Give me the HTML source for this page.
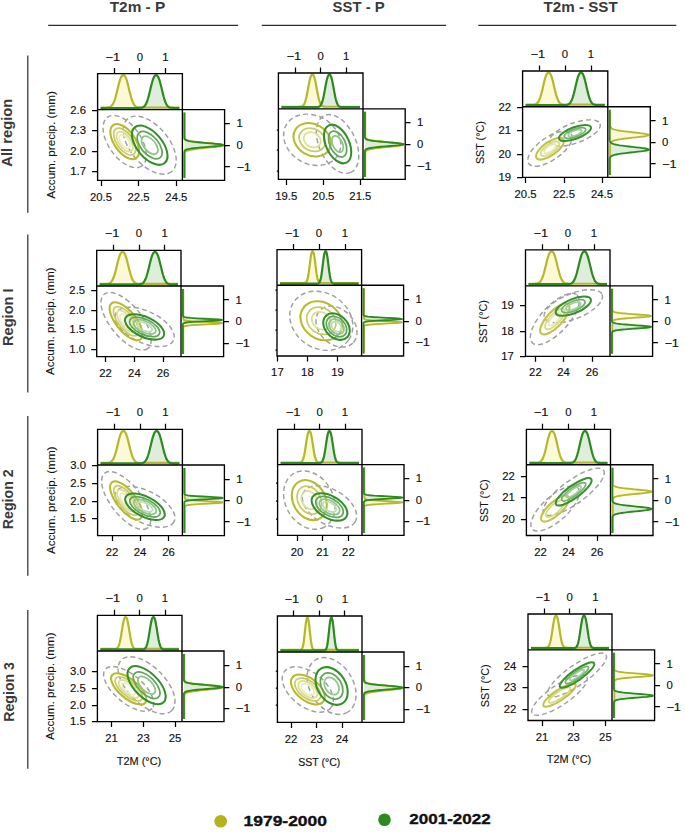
<!DOCTYPE html>
<html lang="en"><head><meta charset="utf-8"><title>Joint distributions</title>
<style>html,body{margin:0;padding:0;background:#fff}body{width:685px;height:836px;overflow:hidden;font-family:"Liberation Sans",sans-serif}svg{display:block}</style></head>
<body>
<svg width="685" height="836" viewBox="0 0 685 836" font-family="'Liberation Sans', sans-serif">
<rect width="685" height="836" fill="#ffffff"/>
<text x="137.5" y="12.3" font-size="14.7" text-anchor="middle" fill="#3a3a3a" font-weight="bold" textLength="55.6" lengthAdjust="spacingAndGlyphs">T2m - P</text>
<path d="M48.2 25.4H238" stroke="#2e2e2e" stroke-width="1.25" fill="none"/>
<text x="358.65" y="12.3" font-size="14.7" text-anchor="middle" fill="#3a3a3a" font-weight="bold" textLength="52.1" lengthAdjust="spacingAndGlyphs">SST - P</text>
<path d="M261.7 25.4H446" stroke="#2e2e2e" stroke-width="1.25" fill="none"/>
<text x="580.6" y="12.3" font-size="14.7" text-anchor="middle" fill="#3a3a3a" font-weight="bold" textLength="74.2" lengthAdjust="spacingAndGlyphs">T2m - SST</text>
<path d="M478.3 25.4H676.3" stroke="#2e2e2e" stroke-width="1.25" fill="none"/>
<text x="12.4" y="132.7" font-size="14.4" text-anchor="middle" fill="#3a3a3a" font-weight="bold" textLength="68.2" lengthAdjust="spacingAndGlyphs" transform="rotate(-90 12.4 132.7)">All region</text>
<path d="M27.8 55.5V212.7" stroke="#3a3a3a" stroke-width="1.3" fill="none"/>
<text x="13.2" y="317.2" font-size="14.4" text-anchor="middle" fill="#3a3a3a" font-weight="bold" textLength="57.6" lengthAdjust="spacingAndGlyphs" transform="rotate(-90 13.2 317.2)">Region I</text>
<path d="M27.8 234.5V392.5" stroke="#3a3a3a" stroke-width="1.3" fill="none"/>
<text x="12.6" y="499.3" font-size="14.4" text-anchor="middle" fill="#3a3a3a" font-weight="bold" textLength="59.8" lengthAdjust="spacingAndGlyphs" transform="rotate(-90 12.6 499.3)">Region 2</text>
<path d="M27.8 416V575.8" stroke="#3a3a3a" stroke-width="1.3" fill="none"/>
<text x="13.6" y="691.9" font-size="14.4" text-anchor="middle" fill="#3a3a3a" font-weight="bold" textLength="59.8" lengthAdjust="spacingAndGlyphs" transform="rotate(-90 13.6 691.9)">Region 3</text>
<path d="M27.8 610.1V768.7" stroke="#3a3a3a" stroke-width="1.3" fill="none"/>
<g>
<path d="M100.6 107.9 L100.6 107.9 L101.2 107.9 L101.8 107.9 L102.4 107.9 L103.01 107.9 L103.61 107.9 L104.21 107.9 L104.81 107.89 L105.41 107.89 L106.01 107.87 L106.62 107.85 L107.22 107.82 L107.82 107.77 L108.42 107.69 L109.02 107.57 L109.62 107.38 L110.22 107.12 L110.83 106.76 L111.43 106.27 L112.03 105.61 L112.63 104.76 L113.23 103.7 L113.83 102.39 L114.44 100.82 L115.04 99.01 L115.64 96.96 L116.24 94.7 L116.84 92.28 L117.44 89.78 L118.04 87.26 L118.65 84.81 L119.25 82.51 L119.85 80.44 L120.45 78.68 L121.05 77.26 L121.65 76.23 L122.25 75.56 L122.86 75.25 L123.46 75.2 L124.06 75.38 L124.66 75.87 L125.26 76.72 L125.86 77.96 L126.47 79.57 L127.07 81.5 L127.67 83.69 L128.27 86.08 L128.87 88.58 L129.47 91.1 L130.07 93.57 L130.68 95.91 L131.28 98.06 L131.88 99.99 L132.48 101.68 L133.08 103.11 L133.68 104.29 L134.29 105.23 L134.89 105.98 L135.49 106.55 L136.09 106.97 L136.69 107.27 L137.29 107.49 L137.89 107.64 L138.5 107.73 L139.1 107.8 L139.7 107.84 L140.3 107.87 L140.9 107.88 L141.5 107.89 L142.11 107.89 L142.71 107.9 L143.31 107.9 L143.91 107.9 L144.51 107.9 L145.11 107.9 L145.71 107.9 L146.32 107.9 L146.92 107.9 L147.52 107.9 L148.12 107.9 L148.72 107.9 L149.32 107.9 L149.93 107.9 L150.53 107.9 L151.13 107.9 L151.73 107.9 L152.33 107.9 L152.93 107.9 L153.53 107.9 L154.14 107.9 L154.74 107.9 L155.34 107.9 L155.94 107.9 L156.54 107.9 L157.14 107.9 L157.75 107.9 L158.35 107.9 L158.95 107.9 L159.55 107.9 L160.15 107.9 L160.75 107.9 L161.35 107.9 L161.96 107.9 L162.56 107.9 L163.16 107.9 L163.76 107.9 L164.36 107.9 L164.96 107.9 L165.56 107.9 L166.17 107.9 L166.77 107.9 L167.37 107.9 L167.97 107.9 L168.57 107.9 L169.17 107.9 L169.78 107.9 L170.38 107.9 L170.98 107.9 L171.58 107.9 L172.18 107.9 L172.78 107.9 L173.38 107.9 L173.99 107.9 L174.59 107.9 L175.19 107.9 L175.79 107.9 L176.39 107.9 L176.99 107.9 L177.6 107.9 L178.2 107.9 L178.8 107.9 L179.4 107.9 L179.4 107.9Z" fill="#fdf7cf" fill-opacity="0.85" stroke="none"/>
<path d="M100.6 107.9 L100.6 107.9 L101.2 107.9 L101.8 107.9 L102.4 107.9 L103.01 107.9 L103.61 107.9 L104.21 107.9 L104.81 107.9 L105.41 107.9 L106.01 107.9 L106.62 107.9 L107.22 107.9 L107.82 107.9 L108.42 107.9 L109.02 107.9 L109.62 107.9 L110.22 107.9 L110.83 107.9 L111.43 107.9 L112.03 107.9 L112.63 107.9 L113.23 107.9 L113.83 107.9 L114.44 107.9 L115.04 107.9 L115.64 107.9 L116.24 107.9 L116.84 107.9 L117.44 107.9 L118.04 107.9 L118.65 107.9 L119.25 107.9 L119.85 107.9 L120.45 107.9 L121.05 107.9 L121.65 107.9 L122.25 107.9 L122.86 107.9 L123.46 107.9 L124.06 107.9 L124.66 107.9 L125.26 107.9 L125.86 107.9 L126.47 107.9 L127.07 107.9 L127.67 107.9 L128.27 107.9 L128.87 107.9 L129.47 107.9 L130.07 107.9 L130.68 107.9 L131.28 107.9 L131.88 107.9 L132.48 107.9 L133.08 107.9 L133.68 107.9 L134.29 107.9 L134.89 107.9 L135.49 107.9 L136.09 107.9 L136.69 107.9 L137.29 107.89 L137.89 107.89 L138.5 107.88 L139.1 107.87 L139.7 107.84 L140.3 107.8 L140.9 107.73 L141.5 107.64 L142.11 107.49 L142.71 107.27 L143.31 106.97 L143.91 106.55 L144.51 105.98 L145.11 105.24 L145.71 104.29 L146.32 103.11 L146.92 101.68 L147.52 100 L148.12 98.07 L148.72 95.91 L149.32 93.57 L149.93 91.11 L150.53 88.58 L151.13 86.09 L151.73 83.7 L152.33 81.5 L152.93 79.57 L153.53 77.97 L154.14 76.73 L154.74 75.87 L155.34 75.38 L155.94 75.2 L156.54 75.25 L157.14 75.56 L157.75 76.22 L158.35 77.26 L158.95 78.68 L159.55 80.44 L160.15 82.5 L160.75 84.8 L161.35 87.25 L161.96 89.77 L162.56 92.28 L163.16 94.69 L163.76 96.95 L164.36 99 L164.96 100.82 L165.56 102.38 L166.17 103.69 L166.77 104.76 L167.37 105.61 L167.97 106.27 L168.57 106.76 L169.17 107.12 L169.78 107.38 L170.38 107.56 L170.98 107.69 L171.58 107.77 L172.18 107.82 L172.78 107.85 L173.38 107.87 L173.99 107.89 L174.59 107.89 L175.19 107.9 L175.79 107.9 L176.39 107.9 L176.99 107.9 L177.6 107.9 L178.2 107.9 L178.8 107.9 L179.4 107.9 L179.4 107.9Z" fill="#d9ead6" fill-opacity="0.85" stroke="none"/>
<path d="M100.6 107.55 L101.2 107.55 L101.8 107.55 L102.4 107.55 L103.01 107.55 L103.61 107.55 L104.21 107.55 L104.81 107.54 L105.41 107.54 L106.01 107.52 L106.62 107.5 L107.22 107.47 L107.82 107.42 L108.42 107.34 L109.02 107.22 L109.62 107.04 L110.22 106.78 L110.83 106.42 L111.43 105.93 L112.03 105.29 L112.63 104.45 L113.23 103.39 L113.83 102.1 L114.44 100.55 L115.04 98.75 L115.64 96.72 L116.24 94.49 L116.84 92.1 L117.44 89.62 L118.04 87.13 L118.65 84.7 L119.25 82.43 L119.85 80.39 L120.45 78.64 L121.05 77.24 L121.65 76.21 L122.25 75.56 L122.86 75.25 L123.46 75.2 L124.06 75.37 L124.66 75.86 L125.26 76.71 L125.86 77.93 L126.47 79.52 L127.07 81.43 L127.67 83.6 L128.27 85.96 L128.87 88.43 L129.47 90.93 L130.07 93.37 L130.68 95.68 L131.28 97.82 L131.88 99.73 L132.48 101.39 L133.08 102.81 L133.68 103.97 L134.29 104.91 L134.89 105.65 L135.49 106.21 L136.09 106.63 L136.69 106.93 L137.29 107.14 L137.89 107.29 L138.5 107.39 L139.1 107.45 L139.7 107.49 L140.3 107.52 L140.9 107.53 L141.5 107.54 L142.11 107.54 L142.71 107.55 L143.31 107.55 L143.91 107.55 L144.51 107.55 L145.11 107.55 L145.71 107.55 L146.32 107.55 L146.92 107.55 L147.52 107.55 L148.12 107.55 L148.72 107.55 L149.32 107.55 L149.93 107.55 L150.53 107.55 L151.13 107.55 L151.73 107.55 L152.33 107.55 L152.93 107.55 L153.53 107.55 L154.14 107.55 L154.74 107.55 L155.34 107.55 L155.94 107.55 L156.54 107.55 L157.14 107.55 L157.75 107.55 L158.35 107.55 L158.95 107.55 L159.55 107.55 L160.15 107.55 L160.75 107.55 L161.35 107.55 L161.96 107.55 L162.56 107.55 L163.16 107.55 L163.76 107.55 L164.36 107.55 L164.96 107.55 L165.56 107.55 L166.17 107.55 L166.77 107.55 L167.37 107.55 L167.97 107.55 L168.57 107.55 L169.17 107.55 L169.78 107.55 L170.38 107.55 L170.98 107.55 L171.58 107.55 L172.18 107.55 L172.78 107.55 L173.38 107.55 L173.99 107.55 L174.59 107.55 L175.19 107.55 L175.79 107.55 L176.39 107.55 L176.99 107.55 L177.6 107.55 L178.2 107.55 L178.8 107.55 L179.4 107.55" fill="none" stroke="#b5b82a" stroke-width="2.2" stroke-linejoin="round"/>
<path d="M100.6 108 L101.2 108 L101.8 108 L102.4 108 L103.01 108 L103.61 108 L104.21 108 L104.81 108 L105.41 108 L106.01 108 L106.62 108 L107.22 108 L107.82 108 L108.42 108 L109.02 108 L109.62 108 L110.22 108 L110.83 108 L111.43 108 L112.03 108 L112.63 108 L113.23 108 L113.83 108 L114.44 108 L115.04 108 L115.64 108 L116.24 108 L116.84 108 L117.44 108 L118.04 108 L118.65 108 L119.25 108 L119.85 108 L120.45 108 L121.05 108 L121.65 108 L122.25 108 L122.86 108 L123.46 108 L124.06 108 L124.66 108 L125.26 108 L125.86 108 L126.47 108 L127.07 108 L127.67 108 L128.27 108 L128.87 108 L129.47 108 L130.07 108 L130.68 108 L131.28 108 L131.88 108 L132.48 108 L133.08 108 L133.68 108 L134.29 108 L134.89 108 L135.49 108 L136.09 108 L136.69 108 L137.29 107.99 L137.89 107.99 L138.5 107.98 L139.1 107.97 L139.7 107.94 L140.3 107.9 L140.9 107.83 L141.5 107.74 L142.11 107.59 L142.71 107.37 L143.31 107.07 L143.91 106.64 L144.51 106.07 L145.11 105.33 L145.71 104.38 L146.32 103.19 L146.92 101.76 L147.52 100.07 L148.12 98.14 L148.72 95.98 L149.32 93.63 L149.93 91.15 L150.53 88.62 L151.13 86.12 L151.73 83.72 L152.33 81.52 L152.93 79.58 L153.53 77.97 L154.14 76.73 L154.74 75.87 L155.34 75.38 L155.94 75.2 L156.54 75.25 L157.14 75.56 L157.75 76.23 L158.35 77.27 L158.95 78.69 L159.55 80.46 L160.15 82.53 L160.75 84.83 L161.35 87.29 L161.96 89.81 L162.56 92.33 L163.16 94.75 L163.76 97.02 L164.36 99.08 L164.96 100.9 L165.56 102.47 L166.17 103.78 L166.77 104.85 L167.37 105.7 L167.97 106.36 L168.57 106.86 L169.17 107.22 L169.78 107.48 L170.38 107.66 L170.98 107.79 L171.58 107.87 L172.18 107.92 L172.78 107.95 L173.38 107.97 L173.99 107.99 L174.59 107.99 L175.19 108 L175.79 108 L176.39 108 L176.99 108 L177.6 108 L178.2 108 L178.8 108 L179.4 108" fill="none" stroke="#2c8a1e" stroke-width="2.2" stroke-linejoin="round"/>
<path d="M184.4 112.6 L184.4 112.6 L184.4 113 L184.4 113.4 L184.4 113.8 L184.4 114.2 L184.4 114.6 L184.4 115 L184.4 115.4 L184.4 115.8 L184.4 116.21 L184.4 116.61 L184.4 117.01 L184.4 117.41 L184.4 117.81 L184.4 118.21 L184.4 118.61 L184.4 119.01 L184.4 119.41 L184.4 119.81 L184.4 120.21 L184.4 120.61 L184.4 121.01 L184.4 121.41 L184.4 121.81 L184.4 122.21 L184.4 122.62 L184.4 123.02 L184.4 123.42 L184.4 123.82 L184.4 124.22 L184.4 124.62 L184.4 125.02 L184.4 125.42 L184.4 125.82 L184.4 126.22 L184.4 126.62 L184.4 127.02 L184.4 127.42 L184.4 127.82 L184.4 128.22 L184.4 128.62 L184.4 129.03 L184.4 129.43 L184.4 129.83 L184.4 130.23 L184.4 130.63 L184.4 131.03 L184.4 131.43 L184.4 131.83 L184.4 132.23 L184.4 132.63 L184.4 133.03 L184.4 133.43 L184.4 133.83 L184.4 134.23 L184.4 134.63 L184.4 135.03 L184.4 135.43 L184.41 135.84 L184.41 136.24 L184.43 136.64 L184.45 137.04 L184.5 137.44 L184.57 137.84 L184.7 138.24 L184.92 138.64 L185.25 139.04 L185.75 139.44 L186.49 139.84 L187.53 140.24 L188.96 140.64 L190.84 141.04 L193.22 141.44 L196.12 141.84 L199.51 142.25 L203.3 142.65 L207.33 143.05 L211.39 143.45 L215.22 143.85 L218.54 144.25 L221.09 144.65 L222.65 145.05 L223.09 145.45 L222.36 145.85 L220.54 146.25 L217.77 146.65 L214.29 147.05 L210.38 147.45 L206.3 147.85 L202.31 148.25 L198.61 148.66 L195.34 149.06 L192.57 149.46 L190.32 149.86 L188.56 150.26 L187.24 150.66 L186.28 151.06 L185.6 151.46 L185.15 151.86 L184.85 152.26 L184.67 152.66 L184.55 153.06 L184.48 153.46 L184.44 153.86 L184.42 154.26 L184.41 154.66 L184.41 155.07 L184.4 155.47 L184.4 155.87 L184.4 156.27 L184.4 156.67 L184.4 157.07 L184.4 157.47 L184.4 157.87 L184.4 158.27 L184.4 158.67 L184.4 159.07 L184.4 159.47 L184.4 159.87 L184.4 160.27 L184.4 160.67 L184.4 161.07 L184.4 161.47 L184.4 161.88 L184.4 162.28 L184.4 162.68 L184.4 163.08 L184.4 163.48 L184.4 163.88 L184.4 164.28 L184.4 164.68 L184.4 165.08 L184.4 165.48 L184.4 165.88 L184.4 166.28 L184.4 166.68 L184.4 167.08 L184.4 167.48 L184.4 167.88 L184.4 168.29 L184.4 168.69 L184.4 169.09 L184.4 169.49 L184.4 169.89 L184.4 170.29 L184.4 170.69 L184.4 171.09 L184.4 171.49 L184.4 171.89 L184.4 172.29 L184.4 172.69 L184.4 173.09 L184.4 173.49 L184.4 173.89 L184.4 174.29 L184.4 174.7 L184.4 175.1 L184.4 175.5 L184.4 175.9 L184.4 176.3 L184.4 176.7 L184.4 177.1 L184.4 177.5 L184.4 177.9 L184.4 177.9Z" fill="#fdf7cf" fill-opacity="0.85" stroke="none"/>
<path d="M184.4 112.6 L184.4 112.6 L184.4 113 L184.4 113.4 L184.4 113.8 L184.4 114.2 L184.4 114.6 L184.4 115 L184.4 115.4 L184.4 115.8 L184.4 116.21 L184.4 116.61 L184.4 117.01 L184.4 117.41 L184.4 117.81 L184.4 118.21 L184.4 118.61 L184.4 119.01 L184.4 119.41 L184.4 119.81 L184.4 120.21 L184.4 120.61 L184.4 121.01 L184.4 121.41 L184.4 121.81 L184.4 122.21 L184.4 122.62 L184.4 123.02 L184.4 123.42 L184.4 123.82 L184.4 124.22 L184.4 124.62 L184.4 125.02 L184.4 125.42 L184.4 125.82 L184.4 126.22 L184.4 126.62 L184.4 127.02 L184.4 127.42 L184.4 127.82 L184.4 128.22 L184.4 128.62 L184.4 129.03 L184.4 129.43 L184.4 129.83 L184.4 130.23 L184.4 130.63 L184.4 131.03 L184.4 131.43 L184.4 131.83 L184.4 132.23 L184.4 132.63 L184.4 133.03 L184.4 133.43 L184.4 133.83 L184.4 134.23 L184.4 134.63 L184.4 135.03 L184.4 135.43 L184.4 135.84 L184.4 136.24 L184.4 136.64 L184.41 137.04 L184.41 137.44 L184.43 137.84 L184.47 138.24 L184.54 138.64 L184.68 139.04 L184.94 139.44 L185.37 139.84 L186.08 140.24 L187.19 140.64 L188.83 141.04 L191.12 141.44 L194.15 141.84 L197.93 142.25 L202.36 142.65 L207.21 143.05 L212.11 143.45 L216.6 143.85 L220.19 144.25 L222.45 144.65 L223.09 145.05 L222.03 145.45 L219.41 145.85 L215.55 146.25 L210.92 146.65 L205.99 147.05 L201.21 147.45 L196.92 147.85 L193.32 148.25 L190.48 148.66 L188.36 149.06 L186.87 149.46 L185.87 149.86 L185.24 150.26 L184.86 150.66 L184.64 151.06 L184.52 151.46 L184.46 151.86 L184.43 152.26 L184.41 152.66 L184.4 153.06 L184.4 153.46 L184.4 153.86 L184.4 154.26 L184.4 154.66 L184.4 155.07 L184.4 155.47 L184.4 155.87 L184.4 156.27 L184.4 156.67 L184.4 157.07 L184.4 157.47 L184.4 157.87 L184.4 158.27 L184.4 158.67 L184.4 159.07 L184.4 159.47 L184.4 159.87 L184.4 160.27 L184.4 160.67 L184.4 161.07 L184.4 161.47 L184.4 161.88 L184.4 162.28 L184.4 162.68 L184.4 163.08 L184.4 163.48 L184.4 163.88 L184.4 164.28 L184.4 164.68 L184.4 165.08 L184.4 165.48 L184.4 165.88 L184.4 166.28 L184.4 166.68 L184.4 167.08 L184.4 167.48 L184.4 167.88 L184.4 168.29 L184.4 168.69 L184.4 169.09 L184.4 169.49 L184.4 169.89 L184.4 170.29 L184.4 170.69 L184.4 171.09 L184.4 171.49 L184.4 171.89 L184.4 172.29 L184.4 172.69 L184.4 173.09 L184.4 173.49 L184.4 173.89 L184.4 174.29 L184.4 174.7 L184.4 175.1 L184.4 175.5 L184.4 175.9 L184.4 176.3 L184.4 176.7 L184.4 177.1 L184.4 177.5 L184.4 177.9 L184.4 177.9Z" fill="#d9ead6" fill-opacity="0.85" stroke="none"/>
<path d="M184.7 112.6 L184.7 113 L184.7 113.4 L184.7 113.8 L184.7 114.2 L184.7 114.6 L184.7 115 L184.7 115.4 L184.7 115.8 L184.7 116.21 L184.7 116.61 L184.7 117.01 L184.7 117.41 L184.7 117.81 L184.7 118.21 L184.7 118.61 L184.7 119.01 L184.7 119.41 L184.7 119.81 L184.7 120.21 L184.7 120.61 L184.7 121.01 L184.7 121.41 L184.7 121.81 L184.7 122.21 L184.7 122.62 L184.7 123.02 L184.7 123.42 L184.7 123.82 L184.7 124.22 L184.7 124.62 L184.7 125.02 L184.7 125.42 L184.7 125.82 L184.7 126.22 L184.7 126.62 L184.7 127.02 L184.7 127.42 L184.7 127.82 L184.7 128.22 L184.7 128.62 L184.7 129.03 L184.7 129.43 L184.7 129.83 L184.7 130.23 L184.7 130.63 L184.7 131.03 L184.7 131.43 L184.7 131.83 L184.7 132.23 L184.7 132.63 L184.7 133.03 L184.7 133.43 L184.7 133.83 L184.7 134.23 L184.7 134.63 L184.7 135.03 L184.7 135.43 L184.71 135.84 L184.71 136.24 L184.73 136.64 L184.75 137.04 L184.8 137.44 L184.87 137.84 L185 138.24 L185.21 138.64 L185.54 139.04 L186.04 139.44 L186.77 139.84 L187.81 140.24 L189.22 140.64 L191.09 141.04 L193.45 141.44 L196.33 141.84 L199.69 142.25 L203.45 142.65 L207.45 143.05 L211.48 143.45 L215.28 143.85 L218.58 144.25 L221.11 144.65 L222.66 145.05 L223.09 145.45 L222.37 145.85 L220.56 146.25 L217.81 146.65 L214.36 147.05 L210.48 147.45 L206.43 147.85 L202.48 148.25 L198.8 148.66 L195.56 149.06 L192.81 149.46 L190.57 149.86 L188.83 150.26 L187.51 150.66 L186.56 151.06 L185.89 151.46 L185.44 151.86 L185.15 152.26 L184.96 152.66 L184.85 153.06 L184.78 153.46 L184.74 153.86 L184.72 154.26 L184.71 154.66 L184.71 155.07 L184.7 155.47 L184.7 155.87 L184.7 156.27 L184.7 156.67 L184.7 157.07 L184.7 157.47 L184.7 157.87 L184.7 158.27 L184.7 158.67 L184.7 159.07 L184.7 159.47 L184.7 159.87 L184.7 160.27 L184.7 160.67 L184.7 161.07 L184.7 161.47 L184.7 161.88 L184.7 162.28 L184.7 162.68 L184.7 163.08 L184.7 163.48 L184.7 163.88 L184.7 164.28 L184.7 164.68 L184.7 165.08 L184.7 165.48 L184.7 165.88 L184.7 166.28 L184.7 166.68 L184.7 167.08 L184.7 167.48 L184.7 167.88 L184.7 168.29 L184.7 168.69 L184.7 169.09 L184.7 169.49 L184.7 169.89 L184.7 170.29 L184.7 170.69 L184.7 171.09 L184.7 171.49 L184.7 171.89 L184.7 172.29 L184.7 172.69 L184.7 173.09 L184.7 173.49 L184.7 173.89 L184.7 174.29 L184.7 174.7 L184.7 175.1 L184.7 175.5 L184.7 175.9 L184.7 176.3 L184.7 176.7 L184.7 177.1 L184.7 177.5 L184.7 177.9" fill="none" stroke="#b5b82a" stroke-width="1.85" stroke-linejoin="round"/>
<path d="M184.3 112.6 L184.3 113 L184.3 113.4 L184.3 113.8 L184.3 114.2 L184.3 114.6 L184.3 115 L184.3 115.4 L184.3 115.8 L184.3 116.21 L184.3 116.61 L184.3 117.01 L184.3 117.41 L184.3 117.81 L184.3 118.21 L184.3 118.61 L184.3 119.01 L184.3 119.41 L184.3 119.81 L184.3 120.21 L184.3 120.61 L184.3 121.01 L184.3 121.41 L184.3 121.81 L184.3 122.21 L184.3 122.62 L184.3 123.02 L184.3 123.42 L184.3 123.82 L184.3 124.22 L184.3 124.62 L184.3 125.02 L184.3 125.42 L184.3 125.82 L184.3 126.22 L184.3 126.62 L184.3 127.02 L184.3 127.42 L184.3 127.82 L184.3 128.22 L184.3 128.62 L184.3 129.03 L184.3 129.43 L184.3 129.83 L184.3 130.23 L184.3 130.63 L184.3 131.03 L184.3 131.43 L184.3 131.83 L184.3 132.23 L184.3 132.63 L184.3 133.03 L184.3 133.43 L184.3 133.83 L184.3 134.23 L184.3 134.63 L184.3 135.03 L184.3 135.43 L184.3 135.84 L184.3 136.24 L184.3 136.64 L184.31 137.04 L184.31 137.44 L184.33 137.84 L184.37 138.24 L184.44 138.64 L184.58 139.04 L184.84 139.44 L185.27 139.84 L185.99 140.24 L187.1 140.64 L188.74 141.04 L191.03 141.44 L194.07 141.84 L197.86 142.25 L202.31 142.65 L207.17 143.05 L212.08 143.45 L216.58 143.85 L220.18 144.25 L222.44 144.65 L223.09 145.05 L222.03 145.45 L219.4 145.85 L215.53 146.25 L210.89 146.65 L205.95 147.05 L201.16 147.45 L196.86 147.85 L193.25 148.25 L190.4 148.66 L188.28 149.06 L186.78 149.46 L185.78 149.86 L185.14 150.26 L184.76 150.66 L184.54 151.06 L184.42 151.46 L184.36 151.86 L184.33 152.26 L184.31 152.66 L184.3 153.06 L184.3 153.46 L184.3 153.86 L184.3 154.26 L184.3 154.66 L184.3 155.07 L184.3 155.47 L184.3 155.87 L184.3 156.27 L184.3 156.67 L184.3 157.07 L184.3 157.47 L184.3 157.87 L184.3 158.27 L184.3 158.67 L184.3 159.07 L184.3 159.47 L184.3 159.87 L184.3 160.27 L184.3 160.67 L184.3 161.07 L184.3 161.47 L184.3 161.88 L184.3 162.28 L184.3 162.68 L184.3 163.08 L184.3 163.48 L184.3 163.88 L184.3 164.28 L184.3 164.68 L184.3 165.08 L184.3 165.48 L184.3 165.88 L184.3 166.28 L184.3 166.68 L184.3 167.08 L184.3 167.48 L184.3 167.88 L184.3 168.29 L184.3 168.69 L184.3 169.09 L184.3 169.49 L184.3 169.89 L184.3 170.29 L184.3 170.69 L184.3 171.09 L184.3 171.49 L184.3 171.89 L184.3 172.29 L184.3 172.69 L184.3 173.09 L184.3 173.49 L184.3 173.89 L184.3 174.29 L184.3 174.7 L184.3 175.1 L184.3 175.5 L184.3 175.9 L184.3 176.3 L184.3 176.7 L184.3 177.1 L184.3 177.5 L184.3 177.9" fill="none" stroke="#2c8a1e" stroke-width="1.85" stroke-linejoin="round"/>
<ellipse cx="124.7" cy="141.6" rx="29.82" ry="16.19" transform="rotate(55 124.7 141.6)" fill="none" stroke="#9e9ea5" stroke-width="1.45" stroke-dasharray="5 3.1"/>
<ellipse cx="149.7" cy="145.2" rx="34.36" ry="19.17" transform="rotate(50 149.7 145.2)" fill="none" stroke="#9e9ea5" stroke-width="1.45" stroke-dasharray="5 3.1"/>
<ellipse cx="124.7" cy="141.6" rx="7.64" ry="3.99" transform="rotate(55 124.7 141.6)" fill="none" stroke="#ecedbd" stroke-width="1.75"/>
<ellipse cx="124.7" cy="141.6" rx="11.46" ry="5.98" transform="rotate(55 124.7 141.6)" fill="none" stroke="#dcde92" stroke-width="1.75"/>
<ellipse cx="124.7" cy="141.6" rx="15.48" ry="8.09" transform="rotate(55 124.7 141.6)" fill="none" stroke="#c9cc62" stroke-width="1.75"/>
<ellipse cx="124.7" cy="141.6" rx="20.1" ry="10.5" transform="rotate(55 124.7 141.6)" fill="none" stroke="#b7ba2e" stroke-width="2.05"/>
<ellipse cx="149.7" cy="145.2" rx="10.72" ry="5.8" transform="rotate(50 149.7 145.2)" fill="none" stroke="#8fc489" stroke-width="1.75"/>
<ellipse cx="149.7" cy="145.2" rx="16.31" ry="8.82" transform="rotate(50 149.7 145.2)" fill="none" stroke="#5fa757" stroke-width="1.75"/>
<ellipse cx="149.7" cy="145.2" rx="23.3" ry="12.6" transform="rotate(50 149.7 145.2)" fill="none" stroke="#338f29" stroke-width="2.05"/>
<path d="M97.6 73.6H182.4V109.6H224.6V180.4H97.6V73.6H97.6Z" fill="none" stroke="#000" stroke-width="1.35"/>
<path d="M97.6 109.6H182.4M182.4 109.6V180.4" fill="none" stroke="#000" stroke-width="1.35"/>
<text x="101" y="200.5" font-size="10.4" text-anchor="middle" fill="#111111" stroke="#111111" stroke-width="0.14" textLength="22.04" lengthAdjust="spacingAndGlyphs">20.5</text>
<text x="138.6" y="200.5" font-size="10.4" text-anchor="middle" fill="#111111" stroke="#111111" stroke-width="0.14" textLength="22.04" lengthAdjust="spacingAndGlyphs">22.5</text>
<text x="176.4" y="200.5" font-size="10.4" text-anchor="middle" fill="#111111" stroke="#111111" stroke-width="0.14" textLength="22.04" lengthAdjust="spacingAndGlyphs">24.5</text>
<text x="86" y="113.8" font-size="10.4" text-anchor="end" fill="#111111" stroke="#111111" stroke-width="0.14" textLength="15.74" lengthAdjust="spacingAndGlyphs">2.6</text>
<text x="86" y="134.2" font-size="10.4" text-anchor="end" fill="#111111" stroke="#111111" stroke-width="0.14" textLength="15.74" lengthAdjust="spacingAndGlyphs">2.3</text>
<text x="86" y="155" font-size="10.4" text-anchor="end" fill="#111111" stroke="#111111" stroke-width="0.14" textLength="15.74" lengthAdjust="spacingAndGlyphs">2.0</text>
<text x="86" y="175.4" font-size="10.4" text-anchor="end" fill="#111111" stroke="#111111" stroke-width="0.14" textLength="15.74" lengthAdjust="spacingAndGlyphs">1.7</text>
<text x="112.8" y="60.6" font-size="10.4" text-anchor="middle" fill="#111111" stroke="#111111" stroke-width="0.14" textLength="14.59" lengthAdjust="spacingAndGlyphs">−1</text>
<text x="139.9" y="60.6" font-size="10.4" text-anchor="middle" fill="#111111" stroke="#111111" stroke-width="0.14" textLength="6.3" lengthAdjust="spacingAndGlyphs">0</text>
<text x="165.5" y="60.6" font-size="10.4" text-anchor="middle" fill="#111111" stroke="#111111" stroke-width="0.14" textLength="6.3" lengthAdjust="spacingAndGlyphs">1</text>
<text x="236.4" y="127.1" font-size="10.4" text-anchor="start" fill="#111111" stroke="#111111" stroke-width="0.14" textLength="6.3" lengthAdjust="spacingAndGlyphs">1</text>
<text x="236.4" y="148.8" font-size="10.4" text-anchor="start" fill="#111111" stroke="#111111" stroke-width="0.14" textLength="6.3" lengthAdjust="spacingAndGlyphs">0</text>
<text x="236.4" y="170.5" font-size="10.4" text-anchor="start" fill="#111111" stroke="#111111" stroke-width="0.14" textLength="14.59" lengthAdjust="spacingAndGlyphs">−1</text>
<path d="M101.5 180.4v5.5M138.5 180.4v5.5M176.5 180.4v5.5M97.6 110.5h-5.5M97.6 130.5h-5.5M97.6 151.5h-5.5M97.6 171.5h-5.5M114.5 73.6v-5.6M139.5 73.6v-5.6M165.5 73.6v-5.6M224.6 123.5h5.3M224.6 145.5h5.3M224.6 166.5h5.3" fill="none" stroke="#000" stroke-width="1.25"/>
<text x="54.7" y="145" font-size="10.6" text-anchor="middle" fill="#111111" stroke="#111111" stroke-width="0.1" textLength="107.6" lengthAdjust="spacingAndGlyphs" transform="rotate(-90 54.7 145)">Accum. precip. (mm)</text>
</g>
<g>
<path d="M281.4 107.1 L281.4 107.1 L282 107.1 L282.6 107.1 L283.2 107.1 L283.8 107.1 L284.4 107.1 L285 107.1 L285.6 107.1 L286.2 107.1 L286.8 107.1 L287.4 107.1 L288 107.1 L288.6 107.1 L289.2 107.1 L289.8 107.1 L290.4 107.1 L291 107.1 L291.6 107.1 L292.2 107.1 L292.8 107.1 L293.4 107.1 L294 107.1 L294.6 107.1 L295.2 107.1 L295.8 107.1 L296.4 107.1 L297 107.1 L297.6 107.1 L298.2 107.09 L298.8 107.09 L299.4 107.07 L300 107.05 L300.6 106.99 L301.2 106.9 L301.8 106.73 L302.4 106.45 L303 106 L303.6 105.33 L304.2 104.37 L304.8 103.04 L305.4 101.29 L306 99.09 L306.6 96.46 L307.2 93.46 L307.8 90.22 L308.4 86.89 L309 83.66 L309.6 80.73 L310.2 78.28 L310.8 76.42 L311.4 75.23 L312 74.68 L312.6 74.62 L313.2 74.98 L313.8 75.95 L314.4 77.59 L315 79.86 L315.6 82.64 L316.2 85.79 L316.8 89.11 L317.4 92.4 L318 95.5 L318.6 98.26 L319.2 100.6 L319.8 102.5 L320.4 103.97 L321 105.05 L321.6 105.81 L322.2 106.32 L322.8 106.65 L323.4 106.85 L324 106.97 L324.6 107.03 L325.2 107.07 L325.8 107.08 L326.4 107.09 L327 107.1 L327.6 107.1 L328.2 107.1 L328.8 107.1 L329.4 107.1 L330 107.1 L330.6 107.1 L331.2 107.1 L331.8 107.1 L332.4 107.1 L333 107.1 L333.6 107.1 L334.2 107.1 L334.8 107.1 L335.4 107.1 L336 107.1 L336.6 107.1 L337.2 107.1 L337.8 107.1 L338.4 107.1 L339 107.1 L339.6 107.1 L340.2 107.1 L340.8 107.1 L341.4 107.1 L342 107.1 L342.6 107.1 L343.2 107.1 L343.8 107.1 L344.4 107.1 L345 107.1 L345.6 107.1 L346.2 107.1 L346.8 107.1 L347.4 107.1 L348 107.1 L348.6 107.1 L349.2 107.1 L349.8 107.1 L350.4 107.1 L351 107.1 L351.6 107.1 L352.2 107.1 L352.8 107.1 L353.4 107.1 L354 107.1 L354.6 107.1 L355.2 107.1 L355.8 107.1 L356.4 107.1 L357 107.1 L357.6 107.1 L358.2 107.1 L358.8 107.1 L359.4 107.1 L360 107.1 L360 107.1Z" fill="#fdf7cf" fill-opacity="0.85" stroke="none"/>
<path d="M281.4 107.1 L281.4 107.1 L282 107.1 L282.6 107.1 L283.2 107.1 L283.8 107.1 L284.4 107.1 L285 107.1 L285.6 107.1 L286.2 107.1 L286.8 107.1 L287.4 107.1 L288 107.1 L288.6 107.1 L289.2 107.1 L289.8 107.1 L290.4 107.1 L291 107.1 L291.6 107.1 L292.2 107.1 L292.8 107.1 L293.4 107.1 L294 107.1 L294.6 107.1 L295.2 107.1 L295.8 107.1 L296.4 107.1 L297 107.1 L297.6 107.1 L298.2 107.1 L298.8 107.1 L299.4 107.1 L300 107.1 L300.6 107.1 L301.2 107.1 L301.8 107.1 L302.4 107.1 L303 107.1 L303.6 107.1 L304.2 107.1 L304.8 107.1 L305.4 107.1 L306 107.1 L306.6 107.1 L307.2 107.1 L307.8 107.1 L308.4 107.1 L309 107.1 L309.6 107.1 L310.2 107.1 L310.8 107.1 L311.4 107.1 L312 107.1 L312.6 107.1 L313.2 107.1 L313.8 107.1 L314.4 107.1 L315 107.1 L315.6 107.09 L316.2 107.08 L316.8 107.06 L317.4 107.01 L318 106.94 L318.6 106.79 L319.2 106.56 L319.8 106.17 L320.4 105.59 L321 104.73 L321.6 103.52 L322.2 101.92 L322.8 99.87 L323.4 97.38 L324 94.5 L324.6 91.32 L325.2 88 L325.8 84.71 L326.4 81.67 L327 79.04 L327.6 76.97 L328.2 75.55 L328.8 74.8 L329.4 74.6 L330 74.8 L330.6 75.55 L331.2 76.97 L331.8 79.04 L332.4 81.67 L333 84.71 L333.6 88 L334.2 91.32 L334.8 94.5 L335.4 97.38 L336 99.87 L336.6 101.92 L337.2 103.52 L337.8 104.73 L338.4 105.59 L339 106.17 L339.6 106.56 L340.2 106.79 L340.8 106.94 L341.4 107.01 L342 107.06 L342.6 107.08 L343.2 107.09 L343.8 107.1 L344.4 107.1 L345 107.1 L345.6 107.1 L346.2 107.1 L346.8 107.1 L347.4 107.1 L348 107.1 L348.6 107.1 L349.2 107.1 L349.8 107.1 L350.4 107.1 L351 107.1 L351.6 107.1 L352.2 107.1 L352.8 107.1 L353.4 107.1 L354 107.1 L354.6 107.1 L355.2 107.1 L355.8 107.1 L356.4 107.1 L357 107.1 L357.6 107.1 L358.2 107.1 L358.8 107.1 L359.4 107.1 L360 107.1 L360 107.1Z" fill="#d9ead6" fill-opacity="0.85" stroke="none"/>
<path d="M281.4 106.75 L282 106.75 L282.6 106.75 L283.2 106.75 L283.8 106.75 L284.4 106.75 L285 106.75 L285.6 106.75 L286.2 106.75 L286.8 106.75 L287.4 106.75 L288 106.75 L288.6 106.75 L289.2 106.75 L289.8 106.75 L290.4 106.75 L291 106.75 L291.6 106.75 L292.2 106.75 L292.8 106.75 L293.4 106.75 L294 106.75 L294.6 106.75 L295.2 106.75 L295.8 106.75 L296.4 106.75 L297 106.75 L297.6 106.75 L298.2 106.74 L298.8 106.74 L299.4 106.72 L300 106.7 L300.6 106.64 L301.2 106.55 L301.8 106.38 L302.4 106.1 L303 105.67 L303.6 105 L304.2 104.05 L304.8 102.73 L305.4 101 L306 98.82 L306.6 96.22 L307.2 93.26 L307.8 90.05 L308.4 86.76 L309 83.56 L309.6 80.67 L310.2 78.24 L310.8 76.4 L311.4 75.22 L312 74.68 L312.6 74.62 L313.2 74.97 L313.8 75.94 L314.4 77.56 L315 79.8 L315.6 82.56 L316.2 85.67 L316.8 88.95 L317.4 92.21 L318 95.27 L318.6 98 L319.2 100.32 L319.8 102.2 L320.4 103.65 L321 104.72 L321.6 105.47 L322.2 105.98 L322.8 106.3 L323.4 106.5 L324 106.62 L324.6 106.68 L325.2 106.72 L325.8 106.73 L326.4 106.74 L327 106.75 L327.6 106.75 L328.2 106.75 L328.8 106.75 L329.4 106.75 L330 106.75 L330.6 106.75 L331.2 106.75 L331.8 106.75 L332.4 106.75 L333 106.75 L333.6 106.75 L334.2 106.75 L334.8 106.75 L335.4 106.75 L336 106.75 L336.6 106.75 L337.2 106.75 L337.8 106.75 L338.4 106.75 L339 106.75 L339.6 106.75 L340.2 106.75 L340.8 106.75 L341.4 106.75 L342 106.75 L342.6 106.75 L343.2 106.75 L343.8 106.75 L344.4 106.75 L345 106.75 L345.6 106.75 L346.2 106.75 L346.8 106.75 L347.4 106.75 L348 106.75 L348.6 106.75 L349.2 106.75 L349.8 106.75 L350.4 106.75 L351 106.75 L351.6 106.75 L352.2 106.75 L352.8 106.75 L353.4 106.75 L354 106.75 L354.6 106.75 L355.2 106.75 L355.8 106.75 L356.4 106.75 L357 106.75 L357.6 106.75 L358.2 106.75 L358.8 106.75 L359.4 106.75 L360 106.75" fill="none" stroke="#b5b82a" stroke-width="2.2" stroke-linejoin="round"/>
<path d="M281.4 107.2 L282 107.2 L282.6 107.2 L283.2 107.2 L283.8 107.2 L284.4 107.2 L285 107.2 L285.6 107.2 L286.2 107.2 L286.8 107.2 L287.4 107.2 L288 107.2 L288.6 107.2 L289.2 107.2 L289.8 107.2 L290.4 107.2 L291 107.2 L291.6 107.2 L292.2 107.2 L292.8 107.2 L293.4 107.2 L294 107.2 L294.6 107.2 L295.2 107.2 L295.8 107.2 L296.4 107.2 L297 107.2 L297.6 107.2 L298.2 107.2 L298.8 107.2 L299.4 107.2 L300 107.2 L300.6 107.2 L301.2 107.2 L301.8 107.2 L302.4 107.2 L303 107.2 L303.6 107.2 L304.2 107.2 L304.8 107.2 L305.4 107.2 L306 107.2 L306.6 107.2 L307.2 107.2 L307.8 107.2 L308.4 107.2 L309 107.2 L309.6 107.2 L310.2 107.2 L310.8 107.2 L311.4 107.2 L312 107.2 L312.6 107.2 L313.2 107.2 L313.8 107.2 L314.4 107.2 L315 107.2 L315.6 107.19 L316.2 107.18 L316.8 107.16 L317.4 107.11 L318 107.03 L318.6 106.89 L319.2 106.65 L319.8 106.27 L320.4 105.68 L321 104.82 L321.6 103.61 L322.2 102 L322.8 99.95 L323.4 97.45 L324 94.56 L324.6 91.37 L325.2 88.04 L325.8 84.75 L326.4 81.69 L327 79.05 L327.6 76.98 L328.2 75.56 L328.8 74.8 L329.4 74.6 L330 74.8 L330.6 75.56 L331.2 76.98 L331.8 79.05 L332.4 81.69 L333 84.75 L333.6 88.04 L334.2 91.37 L334.8 94.56 L335.4 97.45 L336 99.95 L336.6 102 L337.2 103.61 L337.8 104.82 L338.4 105.68 L339 106.27 L339.6 106.65 L340.2 106.89 L340.8 107.03 L341.4 107.11 L342 107.16 L342.6 107.18 L343.2 107.19 L343.8 107.2 L344.4 107.2 L345 107.2 L345.6 107.2 L346.2 107.2 L346.8 107.2 L347.4 107.2 L348 107.2 L348.6 107.2 L349.2 107.2 L349.8 107.2 L350.4 107.2 L351 107.2 L351.6 107.2 L352.2 107.2 L352.8 107.2 L353.4 107.2 L354 107.2 L354.6 107.2 L355.2 107.2 L355.8 107.2 L356.4 107.2 L357 107.2 L357.6 107.2 L358.2 107.2 L358.8 107.2 L359.4 107.2 L360 107.2" fill="none" stroke="#2c8a1e" stroke-width="2.2" stroke-linejoin="round"/>
<path d="M365 111.8 L365 111.8 L365 112.2 L365 112.6 L365 113.01 L365 113.41 L365 113.81 L365 114.21 L365 114.61 L365 115.01 L365 115.42 L365 115.82 L365 116.22 L365 116.62 L365 117.02 L365 117.43 L365 117.83 L365 118.23 L365 118.63 L365 119.03 L365 119.44 L365 119.84 L365 120.24 L365 120.64 L365 121.04 L365 121.44 L365 121.85 L365 122.25 L365 122.65 L365 123.05 L365 123.45 L365 123.86 L365 124.26 L365 124.66 L365 125.06 L365 125.46 L365 125.86 L365 126.27 L365 126.67 L365 127.07 L365 127.47 L365 127.87 L365 128.28 L365 128.68 L365 129.08 L365 129.48 L365 129.88 L365 130.29 L365 130.69 L365 131.09 L365 131.49 L365 131.89 L365 132.29 L365 132.7 L365 133.1 L365 133.5 L365 133.9 L365 134.3 L365 134.71 L365.01 135.11 L365.02 135.51 L365.03 135.91 L365.06 136.31 L365.11 136.71 L365.19 137.12 L365.34 137.52 L365.57 137.92 L365.93 138.32 L366.48 138.72 L367.28 139.13 L368.4 139.53 L369.92 139.93 L371.92 140.33 L374.42 140.73 L377.44 141.14 L380.94 141.54 L384.82 141.94 L388.89 142.34 L392.93 142.74 L396.68 143.14 L399.84 143.55 L402.18 143.95 L403.47 144.35 L403.62 144.75 L402.59 145.15 L400.5 145.56 L397.51 145.96 L393.88 146.36 L389.89 146.76 L385.8 147.16 L381.86 147.56 L378.26 147.97 L375.11 148.37 L372.48 148.77 L370.37 149.17 L368.73 149.57 L367.52 149.98 L366.65 150.38 L366.05 150.78 L365.65 151.18 L365.39 151.58 L365.22 151.99 L365.13 152.39 L365.07 152.79 L365.04 153.19 L365.02 153.59 L365.01 153.99 L365 154.4 L365 154.8 L365 155.2 L365 155.6 L365 156 L365 156.41 L365 156.81 L365 157.21 L365 157.61 L365 158.01 L365 158.41 L365 158.82 L365 159.22 L365 159.62 L365 160.02 L365 160.42 L365 160.83 L365 161.23 L365 161.63 L365 162.03 L365 162.43 L365 162.84 L365 163.24 L365 163.64 L365 164.04 L365 164.44 L365 164.84 L365 165.25 L365 165.65 L365 166.05 L365 166.45 L365 166.85 L365 167.26 L365 167.66 L365 168.06 L365 168.46 L365 168.86 L365 169.26 L365 169.67 L365 170.07 L365 170.47 L365 170.87 L365 171.27 L365 171.68 L365 172.08 L365 172.48 L365 172.88 L365 173.28 L365 173.69 L365 174.09 L365 174.49 L365 174.89 L365 175.29 L365 175.69 L365 176.1 L365 176.5 L365 176.9 L365 176.9Z" fill="#fdf7cf" fill-opacity="0.85" stroke="none"/>
<path d="M365 111.8 L365 111.8 L365 112.2 L365 112.6 L365 113.01 L365 113.41 L365 113.81 L365 114.21 L365 114.61 L365 115.01 L365 115.42 L365 115.82 L365 116.22 L365 116.62 L365 117.02 L365 117.43 L365 117.83 L365 118.23 L365 118.63 L365 119.03 L365 119.44 L365 119.84 L365 120.24 L365 120.64 L365 121.04 L365 121.44 L365 121.85 L365 122.25 L365 122.65 L365 123.05 L365 123.45 L365 123.86 L365 124.26 L365 124.66 L365 125.06 L365 125.46 L365 125.86 L365 126.27 L365 126.67 L365 127.07 L365 127.47 L365 127.87 L365 128.28 L365 128.68 L365 129.08 L365 129.48 L365 129.88 L365 130.29 L365 130.69 L365 131.09 L365 131.49 L365 131.89 L365 132.29 L365 132.7 L365 133.1 L365 133.5 L365 133.9 L365 134.3 L365 134.71 L365 135.11 L365 135.51 L365 135.91 L365.01 136.31 L365.02 136.71 L365.04 137.12 L365.08 137.52 L365.16 137.92 L365.32 138.32 L365.61 138.72 L366.09 139.13 L366.88 139.53 L368.1 139.93 L369.87 140.33 L372.33 140.73 L375.54 141.14 L379.49 141.54 L384.06 141.94 L388.98 142.34 L393.84 142.74 L398.17 143.14 L401.48 143.55 L403.36 143.95 L403.58 144.35 L402.1 144.75 L399.12 145.15 L395 145.56 L390.23 145.96 L385.29 146.36 L380.6 146.76 L376.47 147.16 L373.07 147.56 L370.42 147.97 L368.49 148.37 L367.14 148.77 L366.26 149.17 L365.71 149.57 L365.38 149.98 L365.2 150.38 L365.1 150.78 L365.05 151.18 L365.02 151.58 L365.01 151.99 L365 152.39 L365 152.79 L365 153.19 L365 153.59 L365 153.99 L365 154.4 L365 154.8 L365 155.2 L365 155.6 L365 156 L365 156.41 L365 156.81 L365 157.21 L365 157.61 L365 158.01 L365 158.41 L365 158.82 L365 159.22 L365 159.62 L365 160.02 L365 160.42 L365 160.83 L365 161.23 L365 161.63 L365 162.03 L365 162.43 L365 162.84 L365 163.24 L365 163.64 L365 164.04 L365 164.44 L365 164.84 L365 165.25 L365 165.65 L365 166.05 L365 166.45 L365 166.85 L365 167.26 L365 167.66 L365 168.06 L365 168.46 L365 168.86 L365 169.26 L365 169.67 L365 170.07 L365 170.47 L365 170.87 L365 171.27 L365 171.68 L365 172.08 L365 172.48 L365 172.88 L365 173.28 L365 173.69 L365 174.09 L365 174.49 L365 174.89 L365 175.29 L365 175.69 L365 176.1 L365 176.5 L365 176.9 L365 176.9Z" fill="#d9ead6" fill-opacity="0.85" stroke="none"/>
<path d="M365.3 111.8 L365.3 112.2 L365.3 112.6 L365.3 113.01 L365.3 113.41 L365.3 113.81 L365.3 114.21 L365.3 114.61 L365.3 115.01 L365.3 115.42 L365.3 115.82 L365.3 116.22 L365.3 116.62 L365.3 117.02 L365.3 117.43 L365.3 117.83 L365.3 118.23 L365.3 118.63 L365.3 119.03 L365.3 119.44 L365.3 119.84 L365.3 120.24 L365.3 120.64 L365.3 121.04 L365.3 121.44 L365.3 121.85 L365.3 122.25 L365.3 122.65 L365.3 123.05 L365.3 123.45 L365.3 123.86 L365.3 124.26 L365.3 124.66 L365.3 125.06 L365.3 125.46 L365.3 125.86 L365.3 126.27 L365.3 126.67 L365.3 127.07 L365.3 127.47 L365.3 127.87 L365.3 128.28 L365.3 128.68 L365.3 129.08 L365.3 129.48 L365.3 129.88 L365.3 130.29 L365.3 130.69 L365.3 131.09 L365.3 131.49 L365.3 131.89 L365.3 132.29 L365.3 132.7 L365.3 133.1 L365.3 133.5 L365.3 133.9 L365.3 134.3 L365.3 134.71 L365.31 135.11 L365.32 135.51 L365.33 135.91 L365.36 136.31 L365.41 136.71 L365.49 137.12 L365.64 137.52 L365.87 137.92 L366.23 138.32 L366.77 138.72 L367.56 139.13 L368.67 139.53 L370.19 139.93 L372.16 140.33 L374.65 140.73 L377.65 141.14 L381.12 141.54 L384.96 141.94 L389 142.34 L393.02 142.74 L396.73 143.14 L399.87 143.55 L402.19 143.95 L403.47 144.35 L403.62 144.75 L402.6 145.15 L400.52 145.56 L397.56 145.96 L393.96 146.36 L390 146.76 L385.94 147.16 L382.03 147.56 L378.45 147.97 L375.33 148.37 L372.72 148.77 L370.62 149.17 L369 149.57 L367.8 149.98 L366.94 150.38 L366.34 150.78 L365.94 151.18 L365.68 151.58 L365.52 151.99 L365.42 152.39 L365.37 152.79 L365.34 153.19 L365.32 153.59 L365.31 153.99 L365.3 154.4 L365.3 154.8 L365.3 155.2 L365.3 155.6 L365.3 156 L365.3 156.41 L365.3 156.81 L365.3 157.21 L365.3 157.61 L365.3 158.01 L365.3 158.41 L365.3 158.82 L365.3 159.22 L365.3 159.62 L365.3 160.02 L365.3 160.42 L365.3 160.83 L365.3 161.23 L365.3 161.63 L365.3 162.03 L365.3 162.43 L365.3 162.84 L365.3 163.24 L365.3 163.64 L365.3 164.04 L365.3 164.44 L365.3 164.84 L365.3 165.25 L365.3 165.65 L365.3 166.05 L365.3 166.45 L365.3 166.85 L365.3 167.26 L365.3 167.66 L365.3 168.06 L365.3 168.46 L365.3 168.86 L365.3 169.26 L365.3 169.67 L365.3 170.07 L365.3 170.47 L365.3 170.87 L365.3 171.27 L365.3 171.68 L365.3 172.08 L365.3 172.48 L365.3 172.88 L365.3 173.28 L365.3 173.69 L365.3 174.09 L365.3 174.49 L365.3 174.89 L365.3 175.29 L365.3 175.69 L365.3 176.1 L365.3 176.5 L365.3 176.9" fill="none" stroke="#b5b82a" stroke-width="1.85" stroke-linejoin="round"/>
<path d="M364.9 111.8 L364.9 112.2 L364.9 112.6 L364.9 113.01 L364.9 113.41 L364.9 113.81 L364.9 114.21 L364.9 114.61 L364.9 115.01 L364.9 115.42 L364.9 115.82 L364.9 116.22 L364.9 116.62 L364.9 117.02 L364.9 117.43 L364.9 117.83 L364.9 118.23 L364.9 118.63 L364.9 119.03 L364.9 119.44 L364.9 119.84 L364.9 120.24 L364.9 120.64 L364.9 121.04 L364.9 121.44 L364.9 121.85 L364.9 122.25 L364.9 122.65 L364.9 123.05 L364.9 123.45 L364.9 123.86 L364.9 124.26 L364.9 124.66 L364.9 125.06 L364.9 125.46 L364.9 125.86 L364.9 126.27 L364.9 126.67 L364.9 127.07 L364.9 127.47 L364.9 127.87 L364.9 128.28 L364.9 128.68 L364.9 129.08 L364.9 129.48 L364.9 129.88 L364.9 130.29 L364.9 130.69 L364.9 131.09 L364.9 131.49 L364.9 131.89 L364.9 132.29 L364.9 132.7 L364.9 133.1 L364.9 133.5 L364.9 133.9 L364.9 134.3 L364.9 134.71 L364.9 135.11 L364.9 135.51 L364.9 135.91 L364.91 136.31 L364.92 136.71 L364.94 137.12 L364.98 137.52 L365.06 137.92 L365.22 138.32 L365.51 138.72 L366 139.13 L366.79 139.53 L368 139.93 L369.78 140.33 L372.24 140.73 L375.46 141.14 L379.43 141.54 L384.01 141.94 L388.94 142.34 L393.81 142.74 L398.15 143.14 L401.47 143.55 L403.36 143.95 L403.58 144.35 L402.1 144.75 L399.11 145.15 L394.98 145.56 L390.2 145.96 L385.24 146.36 L380.54 146.76 L376.4 147.16 L372.99 147.56 L370.34 147.97 L368.4 148.37 L367.05 148.77 L366.16 149.17 L365.61 149.57 L365.28 149.98 L365.1 150.38 L365 150.78 L364.95 151.18 L364.92 151.58 L364.91 151.99 L364.9 152.39 L364.9 152.79 L364.9 153.19 L364.9 153.59 L364.9 153.99 L364.9 154.4 L364.9 154.8 L364.9 155.2 L364.9 155.6 L364.9 156 L364.9 156.41 L364.9 156.81 L364.9 157.21 L364.9 157.61 L364.9 158.01 L364.9 158.41 L364.9 158.82 L364.9 159.22 L364.9 159.62 L364.9 160.02 L364.9 160.42 L364.9 160.83 L364.9 161.23 L364.9 161.63 L364.9 162.03 L364.9 162.43 L364.9 162.84 L364.9 163.24 L364.9 163.64 L364.9 164.04 L364.9 164.44 L364.9 164.84 L364.9 165.25 L364.9 165.65 L364.9 166.05 L364.9 166.45 L364.9 166.85 L364.9 167.26 L364.9 167.66 L364.9 168.06 L364.9 168.46 L364.9 168.86 L364.9 169.26 L364.9 169.67 L364.9 170.07 L364.9 170.47 L364.9 170.87 L364.9 171.27 L364.9 171.68 L364.9 172.08 L364.9 172.48 L364.9 172.88 L364.9 173.28 L364.9 173.69 L364.9 174.09 L364.9 174.49 L364.9 174.89 L364.9 175.29 L364.9 175.69 L364.9 176.1 L364.9 176.5 L364.9 176.9" fill="none" stroke="#2c8a1e" stroke-width="1.85" stroke-linejoin="round"/>
<ellipse cx="312.2" cy="139.8" rx="29.93" ry="24.09" transform="rotate(30 312.2 139.8)" fill="none" stroke="#9e9ea5" stroke-width="1.45" stroke-dasharray="5 3.1"/>
<ellipse cx="337.6" cy="144" rx="31.39" ry="18.25" transform="rotate(65 337.6 144)" fill="none" stroke="#9e9ea5" stroke-width="1.45" stroke-dasharray="5 3.1"/>
<ellipse cx="312.2" cy="139.8" rx="9.02" ry="7.18" transform="rotate(30 312.2 139.8)" fill="none" stroke="#dcde92" stroke-width="1.75"/>
<ellipse cx="312.2" cy="139.8" rx="13.72" ry="10.92" transform="rotate(30 312.2 139.8)" fill="none" stroke="#c9cc62" stroke-width="1.75"/>
<ellipse cx="312.2" cy="139.8" rx="19.6" ry="15.6" transform="rotate(30 312.2 139.8)" fill="none" stroke="#b7ba2e" stroke-width="2.05"/>
<ellipse cx="337.6" cy="144" rx="8.65" ry="4.87" transform="rotate(65 337.6 144)" fill="none" stroke="#8fc489" stroke-width="1.75"/>
<ellipse cx="337.6" cy="144" rx="13.8" ry="7.77" transform="rotate(65 337.6 144)" fill="none" stroke="#5fa757" stroke-width="1.75"/>
<ellipse cx="337.6" cy="144" rx="20.6" ry="11.6" transform="rotate(65 337.6 144)" fill="none" stroke="#338f29" stroke-width="2.05"/>
<path d="M278.4 73H363V108.8H405.2V179.4H278.4V73H278.4Z" fill="none" stroke="#000" stroke-width="1.35"/>
<path d="M278.4 108.8H363M363 108.8V179.4" fill="none" stroke="#000" stroke-width="1.35"/>
<text x="286.3" y="199.5" font-size="10.4" text-anchor="middle" fill="#111111" stroke="#111111" stroke-width="0.14" textLength="22.04" lengthAdjust="spacingAndGlyphs">19.5</text>
<text x="323.4" y="199.5" font-size="10.4" text-anchor="middle" fill="#111111" stroke="#111111" stroke-width="0.14" textLength="22.04" lengthAdjust="spacingAndGlyphs">20.5</text>
<text x="360.4" y="199.5" font-size="10.4" text-anchor="middle" fill="#111111" stroke="#111111" stroke-width="0.14" textLength="22.04" lengthAdjust="spacingAndGlyphs">21.5</text>
<text x="293.8" y="60" font-size="10.4" text-anchor="middle" fill="#111111" stroke="#111111" stroke-width="0.14" textLength="14.59" lengthAdjust="spacingAndGlyphs">−1</text>
<text x="320.7" y="60" font-size="10.4" text-anchor="middle" fill="#111111" stroke="#111111" stroke-width="0.14" textLength="6.3" lengthAdjust="spacingAndGlyphs">0</text>
<text x="346.2" y="60" font-size="10.4" text-anchor="middle" fill="#111111" stroke="#111111" stroke-width="0.14" textLength="6.3" lengthAdjust="spacingAndGlyphs">1</text>
<text x="417" y="126.4" font-size="10.4" text-anchor="start" fill="#111111" stroke="#111111" stroke-width="0.14" textLength="6.3" lengthAdjust="spacingAndGlyphs">1</text>
<text x="417" y="148" font-size="10.4" text-anchor="start" fill="#111111" stroke="#111111" stroke-width="0.14" textLength="6.3" lengthAdjust="spacingAndGlyphs">0</text>
<text x="417" y="169.5" font-size="10.4" text-anchor="start" fill="#111111" stroke="#111111" stroke-width="0.14" textLength="14.59" lengthAdjust="spacingAndGlyphs">−1</text>
<path d="M286.5 179.4v5.5M323.5 179.4v5.5M360.5 179.4v5.5M295.5 73v-5.6M320.5 73v-5.6M346.5 73v-5.6M405.2 122.5h5.3M405.2 144.5h5.3M405.2 165.5h5.3M278.4 130h-1.6M278.4 150h-1.6M278.4 171h-1.6" fill="none" stroke="#000" stroke-width="1.25"/>
</g>
<g>
<path d="M525.6 105 L525.6 105 L526.2 105 L526.81 105 L527.41 105 L528.02 105 L528.62 105 L529.23 105 L529.83 105 L530.44 105 L531.04 104.99 L531.65 104.98 L532.25 104.97 L532.85 104.95 L533.46 104.91 L534.06 104.84 L534.67 104.74 L535.27 104.58 L535.88 104.35 L536.48 104.02 L537.09 103.56 L537.69 102.92 L538.3 102.09 L538.9 101.02 L539.51 99.69 L540.11 98.08 L540.71 96.19 L541.32 94.05 L541.92 91.67 L542.53 89.14 L543.13 86.51 L543.74 83.89 L544.34 81.37 L544.95 79.05 L545.55 77.01 L546.16 75.33 L546.76 74.05 L547.36 73.19 L547.97 72.73 L548.57 72.6 L549.18 72.7 L549.78 73.13 L550.39 73.96 L550.99 75.21 L551.6 76.85 L552.2 78.86 L552.81 81.16 L553.41 83.67 L554.02 86.29 L554.62 88.91 L555.22 91.46 L555.83 93.85 L556.43 96.02 L557.04 97.93 L557.64 99.56 L558.25 100.92 L558.85 102.01 L559.46 102.86 L560.06 103.51 L560.67 103.99 L561.27 104.33 L561.87 104.57 L562.48 104.73 L563.08 104.83 L563.69 104.9 L564.29 104.94 L564.9 104.97 L565.5 104.98 L566.11 104.99 L566.71 105 L567.32 105 L567.92 105 L568.53 105 L569.13 105 L569.73 105 L570.34 105 L570.94 105 L571.55 105 L572.15 105 L572.76 105 L573.36 105 L573.97 105 L574.57 105 L575.18 105 L575.78 105 L576.38 105 L576.99 105 L577.59 105 L578.2 105 L578.8 105 L579.41 105 L580.01 105 L580.62 105 L581.22 105 L581.83 105 L582.43 105 L583.04 105 L583.64 105 L584.24 105 L584.85 105 L585.45 105 L586.06 105 L586.66 105 L587.27 105 L587.87 105 L588.48 105 L589.08 105 L589.69 105 L590.29 105 L590.89 105 L591.5 105 L592.1 105 L592.71 105 L593.31 105 L593.92 105 L594.52 105 L595.13 105 L595.73 105 L596.34 105 L596.94 105 L597.55 105 L598.15 105 L598.75 105 L599.36 105 L599.96 105 L600.57 105 L601.17 105 L601.78 105 L602.38 105 L602.99 105 L603.59 105 L604.2 105 L604.8 105 L604.8 105Z" fill="#fdf7cf" fill-opacity="0.85" stroke="none"/>
<path d="M525.6 105 L525.6 105 L526.2 105 L526.81 105 L527.41 105 L528.02 105 L528.62 105 L529.23 105 L529.83 105 L530.44 105 L531.04 105 L531.65 105 L532.25 105 L532.85 105 L533.46 105 L534.06 105 L534.67 105 L535.27 105 L535.88 105 L536.48 105 L537.09 105 L537.69 105 L538.3 105 L538.9 105 L539.51 105 L540.11 105 L540.71 105 L541.32 105 L541.92 105 L542.53 105 L543.13 105 L543.74 105 L544.34 105 L544.95 105 L545.55 105 L546.16 105 L546.76 105 L547.36 105 L547.97 105 L548.57 105 L549.18 105 L549.78 105 L550.39 105 L550.99 105 L551.6 105 L552.2 105 L552.81 105 L553.41 105 L554.02 105 L554.62 105 L555.22 105 L555.83 105 L556.43 105 L557.04 105 L557.64 105 L558.25 105 L558.85 105 L559.46 105 L560.06 105 L560.67 105 L561.27 105 L561.87 105 L562.48 105 L563.08 104.99 L563.69 104.99 L564.29 104.98 L564.9 104.96 L565.5 104.93 L566.11 104.88 L566.71 104.8 L567.32 104.68 L567.92 104.5 L568.53 104.23 L569.13 103.85 L569.73 103.32 L570.34 102.61 L570.94 101.68 L571.55 100.51 L572.15 99.07 L572.76 97.34 L573.36 95.35 L573.97 93.1 L574.57 90.65 L575.18 88.07 L575.78 85.43 L576.38 82.84 L576.99 80.39 L577.59 78.18 L578.2 76.28 L578.8 74.76 L579.41 73.65 L580.01 72.95 L580.62 72.64 L581.22 72.61 L581.83 72.83 L582.43 73.42 L583.04 74.42 L583.64 75.83 L584.24 77.64 L584.85 79.77 L585.45 82.17 L586.06 84.73 L586.66 87.36 L587.27 89.97 L587.87 92.46 L588.48 94.77 L589.08 96.83 L589.69 98.63 L590.29 100.15 L590.89 101.39 L591.5 102.38 L592.1 103.15 L592.71 103.72 L593.31 104.14 L593.92 104.44 L594.52 104.64 L595.13 104.78 L595.73 104.87 L596.34 104.92 L596.94 104.95 L597.55 104.97 L598.15 104.99 L598.75 104.99 L599.36 105 L599.96 105 L600.57 105 L601.17 105 L601.78 105 L602.38 105 L602.99 105 L603.59 105 L604.2 105 L604.8 105 L604.8 105Z" fill="#d9ead6" fill-opacity="0.85" stroke="none"/>
<path d="M525.6 104.65 L526.2 104.65 L526.81 104.65 L527.41 104.65 L528.02 104.65 L528.62 104.65 L529.23 104.65 L529.83 104.65 L530.44 104.65 L531.04 104.64 L531.65 104.63 L532.25 104.62 L532.85 104.6 L533.46 104.56 L534.06 104.49 L534.67 104.39 L535.27 104.24 L535.88 104.01 L536.48 103.68 L537.09 103.22 L537.69 102.6 L538.3 101.77 L538.9 100.71 L539.51 99.4 L540.11 97.81 L540.71 95.94 L541.32 93.81 L541.92 91.47 L542.53 88.96 L543.13 86.36 L543.74 83.77 L544.34 81.28 L544.95 78.98 L545.55 76.97 L546.16 75.3 L546.76 74.04 L547.36 73.18 L547.97 72.72 L548.57 72.6 L549.18 72.7 L549.78 73.13 L550.39 73.95 L550.99 75.18 L551.6 76.81 L552.2 78.8 L552.81 81.07 L553.41 83.55 L554.02 86.14 L554.62 88.74 L555.22 91.26 L555.83 93.62 L556.43 95.77 L557.04 97.66 L557.64 99.27 L558.25 100.61 L558.85 101.69 L559.46 102.53 L560.06 103.18 L560.67 103.65 L561.27 103.99 L561.87 104.22 L562.48 104.38 L563.08 104.49 L563.69 104.55 L564.29 104.59 L564.9 104.62 L565.5 104.63 L566.11 104.64 L566.71 104.65 L567.32 104.65 L567.92 104.65 L568.53 104.65 L569.13 104.65 L569.73 104.65 L570.34 104.65 L570.94 104.65 L571.55 104.65 L572.15 104.65 L572.76 104.65 L573.36 104.65 L573.97 104.65 L574.57 104.65 L575.18 104.65 L575.78 104.65 L576.38 104.65 L576.99 104.65 L577.59 104.65 L578.2 104.65 L578.8 104.65 L579.41 104.65 L580.01 104.65 L580.62 104.65 L581.22 104.65 L581.83 104.65 L582.43 104.65 L583.04 104.65 L583.64 104.65 L584.24 104.65 L584.85 104.65 L585.45 104.65 L586.06 104.65 L586.66 104.65 L587.27 104.65 L587.87 104.65 L588.48 104.65 L589.08 104.65 L589.69 104.65 L590.29 104.65 L590.89 104.65 L591.5 104.65 L592.1 104.65 L592.71 104.65 L593.31 104.65 L593.92 104.65 L594.52 104.65 L595.13 104.65 L595.73 104.65 L596.34 104.65 L596.94 104.65 L597.55 104.65 L598.15 104.65 L598.75 104.65 L599.36 104.65 L599.96 104.65 L600.57 104.65 L601.17 104.65 L601.78 104.65 L602.38 104.65 L602.99 104.65 L603.59 104.65 L604.2 104.65 L604.8 104.65" fill="none" stroke="#b5b82a" stroke-width="2.2" stroke-linejoin="round"/>
<path d="M525.6 105.1 L526.2 105.1 L526.81 105.1 L527.41 105.1 L528.02 105.1 L528.62 105.1 L529.23 105.1 L529.83 105.1 L530.44 105.1 L531.04 105.1 L531.65 105.1 L532.25 105.1 L532.85 105.1 L533.46 105.1 L534.06 105.1 L534.67 105.1 L535.27 105.1 L535.88 105.1 L536.48 105.1 L537.09 105.1 L537.69 105.1 L538.3 105.1 L538.9 105.1 L539.51 105.1 L540.11 105.1 L540.71 105.1 L541.32 105.1 L541.92 105.1 L542.53 105.1 L543.13 105.1 L543.74 105.1 L544.34 105.1 L544.95 105.1 L545.55 105.1 L546.16 105.1 L546.76 105.1 L547.36 105.1 L547.97 105.1 L548.57 105.1 L549.18 105.1 L549.78 105.1 L550.39 105.1 L550.99 105.1 L551.6 105.1 L552.2 105.1 L552.81 105.1 L553.41 105.1 L554.02 105.1 L554.62 105.1 L555.22 105.1 L555.83 105.1 L556.43 105.1 L557.04 105.1 L557.64 105.1 L558.25 105.1 L558.85 105.1 L559.46 105.1 L560.06 105.1 L560.67 105.1 L561.27 105.1 L561.87 105.1 L562.48 105.1 L563.08 105.09 L563.69 105.09 L564.29 105.08 L564.9 105.06 L565.5 105.03 L566.11 104.98 L566.71 104.9 L567.32 104.78 L567.92 104.6 L568.53 104.33 L569.13 103.95 L569.73 103.41 L570.34 102.7 L570.94 101.77 L571.55 100.6 L572.15 99.15 L572.76 97.42 L573.36 95.42 L573.97 93.16 L574.57 90.71 L575.18 88.12 L575.78 85.47 L576.38 82.88 L576.99 80.42 L577.59 78.2 L578.2 76.29 L578.8 74.76 L579.41 73.65 L580.01 72.95 L580.62 72.64 L581.22 72.61 L581.83 72.84 L582.43 73.42 L583.04 74.43 L583.64 75.84 L584.24 77.65 L584.85 79.8 L585.45 82.2 L586.06 84.77 L586.66 87.41 L587.27 90.02 L587.87 92.52 L588.48 94.84 L589.08 96.91 L589.69 98.71 L590.29 100.24 L590.89 101.48 L591.5 102.48 L592.1 103.24 L592.71 103.82 L593.31 104.24 L593.92 104.54 L594.52 104.74 L595.13 104.88 L595.73 104.97 L596.34 105.02 L596.94 105.05 L597.55 105.07 L598.15 105.09 L598.75 105.09 L599.36 105.1 L599.96 105.1 L600.57 105.1 L601.17 105.1 L601.78 105.1 L602.38 105.1 L602.99 105.1 L603.59 105.1 L604.2 105.1 L604.8 105.1" fill="none" stroke="#2c8a1e" stroke-width="2.2" stroke-linejoin="round"/>
<path d="M609.8 109.7 L609.8 109.7 L609.8 110.1 L609.8 110.5 L609.8 110.9 L609.8 111.3 L609.8 111.7 L609.8 112.1 L609.8 112.5 L609.8 112.9 L609.8 113.3 L609.8 113.7 L609.8 114.1 L609.8 114.5 L609.8 114.9 L609.8 115.3 L609.8 115.7 L609.8 116.1 L609.8 116.5 L609.8 116.9 L609.8 117.3 L609.8 117.7 L609.8 118.1 L609.8 118.5 L609.8 118.9 L609.8 119.3 L609.8 119.7 L609.8 120.1 L609.8 120.5 L609.8 120.9 L609.8 121.3 L609.8 121.7 L609.8 122.1 L609.8 122.5 L609.8 122.9 L609.8 123.3 L609.8 123.7 L609.81 124.1 L609.81 124.5 L609.82 124.9 L609.84 125.3 L609.86 125.7 L609.91 126.1 L609.99 126.5 L610.1 126.9 L610.29 127.3 L610.56 127.7 L610.95 128.1 L611.51 128.5 L612.29 128.9 L613.33 129.3 L614.68 129.7 L616.4 130.1 L618.52 130.5 L621.05 130.9 L623.97 131.3 L627.23 131.7 L630.74 132.1 L634.36 132.5 L637.95 132.9 L641.29 133.3 L644.22 133.7 L646.53 134.1 L648.09 134.5 L648.77 134.9 L648.54 135.3 L647.41 135.7 L645.46 136.1 L642.82 136.5 L639.66 136.9 L636.17 137.3 L632.55 137.7 L628.96 138.1 L625.56 138.5 L622.46 138.9 L619.73 139.3 L617.41 139.7 L615.5 140.1 L613.96 140.5 L612.77 140.9 L611.87 141.3 L611.21 141.7 L610.74 142.1 L610.41 142.5 L610.19 142.9 L610.04 143.3 L609.94 143.7 L609.89 144.1 L609.85 144.5 L609.83 144.9 L609.82 145.3 L609.81 145.7 L609.8 146.1 L609.8 146.5 L609.8 146.9 L609.8 147.3 L609.8 147.7 L609.8 148.1 L609.8 148.5 L609.8 148.9 L609.8 149.3 L609.8 149.7 L609.8 150.1 L609.8 150.5 L609.8 150.9 L609.8 151.3 L609.8 151.7 L609.8 152.1 L609.8 152.5 L609.8 152.9 L609.8 153.3 L609.8 153.7 L609.8 154.1 L609.8 154.5 L609.8 154.9 L609.8 155.3 L609.8 155.7 L609.8 156.1 L609.8 156.5 L609.8 156.9 L609.8 157.3 L609.8 157.7 L609.8 158.1 L609.8 158.5 L609.8 158.9 L609.8 159.3 L609.8 159.7 L609.8 160.1 L609.8 160.5 L609.8 160.9 L609.8 161.3 L609.8 161.7 L609.8 162.1 L609.8 162.5 L609.8 162.9 L609.8 163.3 L609.8 163.7 L609.8 164.1 L609.8 164.5 L609.8 164.9 L609.8 165.3 L609.8 165.7 L609.8 166.1 L609.8 166.5 L609.8 166.9 L609.8 167.3 L609.8 167.7 L609.8 168.1 L609.8 168.5 L609.8 168.9 L609.8 169.3 L609.8 169.7 L609.8 170.1 L609.8 170.5 L609.8 170.9 L609.8 171.3 L609.8 171.7 L609.8 172.1 L609.8 172.5 L609.8 172.9 L609.8 173.3 L609.8 173.7 L609.8 174.1 L609.8 174.5 L609.8 174.9 L609.8 174.9Z" fill="#fdf7cf" fill-opacity="0.85" stroke="none"/>
<path d="M609.8 109.7 L609.8 109.7 L609.8 110.1 L609.8 110.5 L609.8 110.9 L609.8 111.3 L609.8 111.7 L609.8 112.1 L609.8 112.5 L609.8 112.9 L609.8 113.3 L609.8 113.7 L609.8 114.1 L609.8 114.5 L609.8 114.9 L609.8 115.3 L609.8 115.7 L609.8 116.1 L609.8 116.5 L609.8 116.9 L609.8 117.3 L609.8 117.7 L609.8 118.1 L609.8 118.5 L609.8 118.9 L609.8 119.3 L609.8 119.7 L609.8 120.1 L609.8 120.5 L609.8 120.9 L609.8 121.3 L609.8 121.7 L609.8 122.1 L609.8 122.5 L609.8 122.9 L609.8 123.3 L609.8 123.7 L609.8 124.1 L609.8 124.5 L609.8 124.9 L609.8 125.3 L609.8 125.7 L609.8 126.1 L609.8 126.5 L609.8 126.9 L609.8 127.3 L609.8 127.7 L609.8 128.1 L609.8 128.5 L609.8 128.9 L609.8 129.3 L609.8 129.7 L609.8 130.1 L609.8 130.5 L609.8 130.9 L609.8 131.3 L609.8 131.7 L609.8 132.1 L609.8 132.5 L609.8 132.9 L609.8 133.3 L609.8 133.7 L609.8 134.1 L609.8 134.5 L609.8 134.9 L609.8 135.3 L609.8 135.7 L609.8 136.1 L609.8 136.5 L609.8 136.9 L609.8 137.3 L609.8 137.7 L609.8 138.1 L609.8 138.5 L609.81 138.9 L609.82 139.3 L609.83 139.7 L609.85 140.1 L609.89 140.5 L609.94 140.9 L610.04 141.3 L610.19 141.7 L610.41 142.1 L610.74 142.5 L611.21 142.9 L611.87 143.3 L612.77 143.7 L613.96 144.1 L615.5 144.5 L617.41 144.9 L619.73 145.3 L622.46 145.7 L625.56 146.1 L628.96 146.5 L632.55 146.9 L636.17 147.3 L639.66 147.7 L642.82 148.1 L645.46 148.5 L647.41 148.9 L648.54 149.3 L648.77 149.7 L648.09 150.1 L646.53 150.5 L644.22 150.9 L641.29 151.3 L637.95 151.7 L634.36 152.1 L630.74 152.5 L627.23 152.9 L623.97 153.3 L621.05 153.7 L618.52 154.1 L616.4 154.5 L614.68 154.9 L613.33 155.3 L612.29 155.7 L611.51 156.1 L610.95 156.5 L610.56 156.9 L610.29 157.3 L610.1 157.7 L609.99 158.1 L609.91 158.5 L609.86 158.9 L609.84 159.3 L609.82 159.7 L609.81 160.1 L609.81 160.5 L609.8 160.9 L609.8 161.3 L609.8 161.7 L609.8 162.1 L609.8 162.5 L609.8 162.9 L609.8 163.3 L609.8 163.7 L609.8 164.1 L609.8 164.5 L609.8 164.9 L609.8 165.3 L609.8 165.7 L609.8 166.1 L609.8 166.5 L609.8 166.9 L609.8 167.3 L609.8 167.7 L609.8 168.1 L609.8 168.5 L609.8 168.9 L609.8 169.3 L609.8 169.7 L609.8 170.1 L609.8 170.5 L609.8 170.9 L609.8 171.3 L609.8 171.7 L609.8 172.1 L609.8 172.5 L609.8 172.9 L609.8 173.3 L609.8 173.7 L609.8 174.1 L609.8 174.5 L609.8 174.9 L609.8 174.9Z" fill="#d9ead6" fill-opacity="0.85" stroke="none"/>
<path d="M610.1 109.7 L610.1 110.1 L610.1 110.5 L610.1 110.9 L610.1 111.3 L610.1 111.7 L610.1 112.1 L610.1 112.5 L610.1 112.9 L610.1 113.3 L610.1 113.7 L610.1 114.1 L610.1 114.5 L610.1 114.9 L610.1 115.3 L610.1 115.7 L610.1 116.1 L610.1 116.5 L610.1 116.9 L610.1 117.3 L610.1 117.7 L610.1 118.1 L610.1 118.5 L610.1 118.9 L610.1 119.3 L610.1 119.7 L610.1 120.1 L610.1 120.5 L610.1 120.9 L610.1 121.3 L610.1 121.7 L610.1 122.1 L610.1 122.5 L610.1 122.9 L610.1 123.3 L610.1 123.7 L610.11 124.1 L610.11 124.5 L610.12 124.9 L610.14 125.3 L610.16 125.7 L610.21 126.1 L610.28 126.5 L610.4 126.9 L610.58 127.3 L610.85 127.7 L611.24 128.1 L611.8 128.5 L612.57 128.9 L613.6 129.3 L614.95 129.7 L616.65 130.1 L618.75 130.5 L621.26 130.9 L624.16 131.3 L627.39 131.7 L630.88 132.1 L634.48 132.5 L638.03 132.9 L641.35 133.3 L644.25 133.7 L646.55 134.1 L648.09 134.5 L648.77 134.9 L648.54 135.3 L647.42 135.7 L645.49 136.1 L642.87 136.5 L639.73 136.9 L636.27 137.3 L632.67 137.7 L629.11 138.1 L625.74 138.5 L622.66 138.9 L619.96 139.3 L617.65 139.7 L615.75 140.1 L614.23 140.5 L613.05 140.9 L612.15 141.3 L611.5 141.7 L611.03 142.1 L610.7 142.5 L610.48 142.9 L610.34 143.3 L610.24 143.7 L610.18 144.1 L610.15 144.5 L610.13 144.9 L610.12 145.3 L610.11 145.7 L610.1 146.1 L610.1 146.5 L610.1 146.9 L610.1 147.3 L610.1 147.7 L610.1 148.1 L610.1 148.5 L610.1 148.9 L610.1 149.3 L610.1 149.7 L610.1 150.1 L610.1 150.5 L610.1 150.9 L610.1 151.3 L610.1 151.7 L610.1 152.1 L610.1 152.5 L610.1 152.9 L610.1 153.3 L610.1 153.7 L610.1 154.1 L610.1 154.5 L610.1 154.9 L610.1 155.3 L610.1 155.7 L610.1 156.1 L610.1 156.5 L610.1 156.9 L610.1 157.3 L610.1 157.7 L610.1 158.1 L610.1 158.5 L610.1 158.9 L610.1 159.3 L610.1 159.7 L610.1 160.1 L610.1 160.5 L610.1 160.9 L610.1 161.3 L610.1 161.7 L610.1 162.1 L610.1 162.5 L610.1 162.9 L610.1 163.3 L610.1 163.7 L610.1 164.1 L610.1 164.5 L610.1 164.9 L610.1 165.3 L610.1 165.7 L610.1 166.1 L610.1 166.5 L610.1 166.9 L610.1 167.3 L610.1 167.7 L610.1 168.1 L610.1 168.5 L610.1 168.9 L610.1 169.3 L610.1 169.7 L610.1 170.1 L610.1 170.5 L610.1 170.9 L610.1 171.3 L610.1 171.7 L610.1 172.1 L610.1 172.5 L610.1 172.9 L610.1 173.3 L610.1 173.7 L610.1 174.1 L610.1 174.5 L610.1 174.9" fill="none" stroke="#b5b82a" stroke-width="1.85" stroke-linejoin="round"/>
<path d="M609.7 109.7 L609.7 110.1 L609.7 110.5 L609.7 110.9 L609.7 111.3 L609.7 111.7 L609.7 112.1 L609.7 112.5 L609.7 112.9 L609.7 113.3 L609.7 113.7 L609.7 114.1 L609.7 114.5 L609.7 114.9 L609.7 115.3 L609.7 115.7 L609.7 116.1 L609.7 116.5 L609.7 116.9 L609.7 117.3 L609.7 117.7 L609.7 118.1 L609.7 118.5 L609.7 118.9 L609.7 119.3 L609.7 119.7 L609.7 120.1 L609.7 120.5 L609.7 120.9 L609.7 121.3 L609.7 121.7 L609.7 122.1 L609.7 122.5 L609.7 122.9 L609.7 123.3 L609.7 123.7 L609.7 124.1 L609.7 124.5 L609.7 124.9 L609.7 125.3 L609.7 125.7 L609.7 126.1 L609.7 126.5 L609.7 126.9 L609.7 127.3 L609.7 127.7 L609.7 128.1 L609.7 128.5 L609.7 128.9 L609.7 129.3 L609.7 129.7 L609.7 130.1 L609.7 130.5 L609.7 130.9 L609.7 131.3 L609.7 131.7 L609.7 132.1 L609.7 132.5 L609.7 132.9 L609.7 133.3 L609.7 133.7 L609.7 134.1 L609.7 134.5 L609.7 134.9 L609.7 135.3 L609.7 135.7 L609.7 136.1 L609.7 136.5 L609.7 136.9 L609.7 137.3 L609.7 137.7 L609.7 138.1 L609.7 138.5 L609.71 138.9 L609.72 139.3 L609.73 139.7 L609.75 140.1 L609.79 140.5 L609.84 140.9 L609.94 141.3 L610.09 141.7 L610.31 142.1 L610.64 142.5 L611.11 142.9 L611.78 143.3 L612.68 143.7 L613.87 144.1 L615.41 144.5 L617.33 144.9 L619.66 145.3 L622.39 145.7 L625.5 146.1 L628.91 146.5 L632.5 146.9 L636.14 147.3 L639.64 147.7 L642.81 148.1 L645.45 148.5 L647.41 148.9 L648.54 149.3 L648.77 149.7 L648.08 150.1 L646.53 150.5 L644.21 150.9 L641.27 151.3 L637.92 151.7 L634.33 152.1 L630.69 152.5 L627.17 152.9 L623.9 153.3 L620.98 153.7 L618.44 154.1 L616.32 154.5 L614.6 154.9 L613.24 155.3 L612.19 155.7 L611.42 156.1 L610.86 156.5 L610.46 156.9 L610.19 157.3 L610.01 157.7 L609.89 158.1 L609.81 158.5 L609.77 158.9 L609.74 159.3 L609.72 159.7 L609.71 160.1 L609.71 160.5 L609.7 160.9 L609.7 161.3 L609.7 161.7 L609.7 162.1 L609.7 162.5 L609.7 162.9 L609.7 163.3 L609.7 163.7 L609.7 164.1 L609.7 164.5 L609.7 164.9 L609.7 165.3 L609.7 165.7 L609.7 166.1 L609.7 166.5 L609.7 166.9 L609.7 167.3 L609.7 167.7 L609.7 168.1 L609.7 168.5 L609.7 168.9 L609.7 169.3 L609.7 169.7 L609.7 170.1 L609.7 170.5 L609.7 170.9 L609.7 171.3 L609.7 171.7 L609.7 172.1 L609.7 172.5 L609.7 172.9 L609.7 173.3 L609.7 173.7 L609.7 174.1 L609.7 174.5 L609.7 174.9" fill="none" stroke="#2c8a1e" stroke-width="1.85" stroke-linejoin="round"/>
<ellipse cx="550" cy="148.7" rx="25.95" ry="11.4" transform="rotate(-35 550 148.7)" fill="none" stroke="#9e9ea5" stroke-width="1.45" stroke-dasharray="5 3.1"/>
<ellipse cx="575" cy="133" rx="26.7" ry="10.05" transform="rotate(-20 575 133)" fill="none" stroke="#9e9ea5" stroke-width="1.45" stroke-dasharray="5 3.1"/>
<ellipse cx="550" cy="148.7" rx="6.89" ry="2.81" transform="rotate(-35 550 148.7)" fill="none" stroke="#e8e9b2" stroke-width="1.75"/>
<ellipse cx="550" cy="148.7" rx="10.99" ry="4.49" transform="rotate(-35 550 148.7)" fill="none" stroke="#d8da80" stroke-width="1.75"/>
<ellipse cx="550" cy="148.7" rx="16.4" ry="6.7" transform="rotate(-35 550 148.7)" fill="none" stroke="#c0c343" stroke-width="2.05"/>
<ellipse cx="575" cy="133" rx="7.1" ry="2.44" transform="rotate(-20 575 133)" fill="none" stroke="#a3cf9d" stroke-width="1.75"/>
<ellipse cx="575" cy="133" rx="11.32" ry="3.89" transform="rotate(-20 575 133)" fill="none" stroke="#72b46a" stroke-width="1.75"/>
<ellipse cx="575" cy="133" rx="16.9" ry="5.8" transform="rotate(-20 575 133)" fill="none" stroke="#38912e" stroke-width="2.05"/>
<path d="M522.6 71H607.8V106.7H650.3V177.4H522.6V71H522.6Z" fill="none" stroke="#000" stroke-width="1.35"/>
<path d="M522.6 106.7H607.8M607.8 106.7V177.4" fill="none" stroke="#000" stroke-width="1.35"/>
<text x="525.6" y="197.5" font-size="10.4" text-anchor="middle" fill="#111111" stroke="#111111" stroke-width="0.14" textLength="22.04" lengthAdjust="spacingAndGlyphs">20.5</text>
<text x="564" y="197.5" font-size="10.4" text-anchor="middle" fill="#111111" stroke="#111111" stroke-width="0.14" textLength="22.04" lengthAdjust="spacingAndGlyphs">22.5</text>
<text x="602" y="197.5" font-size="10.4" text-anchor="middle" fill="#111111" stroke="#111111" stroke-width="0.14" textLength="22.04" lengthAdjust="spacingAndGlyphs">24.5</text>
<text x="511" y="110.8" font-size="10.4" text-anchor="end" fill="#111111" stroke="#111111" stroke-width="0.14" textLength="12.59" lengthAdjust="spacingAndGlyphs">22</text>
<text x="511" y="134.2" font-size="10.4" text-anchor="end" fill="#111111" stroke="#111111" stroke-width="0.14" textLength="12.59" lengthAdjust="spacingAndGlyphs">21</text>
<text x="511" y="157.8" font-size="10.4" text-anchor="end" fill="#111111" stroke="#111111" stroke-width="0.14" textLength="12.59" lengthAdjust="spacingAndGlyphs">20</text>
<text x="511" y="181.2" font-size="10.4" text-anchor="end" fill="#111111" stroke="#111111" stroke-width="0.14" textLength="12.59" lengthAdjust="spacingAndGlyphs">19</text>
<text x="537.8" y="58" font-size="10.4" text-anchor="middle" fill="#111111" stroke="#111111" stroke-width="0.14" textLength="14.59" lengthAdjust="spacingAndGlyphs">−1</text>
<text x="565" y="58" font-size="10.4" text-anchor="middle" fill="#111111" stroke="#111111" stroke-width="0.14" textLength="6.3" lengthAdjust="spacingAndGlyphs">0</text>
<text x="591" y="58" font-size="10.4" text-anchor="middle" fill="#111111" stroke="#111111" stroke-width="0.14" textLength="6.3" lengthAdjust="spacingAndGlyphs">1</text>
<text x="662.1" y="124.5" font-size="10.4" text-anchor="start" fill="#111111" stroke="#111111" stroke-width="0.14" textLength="6.3" lengthAdjust="spacingAndGlyphs">1</text>
<text x="662.1" y="146.1" font-size="10.4" text-anchor="start" fill="#111111" stroke="#111111" stroke-width="0.14" textLength="6.3" lengthAdjust="spacingAndGlyphs">0</text>
<text x="662.1" y="167.7" font-size="10.4" text-anchor="start" fill="#111111" stroke="#111111" stroke-width="0.14" textLength="14.59" lengthAdjust="spacingAndGlyphs">−1</text>
<path d="M525.5 177.4v5.5M564.5 177.4v5.5M602.5 177.4v5.5M522.6 107.5h-5.5M522.6 130.5h-5.5M522.6 154.5h-5.5M522.6 177.5h-5.5M539.5 71v-5.6M565.5 71v-5.6M591.5 71v-5.6M650.3 120.5h5.3M650.3 142.5h5.3M650.3 163.5h5.3" fill="none" stroke="#000" stroke-width="1.25"/>
<text x="484" y="142.65" font-size="11.2" text-anchor="middle" fill="#111111" stroke="#111111" stroke-width="0.1" textLength="42.8" lengthAdjust="spacingAndGlyphs" transform="rotate(-90 484 142.65)">SST (°C)</text>
</g>
<g>
<path d="M99.7 284.3 L99.7 284.3 L100.3 284.3 L100.9 284.3 L101.51 284.3 L102.11 284.3 L102.71 284.3 L103.31 284.3 L103.92 284.29 L104.52 284.29 L105.12 284.28 L105.72 284.26 L106.33 284.23 L106.93 284.19 L107.53 284.12 L108.13 284.01 L108.73 283.85 L109.34 283.62 L109.94 283.3 L110.54 282.85 L111.14 282.26 L111.75 281.48 L112.35 280.49 L112.95 279.27 L113.55 277.8 L114.16 276.08 L114.76 274.12 L115.36 271.94 L115.96 269.59 L116.56 267.14 L117.17 264.64 L117.77 262.19 L118.37 259.86 L118.97 257.75 L119.58 255.91 L120.18 254.41 L120.78 253.27 L121.38 252.51 L121.99 252.11 L122.59 252 L123.19 252.1 L123.79 252.49 L124.39 253.23 L125 254.35 L125.6 255.84 L126.2 257.66 L126.8 259.77 L127.41 262.09 L128.01 264.54 L128.61 267.03 L129.21 269.5 L129.82 271.85 L130.42 274.04 L131.02 276.01 L131.62 277.74 L132.22 279.22 L132.83 280.45 L133.43 281.44 L134.03 282.23 L134.63 282.83 L135.24 283.28 L135.84 283.61 L136.44 283.85 L137.04 284.01 L137.65 284.12 L138.25 284.19 L138.85 284.23 L139.45 284.26 L140.05 284.28 L140.66 284.29 L141.26 284.29 L141.86 284.3 L142.46 284.3 L143.07 284.3 L143.67 284.3 L144.27 284.3 L144.87 284.3 L145.48 284.3 L146.08 284.3 L146.68 284.3 L147.28 284.3 L147.88 284.3 L148.49 284.3 L149.09 284.3 L149.69 284.3 L150.29 284.3 L150.9 284.3 L151.5 284.3 L152.1 284.3 L152.7 284.3 L153.31 284.3 L153.91 284.3 L154.51 284.3 L155.11 284.3 L155.71 284.3 L156.32 284.3 L156.92 284.3 L157.52 284.3 L158.12 284.3 L158.73 284.3 L159.33 284.3 L159.93 284.3 L160.53 284.3 L161.14 284.3 L161.74 284.3 L162.34 284.3 L162.94 284.3 L163.54 284.3 L164.15 284.3 L164.75 284.3 L165.35 284.3 L165.95 284.3 L166.56 284.3 L167.16 284.3 L167.76 284.3 L168.36 284.3 L168.97 284.3 L169.57 284.3 L170.17 284.3 L170.77 284.3 L171.37 284.3 L171.98 284.3 L172.58 284.3 L173.18 284.3 L173.78 284.3 L174.39 284.3 L174.99 284.3 L175.59 284.3 L176.19 284.3 L176.8 284.3 L177.4 284.3 L178 284.3 L178 284.3Z" fill="#fdf7cf" fill-opacity="0.85" stroke="none"/>
<path d="M99.7 284.3 L99.7 284.3 L100.3 284.3 L100.9 284.3 L101.51 284.3 L102.11 284.3 L102.71 284.3 L103.31 284.3 L103.92 284.3 L104.52 284.3 L105.12 284.3 L105.72 284.3 L106.33 284.3 L106.93 284.3 L107.53 284.3 L108.13 284.3 L108.73 284.3 L109.34 284.3 L109.94 284.3 L110.54 284.3 L111.14 284.3 L111.75 284.3 L112.35 284.3 L112.95 284.3 L113.55 284.3 L114.16 284.3 L114.76 284.3 L115.36 284.3 L115.96 284.3 L116.56 284.3 L117.17 284.3 L117.77 284.3 L118.37 284.3 L118.97 284.3 L119.58 284.3 L120.18 284.3 L120.78 284.3 L121.38 284.3 L121.99 284.3 L122.59 284.3 L123.19 284.3 L123.79 284.3 L124.39 284.3 L125 284.3 L125.6 284.3 L126.2 284.3 L126.8 284.3 L127.41 284.3 L128.01 284.3 L128.61 284.3 L129.21 284.3 L129.82 284.3 L130.42 284.3 L131.02 284.3 L131.62 284.3 L132.22 284.3 L132.83 284.3 L133.43 284.3 L134.03 284.3 L134.63 284.3 L135.24 284.3 L135.84 284.3 L136.44 284.29 L137.04 284.29 L137.65 284.28 L138.25 284.26 L138.85 284.23 L139.45 284.18 L140.05 284.1 L140.66 283.98 L141.26 283.81 L141.86 283.57 L142.46 283.22 L143.07 282.74 L143.67 282.11 L144.27 281.29 L144.87 280.26 L145.48 278.99 L146.08 277.47 L146.68 275.7 L147.28 273.69 L147.88 271.47 L148.49 269.09 L149.09 266.62 L149.69 264.13 L150.29 261.69 L150.9 259.4 L151.5 257.34 L152.1 255.57 L152.7 254.14 L153.31 253.08 L153.91 252.4 L154.51 252.06 L155.11 252 L155.71 252.15 L156.32 252.61 L156.92 253.43 L157.52 254.63 L158.12 256.19 L158.73 258.08 L159.33 260.24 L159.93 262.59 L160.53 265.05 L161.14 267.55 L161.74 269.99 L162.34 272.32 L162.94 274.46 L163.54 276.39 L164.15 278.07 L164.75 279.49 L165.35 280.67 L165.95 281.62 L166.56 282.37 L167.16 282.94 L167.76 283.36 L168.36 283.67 L168.97 283.88 L169.57 284.03 L170.17 284.13 L170.77 284.2 L171.37 284.24 L171.98 284.26 L172.58 284.28 L173.18 284.29 L173.78 284.29 L174.39 284.3 L174.99 284.3 L175.59 284.3 L176.19 284.3 L176.8 284.3 L177.4 284.3 L178 284.3 L178 284.3Z" fill="#d9ead6" fill-opacity="0.85" stroke="none"/>
<path d="M99.7 283.95 L100.3 283.95 L100.9 283.95 L101.51 283.95 L102.11 283.95 L102.71 283.95 L103.31 283.95 L103.92 283.94 L104.52 283.94 L105.12 283.93 L105.72 283.91 L106.33 283.88 L106.93 283.84 L107.53 283.77 L108.13 283.67 L108.73 283.51 L109.34 283.28 L109.94 282.96 L110.54 282.52 L111.14 281.93 L111.75 281.16 L112.35 280.18 L112.95 278.98 L113.55 277.53 L114.16 275.82 L114.76 273.88 L115.36 271.73 L115.96 269.4 L116.56 266.97 L117.17 264.5 L117.77 262.08 L118.37 259.78 L118.97 257.68 L119.58 255.87 L120.18 254.38 L120.78 253.26 L121.38 252.5 L121.99 252.11 L122.59 252 L123.19 252.1 L123.79 252.48 L124.39 253.22 L125 254.33 L125.6 255.8 L126.2 257.6 L126.8 259.69 L127.41 261.98 L128.01 264.4 L128.61 266.87 L129.21 269.31 L129.82 271.64 L130.42 273.8 L131.02 275.75 L131.62 277.46 L132.22 278.92 L132.83 280.14 L133.43 281.13 L134.03 281.9 L134.63 282.5 L135.24 282.94 L135.84 283.27 L136.44 283.5 L137.04 283.66 L137.65 283.77 L138.25 283.84 L138.85 283.88 L139.45 283.91 L140.05 283.93 L140.66 283.94 L141.26 283.94 L141.86 283.95 L142.46 283.95 L143.07 283.95 L143.67 283.95 L144.27 283.95 L144.87 283.95 L145.48 283.95 L146.08 283.95 L146.68 283.95 L147.28 283.95 L147.88 283.95 L148.49 283.95 L149.09 283.95 L149.69 283.95 L150.29 283.95 L150.9 283.95 L151.5 283.95 L152.1 283.95 L152.7 283.95 L153.31 283.95 L153.91 283.95 L154.51 283.95 L155.11 283.95 L155.71 283.95 L156.32 283.95 L156.92 283.95 L157.52 283.95 L158.12 283.95 L158.73 283.95 L159.33 283.95 L159.93 283.95 L160.53 283.95 L161.14 283.95 L161.74 283.95 L162.34 283.95 L162.94 283.95 L163.54 283.95 L164.15 283.95 L164.75 283.95 L165.35 283.95 L165.95 283.95 L166.56 283.95 L167.16 283.95 L167.76 283.95 L168.36 283.95 L168.97 283.95 L169.57 283.95 L170.17 283.95 L170.77 283.95 L171.37 283.95 L171.98 283.95 L172.58 283.95 L173.18 283.95 L173.78 283.95 L174.39 283.95 L174.99 283.95 L175.59 283.95 L176.19 283.95 L176.8 283.95 L177.4 283.95 L178 283.95" fill="none" stroke="#b5b82a" stroke-width="2.2" stroke-linejoin="round"/>
<path d="M99.7 284.4 L100.3 284.4 L100.9 284.4 L101.51 284.4 L102.11 284.4 L102.71 284.4 L103.31 284.4 L103.92 284.4 L104.52 284.4 L105.12 284.4 L105.72 284.4 L106.33 284.4 L106.93 284.4 L107.53 284.4 L108.13 284.4 L108.73 284.4 L109.34 284.4 L109.94 284.4 L110.54 284.4 L111.14 284.4 L111.75 284.4 L112.35 284.4 L112.95 284.4 L113.55 284.4 L114.16 284.4 L114.76 284.4 L115.36 284.4 L115.96 284.4 L116.56 284.4 L117.17 284.4 L117.77 284.4 L118.37 284.4 L118.97 284.4 L119.58 284.4 L120.18 284.4 L120.78 284.4 L121.38 284.4 L121.99 284.4 L122.59 284.4 L123.19 284.4 L123.79 284.4 L124.39 284.4 L125 284.4 L125.6 284.4 L126.2 284.4 L126.8 284.4 L127.41 284.4 L128.01 284.4 L128.61 284.4 L129.21 284.4 L129.82 284.4 L130.42 284.4 L131.02 284.4 L131.62 284.4 L132.22 284.4 L132.83 284.4 L133.43 284.4 L134.03 284.4 L134.63 284.4 L135.24 284.4 L135.84 284.4 L136.44 284.39 L137.04 284.39 L137.65 284.38 L138.25 284.36 L138.85 284.33 L139.45 284.28 L140.05 284.2 L140.66 284.08 L141.26 283.91 L141.86 283.66 L142.46 283.31 L143.07 282.84 L143.67 282.21 L144.27 281.38 L144.87 280.35 L145.48 279.07 L146.08 277.55 L146.68 275.77 L147.28 273.75 L147.88 271.53 L148.49 269.15 L149.09 266.66 L149.69 264.16 L150.29 261.72 L150.9 259.43 L151.5 257.36 L152.1 255.58 L152.7 254.15 L153.31 253.08 L153.91 252.4 L154.51 252.06 L155.11 252 L155.71 252.15 L156.32 252.61 L156.92 253.44 L157.52 254.64 L158.12 256.2 L158.73 258.1 L159.33 260.26 L159.93 262.62 L160.53 265.09 L161.14 267.6 L161.74 270.05 L162.34 272.38 L162.94 274.53 L163.54 276.46 L164.15 278.15 L164.75 279.58 L165.35 280.76 L165.95 281.71 L166.56 282.46 L167.16 283.03 L167.76 283.46 L168.36 283.77 L168.97 283.98 L169.57 284.13 L170.17 284.23 L170.77 284.3 L171.37 284.34 L171.98 284.36 L172.58 284.38 L173.18 284.39 L173.78 284.39 L174.39 284.4 L174.99 284.4 L175.59 284.4 L176.19 284.4 L176.8 284.4 L177.4 284.4 L178 284.4" fill="none" stroke="#2c8a1e" stroke-width="2.2" stroke-linejoin="round"/>
<path d="M183 289 L183 289 L183 289.4 L183 289.8 L183 290.21 L183 290.61 L183 291.01 L183 291.41 L183 291.81 L183 292.21 L183 292.62 L183 293.02 L183 293.42 L183 293.82 L183 294.22 L183 294.63 L183 295.03 L183 295.43 L183 295.83 L183 296.23 L183 296.64 L183 297.04 L183 297.44 L183 297.84 L183 298.24 L183 298.64 L183 299.05 L183 299.45 L183 299.85 L183 300.25 L183 300.65 L183 301.06 L183 301.46 L183 301.86 L183 302.26 L183 302.66 L183 303.06 L183 303.47 L183 303.87 L183 304.27 L183 304.67 L183 305.07 L183 305.48 L183 305.88 L183 306.28 L183 306.68 L183 307.08 L183 307.49 L183 307.89 L183 308.29 L183 308.69 L183 309.09 L183 309.49 L183 309.9 L183 310.3 L183 310.7 L183 311.1 L183 311.5 L183 311.91 L183 312.31 L183 312.71 L183 313.11 L183 313.51 L183 313.91 L183 314.32 L183 314.72 L183 315.12 L183 315.52 L183 315.92 L183 316.33 L183 316.73 L183 317.13 L183 317.53 L183 317.93 L183.01 318.34 L183.02 318.74 L183.08 319.14 L183.25 319.54 L183.71 319.94 L184.79 320.34 L187.01 320.75 L190.96 321.15 L196.97 321.55 L204.7 321.95 L212.82 322.35 L219.29 322.76 L222.07 323.16 L220.24 323.56 L214.41 323.96 L206.45 324.36 L198.49 324.76 L192.06 325.17 L187.69 325.57 L185.15 325.97 L183.87 326.37 L183.31 326.77 L183.1 327.18 L183.03 327.58 L183.01 327.98 L183 328.38 L183 328.78 L183 329.19 L183 329.59 L183 329.99 L183 330.39 L183 330.79 L183 331.19 L183 331.6 L183 332 L183 332.4 L183 332.8 L183 333.2 L183 333.61 L183 334.01 L183 334.41 L183 334.81 L183 335.21 L183 335.61 L183 336.02 L183 336.42 L183 336.82 L183 337.22 L183 337.62 L183 338.03 L183 338.43 L183 338.83 L183 339.23 L183 339.63 L183 340.04 L183 340.44 L183 340.84 L183 341.24 L183 341.64 L183 342.04 L183 342.45 L183 342.85 L183 343.25 L183 343.65 L183 344.05 L183 344.46 L183 344.86 L183 345.26 L183 345.66 L183 346.06 L183 346.46 L183 346.87 L183 347.27 L183 347.67 L183 348.07 L183 348.47 L183 348.88 L183 349.28 L183 349.68 L183 350.08 L183 350.48 L183 350.89 L183 351.29 L183 351.69 L183 352.09 L183 352.49 L183 352.89 L183 353.3 L183 353.7 L183 354.1 L183 354.1Z" fill="#fdf7cf" fill-opacity="0.85" stroke="none"/>
<path d="M183 289 L183 289 L183 289.4 L183 289.8 L183 290.21 L183 290.61 L183 291.01 L183 291.41 L183 291.81 L183 292.21 L183 292.62 L183 293.02 L183 293.42 L183 293.82 L183 294.22 L183 294.63 L183 295.03 L183 295.43 L183 295.83 L183 296.23 L183 296.64 L183 297.04 L183 297.44 L183 297.84 L183 298.24 L183 298.64 L183 299.05 L183 299.45 L183 299.85 L183 300.25 L183 300.65 L183 301.06 L183 301.46 L183 301.86 L183 302.26 L183 302.66 L183 303.06 L183 303.47 L183 303.87 L183 304.27 L183 304.67 L183 305.07 L183 305.48 L183 305.88 L183 306.28 L183 306.68 L183 307.08 L183 307.49 L183 307.89 L183 308.29 L183 308.69 L183 309.09 L183 309.49 L183 309.9 L183 310.3 L183 310.7 L183 311.1 L183 311.5 L183 311.91 L183 312.31 L183 312.71 L183 313.11 L183 313.51 L183 313.91 L183 314.32 L183 314.72 L183 315.12 L183.02 315.52 L183.07 315.92 L183.24 316.33 L183.68 316.73 L184.74 317.13 L186.91 317.53 L190.78 317.93 L196.71 318.34 L204.39 318.74 L212.54 319.14 L219.1 319.54 L222.05 319.94 L220.38 320.34 L214.68 320.75 L206.75 321.15 L198.77 321.55 L192.26 321.95 L187.81 322.35 L185.22 322.76 L183.9 323.16 L183.33 323.56 L183.1 323.96 L183.03 324.36 L183.01 324.76 L183 325.17 L183 325.57 L183 325.97 L183 326.37 L183 326.77 L183 327.18 L183 327.58 L183 327.98 L183 328.38 L183 328.78 L183 329.19 L183 329.59 L183 329.99 L183 330.39 L183 330.79 L183 331.19 L183 331.6 L183 332 L183 332.4 L183 332.8 L183 333.2 L183 333.61 L183 334.01 L183 334.41 L183 334.81 L183 335.21 L183 335.61 L183 336.02 L183 336.42 L183 336.82 L183 337.22 L183 337.62 L183 338.03 L183 338.43 L183 338.83 L183 339.23 L183 339.63 L183 340.04 L183 340.44 L183 340.84 L183 341.24 L183 341.64 L183 342.04 L183 342.45 L183 342.85 L183 343.25 L183 343.65 L183 344.05 L183 344.46 L183 344.86 L183 345.26 L183 345.66 L183 346.06 L183 346.46 L183 346.87 L183 347.27 L183 347.67 L183 348.07 L183 348.47 L183 348.88 L183 349.28 L183 349.68 L183 350.08 L183 350.48 L183 350.89 L183 351.29 L183 351.69 L183 352.09 L183 352.49 L183 352.89 L183 353.3 L183 353.7 L183 354.1 L183 354.1Z" fill="#d9ead6" fill-opacity="0.85" stroke="none"/>
<path d="M183.3 289 L183.3 289.4 L183.3 289.8 L183.3 290.21 L183.3 290.61 L183.3 291.01 L183.3 291.41 L183.3 291.81 L183.3 292.21 L183.3 292.62 L183.3 293.02 L183.3 293.42 L183.3 293.82 L183.3 294.22 L183.3 294.63 L183.3 295.03 L183.3 295.43 L183.3 295.83 L183.3 296.23 L183.3 296.64 L183.3 297.04 L183.3 297.44 L183.3 297.84 L183.3 298.24 L183.3 298.64 L183.3 299.05 L183.3 299.45 L183.3 299.85 L183.3 300.25 L183.3 300.65 L183.3 301.06 L183.3 301.46 L183.3 301.86 L183.3 302.26 L183.3 302.66 L183.3 303.06 L183.3 303.47 L183.3 303.87 L183.3 304.27 L183.3 304.67 L183.3 305.07 L183.3 305.48 L183.3 305.88 L183.3 306.28 L183.3 306.68 L183.3 307.08 L183.3 307.49 L183.3 307.89 L183.3 308.29 L183.3 308.69 L183.3 309.09 L183.3 309.49 L183.3 309.9 L183.3 310.3 L183.3 310.7 L183.3 311.1 L183.3 311.5 L183.3 311.91 L183.3 312.31 L183.3 312.71 L183.3 313.11 L183.3 313.51 L183.3 313.91 L183.3 314.32 L183.3 314.72 L183.3 315.12 L183.3 315.52 L183.3 315.92 L183.3 316.33 L183.3 316.73 L183.3 317.13 L183.3 317.53 L183.3 317.93 L183.31 318.34 L183.32 318.74 L183.38 319.14 L183.55 319.54 L184 319.94 L185.08 320.34 L187.28 320.75 L191.2 321.15 L197.16 321.55 L204.83 321.95 L212.9 322.35 L219.31 322.76 L222.07 323.16 L220.25 323.56 L214.47 323.96 L206.57 324.36 L198.67 324.76 L192.29 325.17 L187.95 325.57 L185.43 325.97 L184.16 326.37 L183.61 326.77 L183.4 327.18 L183.33 327.58 L183.31 327.98 L183.3 328.38 L183.3 328.78 L183.3 329.19 L183.3 329.59 L183.3 329.99 L183.3 330.39 L183.3 330.79 L183.3 331.19 L183.3 331.6 L183.3 332 L183.3 332.4 L183.3 332.8 L183.3 333.2 L183.3 333.61 L183.3 334.01 L183.3 334.41 L183.3 334.81 L183.3 335.21 L183.3 335.61 L183.3 336.02 L183.3 336.42 L183.3 336.82 L183.3 337.22 L183.3 337.62 L183.3 338.03 L183.3 338.43 L183.3 338.83 L183.3 339.23 L183.3 339.63 L183.3 340.04 L183.3 340.44 L183.3 340.84 L183.3 341.24 L183.3 341.64 L183.3 342.04 L183.3 342.45 L183.3 342.85 L183.3 343.25 L183.3 343.65 L183.3 344.05 L183.3 344.46 L183.3 344.86 L183.3 345.26 L183.3 345.66 L183.3 346.06 L183.3 346.46 L183.3 346.87 L183.3 347.27 L183.3 347.67 L183.3 348.07 L183.3 348.47 L183.3 348.88 L183.3 349.28 L183.3 349.68 L183.3 350.08 L183.3 350.48 L183.3 350.89 L183.3 351.29 L183.3 351.69 L183.3 352.09 L183.3 352.49 L183.3 352.89 L183.3 353.3 L183.3 353.7 L183.3 354.1" fill="none" stroke="#b5b82a" stroke-width="1.85" stroke-linejoin="round"/>
<path d="M182.9 289 L182.9 289.4 L182.9 289.8 L182.9 290.21 L182.9 290.61 L182.9 291.01 L182.9 291.41 L182.9 291.81 L182.9 292.21 L182.9 292.62 L182.9 293.02 L182.9 293.42 L182.9 293.82 L182.9 294.22 L182.9 294.63 L182.9 295.03 L182.9 295.43 L182.9 295.83 L182.9 296.23 L182.9 296.64 L182.9 297.04 L182.9 297.44 L182.9 297.84 L182.9 298.24 L182.9 298.64 L182.9 299.05 L182.9 299.45 L182.9 299.85 L182.9 300.25 L182.9 300.65 L182.9 301.06 L182.9 301.46 L182.9 301.86 L182.9 302.26 L182.9 302.66 L182.9 303.06 L182.9 303.47 L182.9 303.87 L182.9 304.27 L182.9 304.67 L182.9 305.07 L182.9 305.48 L182.9 305.88 L182.9 306.28 L182.9 306.68 L182.9 307.08 L182.9 307.49 L182.9 307.89 L182.9 308.29 L182.9 308.69 L182.9 309.09 L182.9 309.49 L182.9 309.9 L182.9 310.3 L182.9 310.7 L182.9 311.1 L182.9 311.5 L182.9 311.91 L182.9 312.31 L182.9 312.71 L182.9 313.11 L182.9 313.51 L182.9 313.91 L182.9 314.32 L182.9 314.72 L182.9 315.12 L182.92 315.52 L182.97 315.92 L183.14 316.33 L183.58 316.73 L184.64 317.13 L186.82 317.53 L190.7 317.93 L196.65 318.34 L204.35 318.74 L212.52 319.14 L219.1 319.54 L222.05 319.94 L220.38 320.34 L214.66 320.75 L206.71 321.15 L198.71 321.55 L192.18 321.95 L187.73 322.35 L185.12 322.76 L183.8 323.16 L183.23 323.56 L183 323.96 L182.93 324.36 L182.91 324.76 L182.9 325.17 L182.9 325.57 L182.9 325.97 L182.9 326.37 L182.9 326.77 L182.9 327.18 L182.9 327.58 L182.9 327.98 L182.9 328.38 L182.9 328.78 L182.9 329.19 L182.9 329.59 L182.9 329.99 L182.9 330.39 L182.9 330.79 L182.9 331.19 L182.9 331.6 L182.9 332 L182.9 332.4 L182.9 332.8 L182.9 333.2 L182.9 333.61 L182.9 334.01 L182.9 334.41 L182.9 334.81 L182.9 335.21 L182.9 335.61 L182.9 336.02 L182.9 336.42 L182.9 336.82 L182.9 337.22 L182.9 337.62 L182.9 338.03 L182.9 338.43 L182.9 338.83 L182.9 339.23 L182.9 339.63 L182.9 340.04 L182.9 340.44 L182.9 340.84 L182.9 341.24 L182.9 341.64 L182.9 342.04 L182.9 342.45 L182.9 342.85 L182.9 343.25 L182.9 343.65 L182.9 344.05 L182.9 344.46 L182.9 344.86 L182.9 345.26 L182.9 345.66 L182.9 346.06 L182.9 346.46 L182.9 346.87 L182.9 347.27 L182.9 347.67 L182.9 348.07 L182.9 348.47 L182.9 348.88 L182.9 349.28 L182.9 349.68 L182.9 350.08 L182.9 350.48 L182.9 350.89 L182.9 351.29 L182.9 351.69 L182.9 352.09 L182.9 352.49 L182.9 352.89 L182.9 353.3 L182.9 353.7 L182.9 354.1" fill="none" stroke="#2c8a1e" stroke-width="1.85" stroke-linejoin="round"/>
<ellipse cx="126.1" cy="321.3" rx="34.8" ry="15.8" transform="rotate(51 126.1 321.3)" fill="none" stroke="#9e9ea5" stroke-width="1.45" stroke-dasharray="5 3.1"/>
<ellipse cx="144.6" cy="326.9" rx="31.9" ry="15.8" transform="rotate(25 144.6 326.9)" fill="none" stroke="#9e9ea5" stroke-width="1.45" stroke-dasharray="5 3.1"/>
<ellipse cx="126.1" cy="321.3" rx="8.78" ry="3.8" transform="rotate(51 126.1 321.3)" fill="none" stroke="#ecedbd" stroke-width="1.75"/>
<ellipse cx="126.1" cy="321.3" rx="13.17" ry="5.7" transform="rotate(51 126.1 321.3)" fill="none" stroke="#dcde92" stroke-width="1.75"/>
<ellipse cx="126.1" cy="321.3" rx="17.79" ry="7.7" transform="rotate(51 126.1 321.3)" fill="none" stroke="#c9cc62" stroke-width="1.75"/>
<ellipse cx="126.1" cy="321.3" rx="23.1" ry="10" transform="rotate(51 126.1 321.3)" fill="none" stroke="#b7ba2e" stroke-width="2.05"/>
<ellipse cx="144.6" cy="326.9" rx="8.02" ry="3.8" transform="rotate(25 144.6 326.9)" fill="none" stroke="#bcdcb8" stroke-width="1.75"/>
<ellipse cx="144.6" cy="326.9" rx="12.03" ry="5.7" transform="rotate(25 144.6 326.9)" fill="none" stroke="#8fc489" stroke-width="1.75"/>
<ellipse cx="144.6" cy="326.9" rx="16.25" ry="7.7" transform="rotate(25 144.6 326.9)" fill="none" stroke="#5fa757" stroke-width="1.75"/>
<ellipse cx="144.6" cy="326.9" rx="21.1" ry="10" transform="rotate(25 144.6 326.9)" fill="none" stroke="#338f29" stroke-width="2.05"/>
<path d="M96.7 250.4H181V286H223.6V356.6H96.7V250.4H96.7Z" fill="none" stroke="#000" stroke-width="1.35"/>
<path d="M96.7 286H181M181 286V356.6" fill="none" stroke="#000" stroke-width="1.35"/>
<text x="105.6" y="376.7" font-size="10.4" text-anchor="middle" fill="#111111" stroke="#111111" stroke-width="0.14" textLength="12.59" lengthAdjust="spacingAndGlyphs">22</text>
<text x="134.4" y="376.7" font-size="10.4" text-anchor="middle" fill="#111111" stroke="#111111" stroke-width="0.14" textLength="12.59" lengthAdjust="spacingAndGlyphs">24</text>
<text x="163" y="376.7" font-size="10.4" text-anchor="middle" fill="#111111" stroke="#111111" stroke-width="0.14" textLength="12.59" lengthAdjust="spacingAndGlyphs">26</text>
<text x="85.1" y="293.8" font-size="10.4" text-anchor="end" fill="#111111" stroke="#111111" stroke-width="0.14" textLength="15.74" lengthAdjust="spacingAndGlyphs">2.5</text>
<text x="85.1" y="313.8" font-size="10.4" text-anchor="end" fill="#111111" stroke="#111111" stroke-width="0.14" textLength="15.74" lengthAdjust="spacingAndGlyphs">2.0</text>
<text x="85.1" y="333.4" font-size="10.4" text-anchor="end" fill="#111111" stroke="#111111" stroke-width="0.14" textLength="15.74" lengthAdjust="spacingAndGlyphs">1.5</text>
<text x="85.1" y="353.4" font-size="10.4" text-anchor="end" fill="#111111" stroke="#111111" stroke-width="0.14" textLength="15.74" lengthAdjust="spacingAndGlyphs">1.0</text>
<text x="112" y="237.4" font-size="10.4" text-anchor="middle" fill="#111111" stroke="#111111" stroke-width="0.14" textLength="14.59" lengthAdjust="spacingAndGlyphs">−1</text>
<text x="139" y="237.4" font-size="10.4" text-anchor="middle" fill="#111111" stroke="#111111" stroke-width="0.14" textLength="6.3" lengthAdjust="spacingAndGlyphs">0</text>
<text x="164.6" y="237.4" font-size="10.4" text-anchor="middle" fill="#111111" stroke="#111111" stroke-width="0.14" textLength="6.3" lengthAdjust="spacingAndGlyphs">1</text>
<text x="235.4" y="303.7" font-size="10.4" text-anchor="start" fill="#111111" stroke="#111111" stroke-width="0.14" textLength="6.3" lengthAdjust="spacingAndGlyphs">1</text>
<text x="235.4" y="325.4" font-size="10.4" text-anchor="start" fill="#111111" stroke="#111111" stroke-width="0.14" textLength="6.3" lengthAdjust="spacingAndGlyphs">0</text>
<text x="235.4" y="346.8" font-size="10.4" text-anchor="start" fill="#111111" stroke="#111111" stroke-width="0.14" textLength="14.59" lengthAdjust="spacingAndGlyphs">−1</text>
<path d="M105.5 356.6v5.5M134.5 356.6v5.5M163.5 356.6v5.5M96.7 290.5h-5.5M96.7 310.5h-5.5M96.7 329.5h-5.5M96.7 349.5h-5.5M113.5 250.4v-5.6M139.5 250.4v-5.6M164.5 250.4v-5.6M223.6 299.5h5.3M223.6 321.5h5.3M223.6 343.5h5.3" fill="none" stroke="#000" stroke-width="1.25"/>
<text x="53.8" y="321.3" font-size="10.6" text-anchor="middle" fill="#111111" stroke="#111111" stroke-width="0.1" textLength="107.6" lengthAdjust="spacingAndGlyphs" transform="rotate(-90 53.8 321.3)">Accum. precip. (mm)</text>
</g>
<g>
<path d="M280 283.5 L280 283.5 L280.6 283.5 L281.2 283.5 L281.8 283.5 L282.4 283.5 L283 283.5 L283.6 283.5 L284.2 283.5 L284.8 283.5 L285.4 283.5 L286 283.5 L286.6 283.5 L287.2 283.5 L287.8 283.5 L288.4 283.5 L289 283.5 L289.6 283.5 L290.2 283.5 L290.8 283.5 L291.4 283.5 L292 283.5 L292.6 283.5 L293.2 283.5 L293.8 283.5 L294.4 283.5 L295 283.5 L295.6 283.5 L296.2 283.5 L296.8 283.5 L297.4 283.5 L298 283.5 L298.6 283.5 L299.2 283.5 L299.8 283.5 L300.4 283.5 L301 283.5 L301.6 283.5 L302.2 283.5 L302.8 283.5 L303.4 283.49 L304 283.47 L304.6 283.42 L305.2 283.28 L305.8 282.97 L306.4 282.34 L307 281.18 L307.6 279.25 L308.2 276.38 L308.8 272.52 L309.4 267.88 L310 262.92 L310.6 258.26 L311.2 254.52 L311.8 252.15 L312.4 251.24 L313 251.4 L313.6 252.78 L314.2 255.63 L314.8 259.74 L315.4 264.57 L316 269.49 L316.6 273.91 L317.2 277.45 L317.8 279.99 L318.4 281.64 L319 282.6 L319.6 283.1 L320.2 283.34 L320.8 283.44 L321.4 283.48 L322 283.49 L322.6 283.5 L323.2 283.5 L323.8 283.5 L324.4 283.5 L325 283.5 L325.6 283.5 L326.2 283.5 L326.8 283.5 L327.4 283.5 L328 283.5 L328.6 283.5 L329.2 283.5 L329.8 283.5 L330.4 283.5 L331 283.5 L331.6 283.5 L332.2 283.5 L332.8 283.5 L333.4 283.5 L334 283.5 L334.6 283.5 L335.2 283.5 L335.8 283.5 L336.4 283.5 L337 283.5 L337.6 283.5 L338.2 283.5 L338.8 283.5 L339.4 283.5 L340 283.5 L340.6 283.5 L341.2 283.5 L341.8 283.5 L342.4 283.5 L343 283.5 L343.6 283.5 L344.2 283.5 L344.8 283.5 L345.4 283.5 L346 283.5 L346.6 283.5 L347.2 283.5 L347.8 283.5 L348.4 283.5 L349 283.5 L349.6 283.5 L350.2 283.5 L350.8 283.5 L351.4 283.5 L352 283.5 L352.6 283.5 L353.2 283.5 L353.8 283.5 L354.4 283.5 L355 283.5 L355.6 283.5 L356.2 283.5 L356.8 283.5 L357.4 283.5 L358 283.5 L358.6 283.5 L358.6 283.5Z" fill="#fdf7cf" fill-opacity="0.85" stroke="none"/>
<path d="M280 283.5 L280 283.5 L280.6 283.5 L281.2 283.5 L281.8 283.5 L282.4 283.5 L283 283.5 L283.6 283.5 L284.2 283.5 L284.8 283.5 L285.4 283.5 L286 283.5 L286.6 283.5 L287.2 283.5 L287.8 283.5 L288.4 283.5 L289 283.5 L289.6 283.5 L290.2 283.5 L290.8 283.5 L291.4 283.5 L292 283.5 L292.6 283.5 L293.2 283.5 L293.8 283.5 L294.4 283.5 L295 283.5 L295.6 283.5 L296.2 283.5 L296.8 283.5 L297.4 283.5 L298 283.5 L298.6 283.5 L299.2 283.5 L299.8 283.5 L300.4 283.5 L301 283.5 L301.6 283.5 L302.2 283.5 L302.8 283.5 L303.4 283.5 L304 283.5 L304.6 283.5 L305.2 283.5 L305.8 283.5 L306.4 283.5 L307 283.5 L307.6 283.5 L308.2 283.5 L308.8 283.5 L309.4 283.5 L310 283.5 L310.6 283.5 L311.2 283.5 L311.8 283.5 L312.4 283.5 L313 283.5 L313.6 283.5 L314.2 283.5 L314.8 283.5 L315.4 283.5 L316 283.5 L316.6 283.49 L317.2 283.46 L317.8 283.39 L318.4 283.2 L319 282.81 L319.6 282.02 L320.2 280.63 L320.8 278.4 L321.4 275.19 L322 271.04 L322.6 266.23 L323.2 261.3 L323.8 256.88 L324.4 253.57 L325 251.7 L325.6 251.2 L326.2 251.7 L326.8 253.57 L327.4 256.88 L328 261.3 L328.6 266.23 L329.2 271.04 L329.8 275.19 L330.4 278.4 L331 280.63 L331.6 282.02 L332.2 282.81 L332.8 283.2 L333.4 283.39 L334 283.46 L334.6 283.49 L335.2 283.5 L335.8 283.5 L336.4 283.5 L337 283.5 L337.6 283.5 L338.2 283.5 L338.8 283.5 L339.4 283.5 L340 283.5 L340.6 283.5 L341.2 283.5 L341.8 283.5 L342.4 283.5 L343 283.5 L343.6 283.5 L344.2 283.5 L344.8 283.5 L345.4 283.5 L346 283.5 L346.6 283.5 L347.2 283.5 L347.8 283.5 L348.4 283.5 L349 283.5 L349.6 283.5 L350.2 283.5 L350.8 283.5 L351.4 283.5 L352 283.5 L352.6 283.5 L353.2 283.5 L353.8 283.5 L354.4 283.5 L355 283.5 L355.6 283.5 L356.2 283.5 L356.8 283.5 L357.4 283.5 L358 283.5 L358.6 283.5 L358.6 283.5Z" fill="#d9ead6" fill-opacity="0.85" stroke="none"/>
<path d="M280 283.15 L280.6 283.15 L281.2 283.15 L281.8 283.15 L282.4 283.15 L283 283.15 L283.6 283.15 L284.2 283.15 L284.8 283.15 L285.4 283.15 L286 283.15 L286.6 283.15 L287.2 283.15 L287.8 283.15 L288.4 283.15 L289 283.15 L289.6 283.15 L290.2 283.15 L290.8 283.15 L291.4 283.15 L292 283.15 L292.6 283.15 L293.2 283.15 L293.8 283.15 L294.4 283.15 L295 283.15 L295.6 283.15 L296.2 283.15 L296.8 283.15 L297.4 283.15 L298 283.15 L298.6 283.15 L299.2 283.15 L299.8 283.15 L300.4 283.15 L301 283.15 L301.6 283.15 L302.2 283.15 L302.8 283.15 L303.4 283.14 L304 283.12 L304.6 283.07 L305.2 282.93 L305.8 282.63 L306.4 282 L307 280.85 L307.6 278.95 L308.2 276.1 L308.8 272.29 L309.4 267.7 L310 262.79 L310.6 258.18 L311.2 254.49 L311.8 252.14 L312.4 251.24 L313 251.39 L313.6 252.76 L314.2 255.58 L314.8 259.64 L315.4 264.43 L316 269.29 L316.6 273.66 L317.2 277.16 L317.8 279.68 L318.4 281.31 L319 282.26 L319.6 282.76 L320.2 282.99 L320.8 283.09 L321.4 283.13 L322 283.14 L322.6 283.15 L323.2 283.15 L323.8 283.15 L324.4 283.15 L325 283.15 L325.6 283.15 L326.2 283.15 L326.8 283.15 L327.4 283.15 L328 283.15 L328.6 283.15 L329.2 283.15 L329.8 283.15 L330.4 283.15 L331 283.15 L331.6 283.15 L332.2 283.15 L332.8 283.15 L333.4 283.15 L334 283.15 L334.6 283.15 L335.2 283.15 L335.8 283.15 L336.4 283.15 L337 283.15 L337.6 283.15 L338.2 283.15 L338.8 283.15 L339.4 283.15 L340 283.15 L340.6 283.15 L341.2 283.15 L341.8 283.15 L342.4 283.15 L343 283.15 L343.6 283.15 L344.2 283.15 L344.8 283.15 L345.4 283.15 L346 283.15 L346.6 283.15 L347.2 283.15 L347.8 283.15 L348.4 283.15 L349 283.15 L349.6 283.15 L350.2 283.15 L350.8 283.15 L351.4 283.15 L352 283.15 L352.6 283.15 L353.2 283.15 L353.8 283.15 L354.4 283.15 L355 283.15 L355.6 283.15 L356.2 283.15 L356.8 283.15 L357.4 283.15 L358 283.15 L358.6 283.15" fill="none" stroke="#b5b82a" stroke-width="2.2" stroke-linejoin="round"/>
<path d="M280 283.6 L280.6 283.6 L281.2 283.6 L281.8 283.6 L282.4 283.6 L283 283.6 L283.6 283.6 L284.2 283.6 L284.8 283.6 L285.4 283.6 L286 283.6 L286.6 283.6 L287.2 283.6 L287.8 283.6 L288.4 283.6 L289 283.6 L289.6 283.6 L290.2 283.6 L290.8 283.6 L291.4 283.6 L292 283.6 L292.6 283.6 L293.2 283.6 L293.8 283.6 L294.4 283.6 L295 283.6 L295.6 283.6 L296.2 283.6 L296.8 283.6 L297.4 283.6 L298 283.6 L298.6 283.6 L299.2 283.6 L299.8 283.6 L300.4 283.6 L301 283.6 L301.6 283.6 L302.2 283.6 L302.8 283.6 L303.4 283.6 L304 283.6 L304.6 283.6 L305.2 283.6 L305.8 283.6 L306.4 283.6 L307 283.6 L307.6 283.6 L308.2 283.6 L308.8 283.6 L309.4 283.6 L310 283.6 L310.6 283.6 L311.2 283.6 L311.8 283.6 L312.4 283.6 L313 283.6 L313.6 283.6 L314.2 283.6 L314.8 283.6 L315.4 283.6 L316 283.6 L316.6 283.59 L317.2 283.56 L317.8 283.48 L318.4 283.3 L319 282.9 L319.6 282.12 L320.2 280.72 L320.8 278.49 L321.4 275.27 L322 271.1 L322.6 266.28 L323.2 261.33 L323.8 256.9 L324.4 253.58 L325 251.7 L325.6 251.2 L326.2 251.7 L326.8 253.58 L327.4 256.9 L328 261.33 L328.6 266.28 L329.2 271.1 L329.8 275.27 L330.4 278.49 L331 280.72 L331.6 282.12 L332.2 282.9 L332.8 283.3 L333.4 283.48 L334 283.56 L334.6 283.59 L335.2 283.6 L335.8 283.6 L336.4 283.6 L337 283.6 L337.6 283.6 L338.2 283.6 L338.8 283.6 L339.4 283.6 L340 283.6 L340.6 283.6 L341.2 283.6 L341.8 283.6 L342.4 283.6 L343 283.6 L343.6 283.6 L344.2 283.6 L344.8 283.6 L345.4 283.6 L346 283.6 L346.6 283.6 L347.2 283.6 L347.8 283.6 L348.4 283.6 L349 283.6 L349.6 283.6 L350.2 283.6 L350.8 283.6 L351.4 283.6 L352 283.6 L352.6 283.6 L353.2 283.6 L353.8 283.6 L354.4 283.6 L355 283.6 L355.6 283.6 L356.2 283.6 L356.8 283.6 L357.4 283.6 L358 283.6 L358.6 283.6" fill="none" stroke="#2c8a1e" stroke-width="2.2" stroke-linejoin="round"/>
<path d="M363.6 288.2 L363.6 288.2 L363.6 288.6 L363.6 289 L363.6 289.4 L363.6 289.8 L363.6 290.2 L363.6 290.6 L363.6 291 L363.6 291.4 L363.6 291.81 L363.6 292.21 L363.6 292.61 L363.6 293.01 L363.6 293.41 L363.6 293.81 L363.6 294.21 L363.6 294.61 L363.6 295.01 L363.6 295.41 L363.6 295.81 L363.6 296.21 L363.6 296.61 L363.6 297.01 L363.6 297.41 L363.6 297.81 L363.6 298.22 L363.6 298.62 L363.6 299.02 L363.6 299.42 L363.6 299.82 L363.6 300.22 L363.6 300.62 L363.6 301.02 L363.6 301.42 L363.6 301.82 L363.6 302.22 L363.6 302.62 L363.6 303.02 L363.6 303.42 L363.6 303.82 L363.6 304.22 L363.6 304.63 L363.6 305.03 L363.6 305.43 L363.6 305.83 L363.6 306.23 L363.6 306.63 L363.6 307.03 L363.6 307.43 L363.6 307.83 L363.6 308.23 L363.6 308.63 L363.6 309.03 L363.6 309.43 L363.6 309.83 L363.6 310.23 L363.6 310.63 L363.6 311.03 L363.6 311.44 L363.6 311.84 L363.6 312.24 L363.6 312.64 L363.6 313.04 L363.6 313.44 L363.6 313.84 L363.6 314.24 L363.6 314.64 L363.6 315.04 L363.6 315.44 L363.6 315.84 L363.6 316.24 L363.6 316.64 L363.6 317.04 L363.6 317.44 L363.62 317.85 L363.66 318.25 L363.79 318.65 L364.15 319.05 L365.03 319.45 L366.88 319.85 L370.3 320.25 L375.69 320.65 L382.94 321.05 L390.99 321.45 L397.96 321.85 L401.78 322.25 L401.18 322.65 L396.36 323.05 L388.9 323.45 L380.9 323.85 L374.08 324.26 L369.22 324.66 L366.27 325.06 L364.72 325.46 L364.02 325.86 L363.74 326.26 L363.64 326.66 L363.61 327.06 L363.6 327.46 L363.6 327.86 L363.6 328.26 L363.6 328.66 L363.6 329.06 L363.6 329.46 L363.6 329.86 L363.6 330.26 L363.6 330.67 L363.6 331.07 L363.6 331.47 L363.6 331.87 L363.6 332.27 L363.6 332.67 L363.6 333.07 L363.6 333.47 L363.6 333.87 L363.6 334.27 L363.6 334.67 L363.6 335.07 L363.6 335.47 L363.6 335.87 L363.6 336.27 L363.6 336.67 L363.6 337.07 L363.6 337.48 L363.6 337.88 L363.6 338.28 L363.6 338.68 L363.6 339.08 L363.6 339.48 L363.6 339.88 L363.6 340.28 L363.6 340.68 L363.6 341.08 L363.6 341.48 L363.6 341.88 L363.6 342.28 L363.6 342.68 L363.6 343.08 L363.6 343.48 L363.6 343.89 L363.6 344.29 L363.6 344.69 L363.6 345.09 L363.6 345.49 L363.6 345.89 L363.6 346.29 L363.6 346.69 L363.6 347.09 L363.6 347.49 L363.6 347.89 L363.6 348.29 L363.6 348.69 L363.6 349.09 L363.6 349.49 L363.6 349.89 L363.6 350.3 L363.6 350.7 L363.6 351.1 L363.6 351.5 L363.6 351.9 L363.6 352.3 L363.6 352.7 L363.6 353.1 L363.6 353.5 L363.6 353.5Z" fill="#fdf7cf" fill-opacity="0.85" stroke="none"/>
<path d="M363.6 288.2 L363.6 288.2 L363.6 288.6 L363.6 289 L363.6 289.4 L363.6 289.8 L363.6 290.2 L363.6 290.6 L363.6 291 L363.6 291.4 L363.6 291.81 L363.6 292.21 L363.6 292.61 L363.6 293.01 L363.6 293.41 L363.6 293.81 L363.6 294.21 L363.6 294.61 L363.6 295.01 L363.6 295.41 L363.6 295.81 L363.6 296.21 L363.6 296.61 L363.6 297.01 L363.6 297.41 L363.6 297.81 L363.6 298.22 L363.6 298.62 L363.6 299.02 L363.6 299.42 L363.6 299.82 L363.6 300.22 L363.6 300.62 L363.6 301.02 L363.6 301.42 L363.6 301.82 L363.6 302.22 L363.6 302.62 L363.6 303.02 L363.6 303.42 L363.6 303.82 L363.6 304.22 L363.6 304.63 L363.6 305.03 L363.6 305.43 L363.6 305.83 L363.6 306.23 L363.6 306.63 L363.6 307.03 L363.6 307.43 L363.6 307.83 L363.6 308.23 L363.6 308.63 L363.6 309.03 L363.6 309.43 L363.6 309.83 L363.6 310.23 L363.6 310.63 L363.6 311.03 L363.6 311.44 L363.6 311.84 L363.6 312.24 L363.6 312.64 L363.6 313.04 L363.6 313.44 L363.6 313.84 L363.61 314.24 L363.63 314.64 L363.7 315.04 L363.92 315.44 L364.49 315.84 L365.77 316.24 L368.32 316.64 L372.67 317.04 L379.03 317.44 L386.86 317.85 L394.65 318.25 L400.32 318.65 L402.07 319.05 L399.29 319.45 L392.93 319.85 L384.94 320.25 L377.36 320.65 L371.46 321.05 L367.57 321.45 L365.38 321.85 L364.31 322.25 L363.85 322.65 L363.68 323.05 L363.62 323.45 L363.61 323.85 L363.6 324.26 L363.6 324.66 L363.6 325.06 L363.6 325.46 L363.6 325.86 L363.6 326.26 L363.6 326.66 L363.6 327.06 L363.6 327.46 L363.6 327.86 L363.6 328.26 L363.6 328.66 L363.6 329.06 L363.6 329.46 L363.6 329.86 L363.6 330.26 L363.6 330.67 L363.6 331.07 L363.6 331.47 L363.6 331.87 L363.6 332.27 L363.6 332.67 L363.6 333.07 L363.6 333.47 L363.6 333.87 L363.6 334.27 L363.6 334.67 L363.6 335.07 L363.6 335.47 L363.6 335.87 L363.6 336.27 L363.6 336.67 L363.6 337.07 L363.6 337.48 L363.6 337.88 L363.6 338.28 L363.6 338.68 L363.6 339.08 L363.6 339.48 L363.6 339.88 L363.6 340.28 L363.6 340.68 L363.6 341.08 L363.6 341.48 L363.6 341.88 L363.6 342.28 L363.6 342.68 L363.6 343.08 L363.6 343.48 L363.6 343.89 L363.6 344.29 L363.6 344.69 L363.6 345.09 L363.6 345.49 L363.6 345.89 L363.6 346.29 L363.6 346.69 L363.6 347.09 L363.6 347.49 L363.6 347.89 L363.6 348.29 L363.6 348.69 L363.6 349.09 L363.6 349.49 L363.6 349.89 L363.6 350.3 L363.6 350.7 L363.6 351.1 L363.6 351.5 L363.6 351.9 L363.6 352.3 L363.6 352.7 L363.6 353.1 L363.6 353.5 L363.6 353.5Z" fill="#d9ead6" fill-opacity="0.85" stroke="none"/>
<path d="M363.9 288.2 L363.9 288.6 L363.9 289 L363.9 289.4 L363.9 289.8 L363.9 290.2 L363.9 290.6 L363.9 291 L363.9 291.4 L363.9 291.81 L363.9 292.21 L363.9 292.61 L363.9 293.01 L363.9 293.41 L363.9 293.81 L363.9 294.21 L363.9 294.61 L363.9 295.01 L363.9 295.41 L363.9 295.81 L363.9 296.21 L363.9 296.61 L363.9 297.01 L363.9 297.41 L363.9 297.81 L363.9 298.22 L363.9 298.62 L363.9 299.02 L363.9 299.42 L363.9 299.82 L363.9 300.22 L363.9 300.62 L363.9 301.02 L363.9 301.42 L363.9 301.82 L363.9 302.22 L363.9 302.62 L363.9 303.02 L363.9 303.42 L363.9 303.82 L363.9 304.22 L363.9 304.63 L363.9 305.03 L363.9 305.43 L363.9 305.83 L363.9 306.23 L363.9 306.63 L363.9 307.03 L363.9 307.43 L363.9 307.83 L363.9 308.23 L363.9 308.63 L363.9 309.03 L363.9 309.43 L363.9 309.83 L363.9 310.23 L363.9 310.63 L363.9 311.03 L363.9 311.44 L363.9 311.84 L363.9 312.24 L363.9 312.64 L363.9 313.04 L363.9 313.44 L363.9 313.84 L363.9 314.24 L363.9 314.64 L363.9 315.04 L363.9 315.44 L363.9 315.84 L363.9 316.24 L363.9 316.64 L363.9 317.04 L363.9 317.44 L363.91 317.85 L363.96 318.25 L364.09 318.65 L364.44 319.05 L365.32 319.45 L367.16 319.85 L370.54 320.25 L375.9 320.65 L383.08 321.05 L391.07 321.45 L397.99 321.85 L401.79 322.25 L401.19 322.65 L396.41 323.05 L389 323.45 L381.07 323.85 L374.3 324.26 L369.48 324.66 L366.55 325.06 L365.02 325.46 L364.32 325.86 L364.04 326.26 L363.94 326.66 L363.91 327.06 L363.9 327.46 L363.9 327.86 L363.9 328.26 L363.9 328.66 L363.9 329.06 L363.9 329.46 L363.9 329.86 L363.9 330.26 L363.9 330.67 L363.9 331.07 L363.9 331.47 L363.9 331.87 L363.9 332.27 L363.9 332.67 L363.9 333.07 L363.9 333.47 L363.9 333.87 L363.9 334.27 L363.9 334.67 L363.9 335.07 L363.9 335.47 L363.9 335.87 L363.9 336.27 L363.9 336.67 L363.9 337.07 L363.9 337.48 L363.9 337.88 L363.9 338.28 L363.9 338.68 L363.9 339.08 L363.9 339.48 L363.9 339.88 L363.9 340.28 L363.9 340.68 L363.9 341.08 L363.9 341.48 L363.9 341.88 L363.9 342.28 L363.9 342.68 L363.9 343.08 L363.9 343.48 L363.9 343.89 L363.9 344.29 L363.9 344.69 L363.9 345.09 L363.9 345.49 L363.9 345.89 L363.9 346.29 L363.9 346.69 L363.9 347.09 L363.9 347.49 L363.9 347.89 L363.9 348.29 L363.9 348.69 L363.9 349.09 L363.9 349.49 L363.9 349.89 L363.9 350.3 L363.9 350.7 L363.9 351.1 L363.9 351.5 L363.9 351.9 L363.9 352.3 L363.9 352.7 L363.9 353.1 L363.9 353.5" fill="none" stroke="#b5b82a" stroke-width="1.85" stroke-linejoin="round"/>
<path d="M363.5 288.2 L363.5 288.6 L363.5 289 L363.5 289.4 L363.5 289.8 L363.5 290.2 L363.5 290.6 L363.5 291 L363.5 291.4 L363.5 291.81 L363.5 292.21 L363.5 292.61 L363.5 293.01 L363.5 293.41 L363.5 293.81 L363.5 294.21 L363.5 294.61 L363.5 295.01 L363.5 295.41 L363.5 295.81 L363.5 296.21 L363.5 296.61 L363.5 297.01 L363.5 297.41 L363.5 297.81 L363.5 298.22 L363.5 298.62 L363.5 299.02 L363.5 299.42 L363.5 299.82 L363.5 300.22 L363.5 300.62 L363.5 301.02 L363.5 301.42 L363.5 301.82 L363.5 302.22 L363.5 302.62 L363.5 303.02 L363.5 303.42 L363.5 303.82 L363.5 304.22 L363.5 304.63 L363.5 305.03 L363.5 305.43 L363.5 305.83 L363.5 306.23 L363.5 306.63 L363.5 307.03 L363.5 307.43 L363.5 307.83 L363.5 308.23 L363.5 308.63 L363.5 309.03 L363.5 309.43 L363.5 309.83 L363.5 310.23 L363.5 310.63 L363.5 311.03 L363.5 311.44 L363.5 311.84 L363.5 312.24 L363.5 312.64 L363.5 313.04 L363.5 313.44 L363.5 313.84 L363.51 314.24 L363.53 314.64 L363.6 315.04 L363.82 315.44 L364.39 315.84 L365.68 316.24 L368.23 316.64 L372.59 317.04 L378.97 317.44 L386.82 317.85 L394.63 318.25 L400.32 318.65 L402.07 319.05 L399.28 319.45 L392.9 319.85 L384.9 320.25 L377.3 320.65 L371.38 321.05 L367.48 321.45 L365.28 321.85 L364.21 322.25 L363.75 322.65 L363.58 323.05 L363.52 323.45 L363.51 323.85 L363.5 324.26 L363.5 324.66 L363.5 325.06 L363.5 325.46 L363.5 325.86 L363.5 326.26 L363.5 326.66 L363.5 327.06 L363.5 327.46 L363.5 327.86 L363.5 328.26 L363.5 328.66 L363.5 329.06 L363.5 329.46 L363.5 329.86 L363.5 330.26 L363.5 330.67 L363.5 331.07 L363.5 331.47 L363.5 331.87 L363.5 332.27 L363.5 332.67 L363.5 333.07 L363.5 333.47 L363.5 333.87 L363.5 334.27 L363.5 334.67 L363.5 335.07 L363.5 335.47 L363.5 335.87 L363.5 336.27 L363.5 336.67 L363.5 337.07 L363.5 337.48 L363.5 337.88 L363.5 338.28 L363.5 338.68 L363.5 339.08 L363.5 339.48 L363.5 339.88 L363.5 340.28 L363.5 340.68 L363.5 341.08 L363.5 341.48 L363.5 341.88 L363.5 342.28 L363.5 342.68 L363.5 343.08 L363.5 343.48 L363.5 343.89 L363.5 344.29 L363.5 344.69 L363.5 345.09 L363.5 345.49 L363.5 345.89 L363.5 346.29 L363.5 346.69 L363.5 347.09 L363.5 347.49 L363.5 347.89 L363.5 348.29 L363.5 348.69 L363.5 349.09 L363.5 349.49 L363.5 349.89 L363.5 350.3 L363.5 350.7 L363.5 351.1 L363.5 351.5 L363.5 351.9 L363.5 352.3 L363.5 352.7 L363.5 353.1 L363.5 353.5" fill="none" stroke="#2c8a1e" stroke-width="1.85" stroke-linejoin="round"/>
<ellipse cx="321.3" cy="320.8" rx="33.35" ry="27.55" transform="rotate(35 321.3 320.8)" fill="none" stroke="#9e9ea5" stroke-width="1.45" stroke-dasharray="5 3.1"/>
<ellipse cx="336.5" cy="326.6" rx="23.2" ry="17.4" transform="rotate(45 336.5 326.6)" fill="none" stroke="#9e9ea5" stroke-width="1.45" stroke-dasharray="5 3.1"/>
<ellipse cx="321.3" cy="320.8" rx="10.17" ry="8.33" transform="rotate(35 321.3 320.8)" fill="none" stroke="#dcde92" stroke-width="1.75"/>
<ellipse cx="321.3" cy="320.8" rx="15.47" ry="12.67" transform="rotate(35 321.3 320.8)" fill="none" stroke="#c9cc62" stroke-width="1.75"/>
<ellipse cx="321.3" cy="320.8" rx="22.1" ry="18.1" transform="rotate(35 321.3 320.8)" fill="none" stroke="#b7ba2e" stroke-width="2.05"/>
<ellipse cx="336.5" cy="326.6" rx="5.74" ry="4.22" transform="rotate(45 336.5 326.6)" fill="none" stroke="#bcdcb8" stroke-width="1.75"/>
<ellipse cx="336.5" cy="326.6" rx="8.61" ry="6.33" transform="rotate(45 336.5 326.6)" fill="none" stroke="#8fc489" stroke-width="1.75"/>
<ellipse cx="336.5" cy="326.6" rx="11.63" ry="8.55" transform="rotate(45 336.5 326.6)" fill="none" stroke="#5fa757" stroke-width="1.75"/>
<ellipse cx="336.5" cy="326.6" rx="15.1" ry="11.1" transform="rotate(45 336.5 326.6)" fill="none" stroke="#338f29" stroke-width="2.05"/>
<path d="M277 249.6H361.6V285.2H403.6V356H277V249.6H277Z" fill="none" stroke="#000" stroke-width="1.35"/>
<path d="M277 285.2H361.6M361.6 285.2V356" fill="none" stroke="#000" stroke-width="1.35"/>
<text x="277.4" y="376.1" font-size="10.4" text-anchor="middle" fill="#111111" stroke="#111111" stroke-width="0.14" textLength="12.59" lengthAdjust="spacingAndGlyphs">17</text>
<text x="307.4" y="376.1" font-size="10.4" text-anchor="middle" fill="#111111" stroke="#111111" stroke-width="0.14" textLength="12.59" lengthAdjust="spacingAndGlyphs">18</text>
<text x="337.6" y="376.1" font-size="10.4" text-anchor="middle" fill="#111111" stroke="#111111" stroke-width="0.14" textLength="12.59" lengthAdjust="spacingAndGlyphs">19</text>
<text x="292" y="236.6" font-size="10.4" text-anchor="middle" fill="#111111" stroke="#111111" stroke-width="0.14" textLength="14.59" lengthAdjust="spacingAndGlyphs">−1</text>
<text x="319" y="236.6" font-size="10.4" text-anchor="middle" fill="#111111" stroke="#111111" stroke-width="0.14" textLength="6.3" lengthAdjust="spacingAndGlyphs">0</text>
<text x="345" y="236.6" font-size="10.4" text-anchor="middle" fill="#111111" stroke="#111111" stroke-width="0.14" textLength="6.3" lengthAdjust="spacingAndGlyphs">1</text>
<text x="415.4" y="303.2" font-size="10.4" text-anchor="start" fill="#111111" stroke="#111111" stroke-width="0.14" textLength="6.3" lengthAdjust="spacingAndGlyphs">1</text>
<text x="415.4" y="324.8" font-size="10.4" text-anchor="start" fill="#111111" stroke="#111111" stroke-width="0.14" textLength="6.3" lengthAdjust="spacingAndGlyphs">0</text>
<text x="415.4" y="346.2" font-size="10.4" text-anchor="start" fill="#111111" stroke="#111111" stroke-width="0.14" textLength="14.59" lengthAdjust="spacingAndGlyphs">−1</text>
<path d="M277.5 356v5.5M307.5 356v5.5M337.5 356v5.5M293.5 249.6v-5.6M319.5 249.6v-5.6M345.5 249.6v-5.6M403.6 299.5h5.3M403.6 321.5h5.3M403.6 342.5h5.3M277 290h-1.6M277 310h-1.6M277 330h-1.6M277 350h-1.6" fill="none" stroke="#000" stroke-width="1.25"/>
</g>
<g>
<path d="M528.5 284.1 L528.5 284.1 L529.1 284.1 L529.71 284.1 L530.31 284.1 L530.92 284.1 L531.52 284.1 L532.12 284.1 L532.73 284.09 L533.33 284.09 L533.93 284.08 L534.54 284.07 L535.14 284.04 L535.75 284 L536.35 283.94 L536.95 283.85 L537.56 283.7 L538.16 283.49 L538.77 283.19 L539.37 282.78 L539.97 282.22 L540.58 281.49 L541.18 280.55 L541.78 279.38 L542.39 277.96 L542.99 276.28 L543.6 274.35 L544.2 272.19 L544.8 269.85 L545.41 267.38 L546.01 264.85 L546.62 262.34 L547.22 259.94 L547.82 257.73 L548.43 255.79 L549.03 254.17 L549.63 252.93 L550.24 252.07 L550.84 251.57 L551.45 251.4 L552.05 251.45 L552.65 251.77 L553.26 252.44 L553.86 253.49 L554.47 254.92 L555.07 256.7 L555.67 258.78 L556.28 261.1 L556.88 263.56 L557.48 266.09 L558.09 268.6 L558.69 271.02 L559.3 273.28 L559.9 275.33 L560.5 277.13 L561.11 278.68 L561.71 279.98 L562.32 281.04 L562.92 281.87 L563.52 282.51 L564.13 283 L564.73 283.35 L565.33 283.6 L565.94 283.78 L566.54 283.9 L567.15 283.98 L567.75 284.03 L568.35 284.06 L568.96 284.08 L569.56 284.09 L570.17 284.09 L570.77 284.1 L571.37 284.1 L571.98 284.1 L572.58 284.1 L573.18 284.1 L573.79 284.1 L574.39 284.1 L575 284.1 L575.6 284.1 L576.2 284.1 L576.81 284.1 L577.41 284.1 L578.02 284.1 L578.62 284.1 L579.22 284.1 L579.83 284.1 L580.43 284.1 L581.03 284.1 L581.64 284.1 L582.24 284.1 L582.85 284.1 L583.45 284.1 L584.05 284.1 L584.66 284.1 L585.26 284.1 L585.87 284.1 L586.47 284.1 L587.07 284.1 L587.68 284.1 L588.28 284.1 L588.88 284.1 L589.49 284.1 L590.09 284.1 L590.7 284.1 L591.3 284.1 L591.9 284.1 L592.51 284.1 L593.11 284.1 L593.72 284.1 L594.32 284.1 L594.92 284.1 L595.53 284.1 L596.13 284.1 L596.73 284.1 L597.34 284.1 L597.94 284.1 L598.55 284.1 L599.15 284.1 L599.75 284.1 L600.36 284.1 L600.96 284.1 L601.57 284.1 L602.17 284.1 L602.77 284.1 L603.38 284.1 L603.98 284.1 L604.58 284.1 L605.19 284.1 L605.79 284.1 L606.4 284.1 L607 284.1 L607 284.1Z" fill="#fdf7cf" fill-opacity="0.85" stroke="none"/>
<path d="M528.5 284.1 L528.5 284.1 L529.1 284.1 L529.71 284.1 L530.31 284.1 L530.92 284.1 L531.52 284.1 L532.12 284.1 L532.73 284.1 L533.33 284.1 L533.93 284.1 L534.54 284.1 L535.14 284.1 L535.75 284.1 L536.35 284.1 L536.95 284.1 L537.56 284.1 L538.16 284.1 L538.77 284.1 L539.37 284.1 L539.97 284.1 L540.58 284.1 L541.18 284.1 L541.78 284.1 L542.39 284.1 L542.99 284.1 L543.6 284.1 L544.2 284.1 L544.8 284.1 L545.41 284.1 L546.01 284.1 L546.62 284.1 L547.22 284.1 L547.82 284.1 L548.43 284.1 L549.03 284.1 L549.63 284.1 L550.24 284.1 L550.84 284.1 L551.45 284.1 L552.05 284.1 L552.65 284.1 L553.26 284.1 L553.86 284.1 L554.47 284.1 L555.07 284.1 L555.67 284.1 L556.28 284.1 L556.88 284.1 L557.48 284.1 L558.09 284.1 L558.69 284.1 L559.3 284.1 L559.9 284.1 L560.5 284.1 L561.11 284.1 L561.71 284.1 L562.32 284.1 L562.92 284.1 L563.52 284.1 L564.13 284.1 L564.73 284.1 L565.33 284.1 L565.94 284.09 L566.54 284.08 L567.15 284.07 L567.75 284.05 L568.35 284.02 L568.96 283.96 L569.56 283.88 L570.17 283.75 L570.77 283.57 L571.37 283.3 L571.98 282.93 L572.58 282.42 L573.18 281.74 L573.79 280.87 L574.39 279.78 L575 278.44 L575.6 276.84 L576.2 274.99 L576.81 272.9 L577.41 270.62 L578.02 268.18 L578.62 265.65 L579.22 263.13 L579.83 260.68 L580.43 258.41 L581.03 256.37 L581.64 254.65 L582.24 253.28 L582.85 252.3 L583.45 251.69 L584.05 251.43 L584.66 251.41 L585.26 251.63 L585.87 252.19 L586.47 253.12 L587.07 254.43 L587.68 256.1 L588.28 258.09 L588.88 260.34 L589.49 262.76 L590.09 265.28 L590.7 267.81 L591.3 270.27 L591.9 272.58 L592.51 274.7 L593.11 276.59 L593.72 278.22 L594.32 279.6 L594.92 280.72 L595.53 281.63 L596.13 282.33 L596.73 282.86 L597.34 283.25 L597.94 283.53 L598.55 283.73 L599.15 283.87 L599.75 283.95 L600.36 284.01 L600.96 284.05 L601.57 284.07 L602.17 284.08 L602.77 284.09 L603.38 284.1 L603.98 284.1 L604.58 284.1 L605.19 284.1 L605.79 284.1 L606.4 284.1 L607 284.1 L607 284.1Z" fill="#d9ead6" fill-opacity="0.85" stroke="none"/>
<path d="M528.5 283.75 L529.1 283.75 L529.71 283.75 L530.31 283.75 L530.92 283.75 L531.52 283.75 L532.12 283.75 L532.73 283.74 L533.33 283.74 L533.93 283.73 L534.54 283.72 L535.14 283.69 L535.75 283.65 L536.35 283.59 L536.95 283.5 L537.56 283.36 L538.16 283.15 L538.77 282.85 L539.37 282.44 L539.97 281.89 L540.58 281.16 L541.18 280.24 L541.78 279.08 L542.39 277.67 L542.99 276.01 L543.6 274.1 L544.2 271.97 L544.8 269.65 L545.41 267.21 L546.01 264.7 L546.62 262.22 L547.22 259.85 L547.82 257.66 L548.43 255.74 L549.03 254.15 L549.63 252.91 L550.24 252.06 L550.84 251.57 L551.45 251.4 L552.05 251.45 L552.65 251.77 L553.26 252.43 L553.86 253.47 L554.47 254.88 L555.07 256.65 L555.67 258.7 L556.28 260.99 L556.88 263.43 L557.48 265.93 L558.09 268.42 L558.69 270.81 L559.3 273.04 L559.9 275.07 L560.5 276.86 L561.11 278.39 L561.71 279.68 L562.32 280.72 L562.92 281.54 L563.52 282.18 L564.13 282.66 L564.73 283.01 L565.33 283.26 L565.94 283.43 L566.54 283.55 L567.15 283.63 L567.75 283.68 L568.35 283.71 L568.96 283.73 L569.56 283.74 L570.17 283.74 L570.77 283.75 L571.37 283.75 L571.98 283.75 L572.58 283.75 L573.18 283.75 L573.79 283.75 L574.39 283.75 L575 283.75 L575.6 283.75 L576.2 283.75 L576.81 283.75 L577.41 283.75 L578.02 283.75 L578.62 283.75 L579.22 283.75 L579.83 283.75 L580.43 283.75 L581.03 283.75 L581.64 283.75 L582.24 283.75 L582.85 283.75 L583.45 283.75 L584.05 283.75 L584.66 283.75 L585.26 283.75 L585.87 283.75 L586.47 283.75 L587.07 283.75 L587.68 283.75 L588.28 283.75 L588.88 283.75 L589.49 283.75 L590.09 283.75 L590.7 283.75 L591.3 283.75 L591.9 283.75 L592.51 283.75 L593.11 283.75 L593.72 283.75 L594.32 283.75 L594.92 283.75 L595.53 283.75 L596.13 283.75 L596.73 283.75 L597.34 283.75 L597.94 283.75 L598.55 283.75 L599.15 283.75 L599.75 283.75 L600.36 283.75 L600.96 283.75 L601.57 283.75 L602.17 283.75 L602.77 283.75 L603.38 283.75 L603.98 283.75 L604.58 283.75 L605.19 283.75 L605.79 283.75 L606.4 283.75 L607 283.75" fill="none" stroke="#b5b82a" stroke-width="2.2" stroke-linejoin="round"/>
<path d="M528.5 284.2 L529.1 284.2 L529.71 284.2 L530.31 284.2 L530.92 284.2 L531.52 284.2 L532.12 284.2 L532.73 284.2 L533.33 284.2 L533.93 284.2 L534.54 284.2 L535.14 284.2 L535.75 284.2 L536.35 284.2 L536.95 284.2 L537.56 284.2 L538.16 284.2 L538.77 284.2 L539.37 284.2 L539.97 284.2 L540.58 284.2 L541.18 284.2 L541.78 284.2 L542.39 284.2 L542.99 284.2 L543.6 284.2 L544.2 284.2 L544.8 284.2 L545.41 284.2 L546.01 284.2 L546.62 284.2 L547.22 284.2 L547.82 284.2 L548.43 284.2 L549.03 284.2 L549.63 284.2 L550.24 284.2 L550.84 284.2 L551.45 284.2 L552.05 284.2 L552.65 284.2 L553.26 284.2 L553.86 284.2 L554.47 284.2 L555.07 284.2 L555.67 284.2 L556.28 284.2 L556.88 284.2 L557.48 284.2 L558.09 284.2 L558.69 284.2 L559.3 284.2 L559.9 284.2 L560.5 284.2 L561.11 284.2 L561.71 284.2 L562.32 284.2 L562.92 284.2 L563.52 284.2 L564.13 284.2 L564.73 284.2 L565.33 284.2 L565.94 284.19 L566.54 284.18 L567.15 284.17 L567.75 284.15 L568.35 284.12 L568.96 284.06 L569.56 283.98 L570.17 283.85 L570.77 283.67 L571.37 283.4 L571.98 283.02 L572.58 282.51 L573.18 281.83 L573.79 280.96 L574.39 279.86 L575 278.52 L575.6 276.92 L576.2 275.06 L576.81 272.97 L577.41 270.67 L578.02 268.23 L578.62 265.7 L579.22 263.17 L579.83 260.71 L580.43 258.43 L581.03 256.39 L581.64 254.66 L582.24 253.29 L582.85 252.3 L583.45 251.69 L584.05 251.43 L584.66 251.41 L585.26 251.63 L585.87 252.19 L586.47 253.12 L587.07 254.44 L587.68 256.11 L588.28 258.11 L588.88 260.37 L589.49 262.8 L590.09 265.33 L590.7 267.86 L591.3 270.32 L591.9 272.64 L592.51 274.77 L593.11 276.66 L593.72 278.3 L594.32 279.68 L594.92 280.81 L595.53 281.72 L596.13 282.42 L596.73 282.96 L597.34 283.35 L597.94 283.63 L598.55 283.83 L599.15 283.96 L599.75 284.05 L600.36 284.11 L600.96 284.15 L601.57 284.17 L602.17 284.18 L602.77 284.19 L603.38 284.2 L603.98 284.2 L604.58 284.2 L605.19 284.2 L605.79 284.2 L606.4 284.2 L607 284.2" fill="none" stroke="#2c8a1e" stroke-width="2.2" stroke-linejoin="round"/>
<path d="M612 288.8 L612 288.8 L612 289.2 L612 289.6 L612 290 L612 290.4 L612 290.81 L612 291.21 L612 291.61 L612 292.01 L612 292.41 L612 292.81 L612 293.21 L612 293.61 L612 294.02 L612 294.42 L612 294.82 L612 295.22 L612 295.62 L612 296.02 L612 296.42 L612 296.82 L612 297.23 L612 297.63 L612 298.03 L612 298.43 L612 298.83 L612 299.23 L612 299.63 L612 300.03 L612 300.44 L612 300.84 L612 301.24 L612 301.64 L612 302.04 L612 302.44 L612 302.84 L612 303.24 L612 303.65 L612 304.05 L612 304.45 L612 304.85 L612 305.25 L612 305.65 L612 306.05 L612 306.45 L612 306.86 L612 307.26 L612 307.66 L612 308.06 L612 308.46 L612 308.86 L612.01 309.26 L612.02 309.66 L612.06 310.07 L612.14 310.47 L612.31 310.87 L612.64 311.27 L613.25 311.67 L614.3 312.07 L615.98 312.47 L618.5 312.87 L622 313.28 L626.51 313.68 L631.84 314.08 L637.57 314.48 L643.06 314.88 L647.56 315.28 L650.38 315.68 L651.05 316.08 L649.45 316.49 L645.85 316.89 L640.84 317.29 L635.16 317.69 L629.53 318.09 L624.51 318.49 L620.41 318.89 L617.33 319.29 L615.19 319.7 L613.79 320.1 L612.95 320.5 L612.48 320.9 L612.22 321.3 L612.1 321.7 L612.04 322.1 L612.02 322.5 L612.01 322.9 L612 323.31 L612 323.71 L612 324.11 L612 324.51 L612 324.91 L612 325.31 L612 325.71 L612 326.11 L612 326.52 L612 326.92 L612 327.32 L612 327.72 L612 328.12 L612 328.52 L612 328.92 L612 329.32 L612 329.73 L612 330.13 L612 330.53 L612 330.93 L612 331.33 L612 331.73 L612 332.13 L612 332.53 L612 332.94 L612 333.34 L612 333.74 L612 334.14 L612 334.54 L612 334.94 L612 335.34 L612 335.74 L612 336.15 L612 336.55 L612 336.95 L612 337.35 L612 337.75 L612 338.15 L612 338.55 L612 338.95 L612 339.36 L612 339.76 L612 340.16 L612 340.56 L612 340.96 L612 341.36 L612 341.76 L612 342.16 L612 342.57 L612 342.97 L612 343.37 L612 343.77 L612 344.17 L612 344.57 L612 344.97 L612 345.37 L612 345.78 L612 346.18 L612 346.58 L612 346.98 L612 347.38 L612 347.78 L612 348.18 L612 348.58 L612 348.99 L612 349.39 L612 349.79 L612 350.19 L612 350.59 L612 350.99 L612 351.39 L612 351.79 L612 352.2 L612 352.6 L612 353 L612 353.4 L612 353.8 L612 353.8Z" fill="#fdf7cf" fill-opacity="0.85" stroke="none"/>
<path d="M612 288.8 L612 288.8 L612 289.2 L612 289.6 L612 290 L612 290.4 L612 290.81 L612 291.21 L612 291.61 L612 292.01 L612 292.41 L612 292.81 L612 293.21 L612 293.61 L612 294.02 L612 294.42 L612 294.82 L612 295.22 L612 295.62 L612 296.02 L612 296.42 L612 296.82 L612 297.23 L612 297.63 L612 298.03 L612 298.43 L612 298.83 L612 299.23 L612 299.63 L612 300.03 L612 300.44 L612 300.84 L612 301.24 L612 301.64 L612 302.04 L612 302.44 L612 302.84 L612 303.24 L612 303.65 L612 304.05 L612 304.45 L612 304.85 L612 305.25 L612 305.65 L612 306.05 L612 306.45 L612 306.86 L612 307.26 L612 307.66 L612 308.06 L612 308.46 L612 308.86 L612 309.26 L612 309.66 L612 310.07 L612 310.47 L612 310.87 L612 311.27 L612 311.67 L612 312.07 L612 312.47 L612 312.87 L612 313.28 L612 313.68 L612 314.08 L612 314.48 L612 314.88 L612 315.28 L612 315.68 L612 316.08 L612 316.49 L612 316.89 L612 317.29 L612 317.69 L612 318.09 L612 318.49 L612 318.89 L612 319.29 L612 319.7 L612.01 320.1 L612.02 320.5 L612.05 320.9 L612.12 321.3 L612.27 321.7 L612.57 322.1 L613.12 322.5 L614.09 322.9 L615.65 323.31 L618.01 323.71 L621.35 324.11 L625.69 324.51 L630.91 324.91 L636.61 325.31 L642.19 325.71 L646.91 326.11 L650.06 326.52 L651.1 326.92 L649.86 327.32 L646.56 327.72 L641.74 328.12 L636.11 328.52 L630.43 328.92 L625.28 329.32 L621.02 329.73 L617.77 330.13 L615.48 330.53 L613.98 330.93 L613.06 331.33 L612.54 331.73 L612.26 332.13 L612.11 332.53 L612.05 332.94 L612.02 333.34 L612.01 333.74 L612 334.14 L612 334.54 L612 334.94 L612 335.34 L612 335.74 L612 336.15 L612 336.55 L612 336.95 L612 337.35 L612 337.75 L612 338.15 L612 338.55 L612 338.95 L612 339.36 L612 339.76 L612 340.16 L612 340.56 L612 340.96 L612 341.36 L612 341.76 L612 342.16 L612 342.57 L612 342.97 L612 343.37 L612 343.77 L612 344.17 L612 344.57 L612 344.97 L612 345.37 L612 345.78 L612 346.18 L612 346.58 L612 346.98 L612 347.38 L612 347.78 L612 348.18 L612 348.58 L612 348.99 L612 349.39 L612 349.79 L612 350.19 L612 350.59 L612 350.99 L612 351.39 L612 351.79 L612 352.2 L612 352.6 L612 353 L612 353.4 L612 353.8 L612 353.8Z" fill="#d9ead6" fill-opacity="0.85" stroke="none"/>
<path d="M612.3 288.8 L612.3 289.2 L612.3 289.6 L612.3 290 L612.3 290.4 L612.3 290.81 L612.3 291.21 L612.3 291.61 L612.3 292.01 L612.3 292.41 L612.3 292.81 L612.3 293.21 L612.3 293.61 L612.3 294.02 L612.3 294.42 L612.3 294.82 L612.3 295.22 L612.3 295.62 L612.3 296.02 L612.3 296.42 L612.3 296.82 L612.3 297.23 L612.3 297.63 L612.3 298.03 L612.3 298.43 L612.3 298.83 L612.3 299.23 L612.3 299.63 L612.3 300.03 L612.3 300.44 L612.3 300.84 L612.3 301.24 L612.3 301.64 L612.3 302.04 L612.3 302.44 L612.3 302.84 L612.3 303.24 L612.3 303.65 L612.3 304.05 L612.3 304.45 L612.3 304.85 L612.3 305.25 L612.3 305.65 L612.3 306.05 L612.3 306.45 L612.3 306.86 L612.3 307.26 L612.3 307.66 L612.3 308.06 L612.3 308.46 L612.3 308.86 L612.31 309.26 L612.32 309.66 L612.36 310.07 L612.44 310.47 L612.61 310.87 L612.94 311.27 L613.54 311.67 L614.58 312.07 L616.25 312.47 L618.75 312.87 L622.22 313.28 L626.7 313.68 L631.98 314.08 L637.67 314.48 L643.12 314.88 L647.59 315.28 L650.39 315.68 L651.05 316.08 L649.46 316.49 L645.89 316.89 L640.91 317.29 L635.28 317.69 L629.69 318.09 L624.71 318.49 L620.65 318.89 L617.59 319.29 L615.46 319.7 L614.08 320.1 L613.25 320.5 L612.77 320.9 L612.52 321.3 L612.4 321.7 L612.34 322.1 L612.32 322.5 L612.31 322.9 L612.3 323.31 L612.3 323.71 L612.3 324.11 L612.3 324.51 L612.3 324.91 L612.3 325.31 L612.3 325.71 L612.3 326.11 L612.3 326.52 L612.3 326.92 L612.3 327.32 L612.3 327.72 L612.3 328.12 L612.3 328.52 L612.3 328.92 L612.3 329.32 L612.3 329.73 L612.3 330.13 L612.3 330.53 L612.3 330.93 L612.3 331.33 L612.3 331.73 L612.3 332.13 L612.3 332.53 L612.3 332.94 L612.3 333.34 L612.3 333.74 L612.3 334.14 L612.3 334.54 L612.3 334.94 L612.3 335.34 L612.3 335.74 L612.3 336.15 L612.3 336.55 L612.3 336.95 L612.3 337.35 L612.3 337.75 L612.3 338.15 L612.3 338.55 L612.3 338.95 L612.3 339.36 L612.3 339.76 L612.3 340.16 L612.3 340.56 L612.3 340.96 L612.3 341.36 L612.3 341.76 L612.3 342.16 L612.3 342.57 L612.3 342.97 L612.3 343.37 L612.3 343.77 L612.3 344.17 L612.3 344.57 L612.3 344.97 L612.3 345.37 L612.3 345.78 L612.3 346.18 L612.3 346.58 L612.3 346.98 L612.3 347.38 L612.3 347.78 L612.3 348.18 L612.3 348.58 L612.3 348.99 L612.3 349.39 L612.3 349.79 L612.3 350.19 L612.3 350.59 L612.3 350.99 L612.3 351.39 L612.3 351.79 L612.3 352.2 L612.3 352.6 L612.3 353 L612.3 353.4 L612.3 353.8" fill="none" stroke="#b5b82a" stroke-width="1.85" stroke-linejoin="round"/>
<path d="M611.9 288.8 L611.9 289.2 L611.9 289.6 L611.9 290 L611.9 290.4 L611.9 290.81 L611.9 291.21 L611.9 291.61 L611.9 292.01 L611.9 292.41 L611.9 292.81 L611.9 293.21 L611.9 293.61 L611.9 294.02 L611.9 294.42 L611.9 294.82 L611.9 295.22 L611.9 295.62 L611.9 296.02 L611.9 296.42 L611.9 296.82 L611.9 297.23 L611.9 297.63 L611.9 298.03 L611.9 298.43 L611.9 298.83 L611.9 299.23 L611.9 299.63 L611.9 300.03 L611.9 300.44 L611.9 300.84 L611.9 301.24 L611.9 301.64 L611.9 302.04 L611.9 302.44 L611.9 302.84 L611.9 303.24 L611.9 303.65 L611.9 304.05 L611.9 304.45 L611.9 304.85 L611.9 305.25 L611.9 305.65 L611.9 306.05 L611.9 306.45 L611.9 306.86 L611.9 307.26 L611.9 307.66 L611.9 308.06 L611.9 308.46 L611.9 308.86 L611.9 309.26 L611.9 309.66 L611.9 310.07 L611.9 310.47 L611.9 310.87 L611.9 311.27 L611.9 311.67 L611.9 312.07 L611.9 312.47 L611.9 312.87 L611.9 313.28 L611.9 313.68 L611.9 314.08 L611.9 314.48 L611.9 314.88 L611.9 315.28 L611.9 315.68 L611.9 316.08 L611.9 316.49 L611.9 316.89 L611.9 317.29 L611.9 317.69 L611.9 318.09 L611.9 318.49 L611.9 318.89 L611.9 319.29 L611.9 319.7 L611.91 320.1 L611.92 320.5 L611.95 320.9 L612.02 321.3 L612.17 321.7 L612.47 322.1 L613.03 322.5 L613.99 322.9 L615.56 323.31 L617.93 323.71 L621.27 324.11 L625.63 324.51 L630.86 324.91 L636.57 325.31 L642.17 325.71 L646.9 326.11 L650.05 326.52 L651.1 326.92 L649.86 327.32 L646.55 327.72 L641.71 328.12 L636.08 328.52 L630.38 328.92 L625.22 329.32 L620.94 329.73 L617.69 330.13 L615.39 330.53 L613.89 330.93 L612.97 331.33 L612.44 331.73 L612.16 332.13 L612.02 332.53 L611.95 332.94 L611.92 333.34 L611.91 333.74 L611.9 334.14 L611.9 334.54 L611.9 334.94 L611.9 335.34 L611.9 335.74 L611.9 336.15 L611.9 336.55 L611.9 336.95 L611.9 337.35 L611.9 337.75 L611.9 338.15 L611.9 338.55 L611.9 338.95 L611.9 339.36 L611.9 339.76 L611.9 340.16 L611.9 340.56 L611.9 340.96 L611.9 341.36 L611.9 341.76 L611.9 342.16 L611.9 342.57 L611.9 342.97 L611.9 343.37 L611.9 343.77 L611.9 344.17 L611.9 344.57 L611.9 344.97 L611.9 345.37 L611.9 345.78 L611.9 346.18 L611.9 346.58 L611.9 346.98 L611.9 347.38 L611.9 347.78 L611.9 348.18 L611.9 348.58 L611.9 348.99 L611.9 349.39 L611.9 349.79 L611.9 350.19 L611.9 350.59 L611.9 350.99 L611.9 351.39 L611.9 351.79 L611.9 352.2 L611.9 352.6 L611.9 353 L611.9 353.4 L611.9 353.8" fill="none" stroke="#2c8a1e" stroke-width="1.85" stroke-linejoin="round"/>
<ellipse cx="554.8" cy="319" rx="32.71" ry="13.59" transform="rotate(-47 554.8 319)" fill="none" stroke="#9e9ea5" stroke-width="1.45" stroke-dasharray="5 3.1"/>
<ellipse cx="573.3" cy="306.2" rx="31.13" ry="12.64" transform="rotate(-22 573.3 306.2)" fill="none" stroke="#9e9ea5" stroke-width="1.45" stroke-dasharray="5 3.1"/>
<ellipse cx="554.8" cy="319" rx="8.32" ry="3.23" transform="rotate(-47 554.8 319)" fill="none" stroke="#e8e9b2" stroke-width="1.75"/>
<ellipse cx="554.8" cy="319" rx="13.27" ry="5.16" transform="rotate(-47 554.8 319)" fill="none" stroke="#d8da80" stroke-width="1.75"/>
<ellipse cx="554.8" cy="319" rx="19.8" ry="7.7" transform="rotate(-47 554.8 319)" fill="none" stroke="#c0c343" stroke-width="2.05"/>
<ellipse cx="573.3" cy="306.2" rx="7.9" ry="2.98" transform="rotate(-22 573.3 306.2)" fill="none" stroke="#a3cf9d" stroke-width="1.75"/>
<ellipse cx="573.3" cy="306.2" rx="12.6" ry="4.76" transform="rotate(-22 573.3 306.2)" fill="none" stroke="#72b46a" stroke-width="1.75"/>
<ellipse cx="573.3" cy="306.2" rx="18.8" ry="7.1" transform="rotate(-22 573.3 306.2)" fill="none" stroke="#38912e" stroke-width="2.05"/>
<path d="M525.5 249.8H610V285.8H652.6V356.3H525.5V249.8H525.5Z" fill="none" stroke="#000" stroke-width="1.35"/>
<path d="M525.5 285.8H610M610 285.8V356.3" fill="none" stroke="#000" stroke-width="1.35"/>
<text x="535.4" y="376.4" font-size="10.4" text-anchor="middle" fill="#111111" stroke="#111111" stroke-width="0.14" textLength="12.59" lengthAdjust="spacingAndGlyphs">22</text>
<text x="563.6" y="376.4" font-size="10.4" text-anchor="middle" fill="#111111" stroke="#111111" stroke-width="0.14" textLength="12.59" lengthAdjust="spacingAndGlyphs">24</text>
<text x="592" y="376.4" font-size="10.4" text-anchor="middle" fill="#111111" stroke="#111111" stroke-width="0.14" textLength="12.59" lengthAdjust="spacingAndGlyphs">26</text>
<text x="513.9" y="309.2" font-size="10.4" text-anchor="end" fill="#111111" stroke="#111111" stroke-width="0.14" textLength="12.59" lengthAdjust="spacingAndGlyphs">19</text>
<text x="513.9" y="334.8" font-size="10.4" text-anchor="end" fill="#111111" stroke="#111111" stroke-width="0.14" textLength="12.59" lengthAdjust="spacingAndGlyphs">18</text>
<text x="513.9" y="360.2" font-size="10.4" text-anchor="end" fill="#111111" stroke="#111111" stroke-width="0.14" textLength="12.59" lengthAdjust="spacingAndGlyphs">17</text>
<text x="540.8" y="236.8" font-size="10.4" text-anchor="middle" fill="#111111" stroke="#111111" stroke-width="0.14" textLength="14.59" lengthAdjust="spacingAndGlyphs">−1</text>
<text x="568" y="236.8" font-size="10.4" text-anchor="middle" fill="#111111" stroke="#111111" stroke-width="0.14" textLength="6.3" lengthAdjust="spacingAndGlyphs">0</text>
<text x="594" y="236.8" font-size="10.4" text-anchor="middle" fill="#111111" stroke="#111111" stroke-width="0.14" textLength="6.3" lengthAdjust="spacingAndGlyphs">1</text>
<text x="664.4" y="303.7" font-size="10.4" text-anchor="start" fill="#111111" stroke="#111111" stroke-width="0.14" textLength="6.3" lengthAdjust="spacingAndGlyphs">1</text>
<text x="664.4" y="325.1" font-size="10.4" text-anchor="start" fill="#111111" stroke="#111111" stroke-width="0.14" textLength="6.3" lengthAdjust="spacingAndGlyphs">0</text>
<text x="664.4" y="346.5" font-size="10.4" text-anchor="start" fill="#111111" stroke="#111111" stroke-width="0.14" textLength="14.59" lengthAdjust="spacingAndGlyphs">−1</text>
<path d="M535.5 356.3v5.5M563.5 356.3v5.5M592.5 356.3v5.5M525.5 305.5h-5.5M525.5 331.5h-5.5M525.5 356.5h-5.5M542.5 249.8v-5.6M568.5 249.8v-5.6M594.5 249.8v-5.6M652.6 299.5h5.3M652.6 321.5h5.3M652.6 342.5h5.3" fill="none" stroke="#000" stroke-width="1.25"/>
<text x="486.9" y="321.65" font-size="11.2" text-anchor="middle" fill="#111111" stroke="#111111" stroke-width="0.1" textLength="42.8" lengthAdjust="spacingAndGlyphs" transform="rotate(-90 486.9 321.65)">SST (°C)</text>
</g>
<g>
<path d="M100.6 463.3 L100.6 463.3 L101.2 463.3 L101.8 463.3 L102.4 463.3 L103.01 463.3 L103.61 463.3 L104.21 463.3 L104.81 463.29 L105.41 463.29 L106.01 463.28 L106.62 463.26 L107.22 463.23 L107.82 463.18 L108.42 463.11 L109.02 462.99 L109.62 462.83 L110.22 462.58 L110.83 462.24 L111.43 461.78 L112.03 461.16 L112.63 460.36 L113.23 459.34 L113.83 458.09 L114.44 456.59 L115.04 454.83 L115.64 452.84 L116.24 450.64 L116.84 448.28 L117.44 445.81 L118.04 443.32 L118.65 440.88 L119.25 438.58 L119.85 436.5 L120.45 434.7 L121.05 433.25 L121.65 432.16 L122.25 431.44 L122.86 431.08 L123.46 431 L124.06 431.13 L124.66 431.55 L125.26 432.34 L125.86 433.5 L126.47 435.03 L127.07 436.88 L127.67 439.01 L128.27 441.34 L128.87 443.8 L129.47 446.29 L130.07 448.74 L130.68 451.08 L131.28 453.24 L131.88 455.19 L132.48 456.89 L133.08 458.35 L133.68 459.55 L134.29 460.53 L134.89 461.29 L135.49 461.88 L136.09 462.32 L136.69 462.64 L137.29 462.86 L137.89 463.02 L138.5 463.12 L139.1 463.19 L139.7 463.24 L140.3 463.26 L140.9 463.28 L141.5 463.29 L142.11 463.29 L142.71 463.3 L143.31 463.3 L143.91 463.3 L144.51 463.3 L145.11 463.3 L145.71 463.3 L146.32 463.3 L146.92 463.3 L147.52 463.3 L148.12 463.3 L148.72 463.3 L149.32 463.3 L149.93 463.3 L150.53 463.3 L151.13 463.3 L151.73 463.3 L152.33 463.3 L152.93 463.3 L153.53 463.3 L154.14 463.3 L154.74 463.3 L155.34 463.3 L155.94 463.3 L156.54 463.3 L157.14 463.3 L157.75 463.3 L158.35 463.3 L158.95 463.3 L159.55 463.3 L160.15 463.3 L160.75 463.3 L161.35 463.3 L161.96 463.3 L162.56 463.3 L163.16 463.3 L163.76 463.3 L164.36 463.3 L164.96 463.3 L165.56 463.3 L166.17 463.3 L166.77 463.3 L167.37 463.3 L167.97 463.3 L168.57 463.3 L169.17 463.3 L169.78 463.3 L170.38 463.3 L170.98 463.3 L171.58 463.3 L172.18 463.3 L172.78 463.3 L173.38 463.3 L173.99 463.3 L174.59 463.3 L175.19 463.3 L175.79 463.3 L176.39 463.3 L176.99 463.3 L177.6 463.3 L178.2 463.3 L178.8 463.3 L179.4 463.3 L179.4 463.3Z" fill="#fdf7cf" fill-opacity="0.85" stroke="none"/>
<path d="M100.6 463.3 L100.6 463.3 L101.2 463.3 L101.8 463.3 L102.4 463.3 L103.01 463.3 L103.61 463.3 L104.21 463.3 L104.81 463.3 L105.41 463.3 L106.01 463.3 L106.62 463.3 L107.22 463.3 L107.82 463.3 L108.42 463.3 L109.02 463.3 L109.62 463.3 L110.22 463.3 L110.83 463.3 L111.43 463.3 L112.03 463.3 L112.63 463.3 L113.23 463.3 L113.83 463.3 L114.44 463.3 L115.04 463.3 L115.64 463.3 L116.24 463.3 L116.84 463.3 L117.44 463.3 L118.04 463.3 L118.65 463.3 L119.25 463.3 L119.85 463.3 L120.45 463.3 L121.05 463.3 L121.65 463.3 L122.25 463.3 L122.86 463.3 L123.46 463.3 L124.06 463.3 L124.66 463.3 L125.26 463.3 L125.86 463.3 L126.47 463.3 L127.07 463.3 L127.67 463.3 L128.27 463.3 L128.87 463.3 L129.47 463.3 L130.07 463.3 L130.68 463.3 L131.28 463.3 L131.88 463.3 L132.48 463.3 L133.08 463.3 L133.68 463.3 L134.29 463.3 L134.89 463.3 L135.49 463.3 L136.09 463.3 L136.69 463.3 L137.29 463.3 L137.89 463.29 L138.5 463.29 L139.1 463.28 L139.7 463.26 L140.3 463.24 L140.9 463.19 L141.5 463.12 L142.11 463.02 L142.71 462.86 L143.31 462.64 L143.91 462.32 L144.51 461.88 L145.11 461.29 L145.71 460.53 L146.32 459.55 L146.92 458.35 L147.52 456.89 L148.12 455.19 L148.72 453.24 L149.32 451.08 L149.93 448.74 L150.53 446.29 L151.13 443.8 L151.73 441.34 L152.33 439.01 L152.93 436.88 L153.53 435.03 L154.14 433.5 L154.74 432.34 L155.34 431.55 L155.94 431.13 L156.54 431 L157.14 431.08 L157.75 431.44 L158.35 432.16 L158.95 433.25 L159.55 434.7 L160.15 436.5 L160.75 438.58 L161.35 440.88 L161.96 443.32 L162.56 445.81 L163.16 448.28 L163.76 450.64 L164.36 452.84 L164.96 454.83 L165.56 456.59 L166.17 458.09 L166.77 459.34 L167.37 460.36 L167.97 461.16 L168.57 461.78 L169.17 462.24 L169.78 462.58 L170.38 462.83 L170.98 462.99 L171.58 463.11 L172.18 463.18 L172.78 463.23 L173.38 463.26 L173.99 463.28 L174.59 463.29 L175.19 463.29 L175.79 463.3 L176.39 463.3 L176.99 463.3 L177.6 463.3 L178.2 463.3 L178.8 463.3 L179.4 463.3 L179.4 463.3Z" fill="#d9ead6" fill-opacity="0.85" stroke="none"/>
<path d="M100.6 462.95 L101.2 462.95 L101.8 462.95 L102.4 462.95 L103.01 462.95 L103.61 462.95 L104.21 462.95 L104.81 462.94 L105.41 462.94 L106.01 462.93 L106.62 462.91 L107.22 462.88 L107.82 462.83 L108.42 462.76 L109.02 462.65 L109.62 462.48 L110.22 462.24 L110.83 461.91 L111.43 461.45 L112.03 460.83 L112.63 460.04 L113.23 459.03 L113.83 457.79 L114.44 456.31 L115.04 454.57 L115.64 452.6 L116.24 450.43 L116.84 448.09 L117.44 445.65 L118.04 443.19 L118.65 440.77 L119.25 438.5 L119.85 436.44 L120.45 434.66 L121.05 433.22 L121.65 432.15 L122.25 431.44 L122.86 431.08 L123.46 431 L124.06 431.12 L124.66 431.55 L125.26 432.32 L125.86 433.47 L126.47 434.98 L127.07 436.82 L127.67 438.92 L128.27 441.23 L128.87 443.66 L129.47 446.13 L130.07 448.55 L130.68 450.86 L131.28 453 L131.88 454.93 L132.48 456.61 L133.08 458.05 L133.68 459.24 L134.29 460.21 L134.89 460.96 L135.49 461.54 L136.09 461.98 L136.69 462.29 L137.29 462.52 L137.89 462.67 L138.5 462.78 L139.1 462.84 L139.7 462.89 L140.3 462.91 L140.9 462.93 L141.5 462.94 L142.11 462.94 L142.71 462.95 L143.31 462.95 L143.91 462.95 L144.51 462.95 L145.11 462.95 L145.71 462.95 L146.32 462.95 L146.92 462.95 L147.52 462.95 L148.12 462.95 L148.72 462.95 L149.32 462.95 L149.93 462.95 L150.53 462.95 L151.13 462.95 L151.73 462.95 L152.33 462.95 L152.93 462.95 L153.53 462.95 L154.14 462.95 L154.74 462.95 L155.34 462.95 L155.94 462.95 L156.54 462.95 L157.14 462.95 L157.75 462.95 L158.35 462.95 L158.95 462.95 L159.55 462.95 L160.15 462.95 L160.75 462.95 L161.35 462.95 L161.96 462.95 L162.56 462.95 L163.16 462.95 L163.76 462.95 L164.36 462.95 L164.96 462.95 L165.56 462.95 L166.17 462.95 L166.77 462.95 L167.37 462.95 L167.97 462.95 L168.57 462.95 L169.17 462.95 L169.78 462.95 L170.38 462.95 L170.98 462.95 L171.58 462.95 L172.18 462.95 L172.78 462.95 L173.38 462.95 L173.99 462.95 L174.59 462.95 L175.19 462.95 L175.79 462.95 L176.39 462.95 L176.99 462.95 L177.6 462.95 L178.2 462.95 L178.8 462.95 L179.4 462.95" fill="none" stroke="#b5b82a" stroke-width="2.2" stroke-linejoin="round"/>
<path d="M100.6 463.4 L101.2 463.4 L101.8 463.4 L102.4 463.4 L103.01 463.4 L103.61 463.4 L104.21 463.4 L104.81 463.4 L105.41 463.4 L106.01 463.4 L106.62 463.4 L107.22 463.4 L107.82 463.4 L108.42 463.4 L109.02 463.4 L109.62 463.4 L110.22 463.4 L110.83 463.4 L111.43 463.4 L112.03 463.4 L112.63 463.4 L113.23 463.4 L113.83 463.4 L114.44 463.4 L115.04 463.4 L115.64 463.4 L116.24 463.4 L116.84 463.4 L117.44 463.4 L118.04 463.4 L118.65 463.4 L119.25 463.4 L119.85 463.4 L120.45 463.4 L121.05 463.4 L121.65 463.4 L122.25 463.4 L122.86 463.4 L123.46 463.4 L124.06 463.4 L124.66 463.4 L125.26 463.4 L125.86 463.4 L126.47 463.4 L127.07 463.4 L127.67 463.4 L128.27 463.4 L128.87 463.4 L129.47 463.4 L130.07 463.4 L130.68 463.4 L131.28 463.4 L131.88 463.4 L132.48 463.4 L133.08 463.4 L133.68 463.4 L134.29 463.4 L134.89 463.4 L135.49 463.4 L136.09 463.4 L136.69 463.4 L137.29 463.4 L137.89 463.39 L138.5 463.39 L139.1 463.38 L139.7 463.36 L140.3 463.34 L140.9 463.29 L141.5 463.22 L142.11 463.12 L142.71 462.96 L143.31 462.73 L143.91 462.41 L144.51 461.98 L145.11 461.39 L145.71 460.62 L146.32 459.64 L146.92 458.43 L147.52 456.97 L148.12 455.26 L148.72 453.31 L149.32 451.14 L149.93 448.8 L150.53 446.34 L151.13 443.84 L151.73 441.38 L152.33 439.04 L152.93 436.9 L153.53 435.04 L154.14 433.51 L154.74 432.34 L155.34 431.55 L155.94 431.13 L156.54 431 L157.14 431.08 L157.75 431.44 L158.35 432.16 L158.95 433.25 L159.55 434.72 L160.15 436.52 L160.75 438.61 L161.35 440.91 L161.96 443.36 L162.56 445.86 L163.16 448.33 L163.76 450.7 L164.36 452.91 L164.96 454.91 L165.56 456.66 L166.17 458.17 L166.77 459.43 L167.37 460.45 L167.97 461.25 L168.57 461.87 L169.17 462.34 L169.78 462.68 L170.38 462.92 L170.98 463.09 L171.58 463.21 L172.18 463.28 L172.78 463.33 L173.38 463.36 L173.99 463.38 L174.59 463.39 L175.19 463.39 L175.79 463.4 L176.39 463.4 L176.99 463.4 L177.6 463.4 L178.2 463.4 L178.8 463.4 L179.4 463.4" fill="none" stroke="#2c8a1e" stroke-width="2.2" stroke-linejoin="round"/>
<path d="M184.4 468 L184.4 468 L184.4 468.4 L184.4 468.8 L184.4 469.21 L184.4 469.61 L184.4 470.01 L184.4 470.41 L184.4 470.81 L184.4 471.21 L184.4 471.62 L184.4 472.02 L184.4 472.42 L184.4 472.82 L184.4 473.22 L184.4 473.63 L184.4 474.03 L184.4 474.43 L184.4 474.83 L184.4 475.23 L184.4 475.64 L184.4 476.04 L184.4 476.44 L184.4 476.84 L184.4 477.24 L184.4 477.64 L184.4 478.05 L184.4 478.45 L184.4 478.85 L184.4 479.25 L184.4 479.65 L184.4 480.06 L184.4 480.46 L184.4 480.86 L184.4 481.26 L184.4 481.66 L184.4 482.06 L184.4 482.47 L184.4 482.87 L184.4 483.27 L184.4 483.67 L184.4 484.07 L184.4 484.48 L184.4 484.88 L184.4 485.28 L184.4 485.68 L184.4 486.08 L184.4 486.49 L184.4 486.89 L184.4 487.29 L184.4 487.69 L184.4 488.09 L184.4 488.49 L184.4 488.9 L184.4 489.3 L184.4 489.7 L184.4 490.1 L184.4 490.5 L184.4 490.91 L184.4 491.31 L184.4 491.71 L184.4 492.11 L184.4 492.51 L184.4 492.91 L184.4 493.32 L184.4 493.72 L184.4 494.12 L184.4 494.52 L184.4 494.92 L184.4 495.33 L184.4 495.73 L184.4 496.13 L184.4 496.53 L184.4 496.93 L184.41 497.34 L184.42 497.74 L184.47 498.14 L184.62 498.54 L185.01 498.94 L185.91 499.34 L187.74 499.75 L191.02 500.15 L196.13 500.55 L202.99 500.95 L210.73 501.35 L217.73 501.76 L222.12 502.16 L222.56 502.56 L218.91 502.96 L212.3 503.36 L204.56 503.76 L197.43 504.17 L191.92 504.57 L188.28 504.97 L186.19 505.37 L185.14 505.77 L184.67 506.18 L184.49 506.58 L184.43 506.98 L184.41 507.38 L184.4 507.78 L184.4 508.19 L184.4 508.59 L184.4 508.99 L184.4 509.39 L184.4 509.79 L184.4 510.19 L184.4 510.6 L184.4 511 L184.4 511.4 L184.4 511.8 L184.4 512.2 L184.4 512.61 L184.4 513.01 L184.4 513.41 L184.4 513.81 L184.4 514.21 L184.4 514.61 L184.4 515.02 L184.4 515.42 L184.4 515.82 L184.4 516.22 L184.4 516.62 L184.4 517.03 L184.4 517.43 L184.4 517.83 L184.4 518.23 L184.4 518.63 L184.4 519.04 L184.4 519.44 L184.4 519.84 L184.4 520.24 L184.4 520.64 L184.4 521.04 L184.4 521.45 L184.4 521.85 L184.4 522.25 L184.4 522.65 L184.4 523.05 L184.4 523.46 L184.4 523.86 L184.4 524.26 L184.4 524.66 L184.4 525.06 L184.4 525.46 L184.4 525.87 L184.4 526.27 L184.4 526.67 L184.4 527.07 L184.4 527.47 L184.4 527.88 L184.4 528.28 L184.4 528.68 L184.4 529.08 L184.4 529.48 L184.4 529.89 L184.4 530.29 L184.4 530.69 L184.4 531.09 L184.4 531.49 L184.4 531.89 L184.4 532.3 L184.4 532.7 L184.4 533.1 L184.4 533.1Z" fill="#fdf7cf" fill-opacity="0.85" stroke="none"/>
<path d="M184.4 468 L184.4 468 L184.4 468.4 L184.4 468.8 L184.4 469.21 L184.4 469.61 L184.4 470.01 L184.4 470.41 L184.4 470.81 L184.4 471.21 L184.4 471.62 L184.4 472.02 L184.4 472.42 L184.4 472.82 L184.4 473.22 L184.4 473.63 L184.4 474.03 L184.4 474.43 L184.4 474.83 L184.4 475.23 L184.4 475.64 L184.4 476.04 L184.4 476.44 L184.4 476.84 L184.4 477.24 L184.4 477.64 L184.4 478.05 L184.4 478.45 L184.4 478.85 L184.4 479.25 L184.4 479.65 L184.4 480.06 L184.4 480.46 L184.4 480.86 L184.4 481.26 L184.4 481.66 L184.4 482.06 L184.4 482.47 L184.4 482.87 L184.4 483.27 L184.4 483.67 L184.4 484.07 L184.4 484.48 L184.4 484.88 L184.4 485.28 L184.4 485.68 L184.4 486.08 L184.4 486.49 L184.4 486.89 L184.4 487.29 L184.4 487.69 L184.4 488.09 L184.4 488.49 L184.4 488.9 L184.4 489.3 L184.4 489.7 L184.4 490.1 L184.4 490.5 L184.4 490.91 L184.4 491.31 L184.4 491.71 L184.4 492.11 L184.4 492.51 L184.4 492.91 L184.42 493.32 L184.47 493.72 L184.61 494.12 L184.98 494.52 L185.84 494.92 L187.61 495.33 L190.81 495.73 L195.83 496.13 L202.61 496.53 L210.34 496.93 L217.42 497.34 L221.99 497.74 L222.64 498.14 L219.18 498.54 L212.68 498.94 L204.95 499.34 L197.75 499.75 L192.16 500.15 L188.43 500.55 L186.27 500.95 L185.18 501.35 L184.69 501.76 L184.5 502.16 L184.43 502.56 L184.41 502.96 L184.4 503.36 L184.4 503.76 L184.4 504.17 L184.4 504.57 L184.4 504.97 L184.4 505.37 L184.4 505.77 L184.4 506.18 L184.4 506.58 L184.4 506.98 L184.4 507.38 L184.4 507.78 L184.4 508.19 L184.4 508.59 L184.4 508.99 L184.4 509.39 L184.4 509.79 L184.4 510.19 L184.4 510.6 L184.4 511 L184.4 511.4 L184.4 511.8 L184.4 512.2 L184.4 512.61 L184.4 513.01 L184.4 513.41 L184.4 513.81 L184.4 514.21 L184.4 514.61 L184.4 515.02 L184.4 515.42 L184.4 515.82 L184.4 516.22 L184.4 516.62 L184.4 517.03 L184.4 517.43 L184.4 517.83 L184.4 518.23 L184.4 518.63 L184.4 519.04 L184.4 519.44 L184.4 519.84 L184.4 520.24 L184.4 520.64 L184.4 521.04 L184.4 521.45 L184.4 521.85 L184.4 522.25 L184.4 522.65 L184.4 523.05 L184.4 523.46 L184.4 523.86 L184.4 524.26 L184.4 524.66 L184.4 525.06 L184.4 525.46 L184.4 525.87 L184.4 526.27 L184.4 526.67 L184.4 527.07 L184.4 527.47 L184.4 527.88 L184.4 528.28 L184.4 528.68 L184.4 529.08 L184.4 529.48 L184.4 529.89 L184.4 530.29 L184.4 530.69 L184.4 531.09 L184.4 531.49 L184.4 531.89 L184.4 532.3 L184.4 532.7 L184.4 533.1 L184.4 533.1Z" fill="#d9ead6" fill-opacity="0.85" stroke="none"/>
<path d="M184.7 468 L184.7 468.4 L184.7 468.8 L184.7 469.21 L184.7 469.61 L184.7 470.01 L184.7 470.41 L184.7 470.81 L184.7 471.21 L184.7 471.62 L184.7 472.02 L184.7 472.42 L184.7 472.82 L184.7 473.22 L184.7 473.63 L184.7 474.03 L184.7 474.43 L184.7 474.83 L184.7 475.23 L184.7 475.64 L184.7 476.04 L184.7 476.44 L184.7 476.84 L184.7 477.24 L184.7 477.64 L184.7 478.05 L184.7 478.45 L184.7 478.85 L184.7 479.25 L184.7 479.65 L184.7 480.06 L184.7 480.46 L184.7 480.86 L184.7 481.26 L184.7 481.66 L184.7 482.06 L184.7 482.47 L184.7 482.87 L184.7 483.27 L184.7 483.67 L184.7 484.07 L184.7 484.48 L184.7 484.88 L184.7 485.28 L184.7 485.68 L184.7 486.08 L184.7 486.49 L184.7 486.89 L184.7 487.29 L184.7 487.69 L184.7 488.09 L184.7 488.49 L184.7 488.9 L184.7 489.3 L184.7 489.7 L184.7 490.1 L184.7 490.5 L184.7 490.91 L184.7 491.31 L184.7 491.71 L184.7 492.11 L184.7 492.51 L184.7 492.91 L184.7 493.32 L184.7 493.72 L184.7 494.12 L184.7 494.52 L184.7 494.92 L184.7 495.33 L184.7 495.73 L184.7 496.13 L184.7 496.53 L184.7 496.93 L184.71 497.34 L184.72 497.74 L184.77 498.14 L184.92 498.54 L185.3 498.94 L186.19 499.34 L188.01 499.75 L191.27 500.15 L196.34 500.55 L203.14 500.95 L210.82 501.35 L217.77 501.76 L222.13 502.16 L222.57 502.56 L218.94 502.96 L212.38 503.36 L204.71 503.76 L197.62 504.17 L192.16 504.57 L188.55 504.97 L186.48 505.37 L185.43 505.77 L184.97 506.18 L184.79 506.58 L184.73 506.98 L184.71 507.38 L184.7 507.78 L184.7 508.19 L184.7 508.59 L184.7 508.99 L184.7 509.39 L184.7 509.79 L184.7 510.19 L184.7 510.6 L184.7 511 L184.7 511.4 L184.7 511.8 L184.7 512.2 L184.7 512.61 L184.7 513.01 L184.7 513.41 L184.7 513.81 L184.7 514.21 L184.7 514.61 L184.7 515.02 L184.7 515.42 L184.7 515.82 L184.7 516.22 L184.7 516.62 L184.7 517.03 L184.7 517.43 L184.7 517.83 L184.7 518.23 L184.7 518.63 L184.7 519.04 L184.7 519.44 L184.7 519.84 L184.7 520.24 L184.7 520.64 L184.7 521.04 L184.7 521.45 L184.7 521.85 L184.7 522.25 L184.7 522.65 L184.7 523.05 L184.7 523.46 L184.7 523.86 L184.7 524.26 L184.7 524.66 L184.7 525.06 L184.7 525.46 L184.7 525.87 L184.7 526.27 L184.7 526.67 L184.7 527.07 L184.7 527.47 L184.7 527.88 L184.7 528.28 L184.7 528.68 L184.7 529.08 L184.7 529.48 L184.7 529.89 L184.7 530.29 L184.7 530.69 L184.7 531.09 L184.7 531.49 L184.7 531.89 L184.7 532.3 L184.7 532.7 L184.7 533.1" fill="none" stroke="#b5b82a" stroke-width="1.85" stroke-linejoin="round"/>
<path d="M184.3 468 L184.3 468.4 L184.3 468.8 L184.3 469.21 L184.3 469.61 L184.3 470.01 L184.3 470.41 L184.3 470.81 L184.3 471.21 L184.3 471.62 L184.3 472.02 L184.3 472.42 L184.3 472.82 L184.3 473.22 L184.3 473.63 L184.3 474.03 L184.3 474.43 L184.3 474.83 L184.3 475.23 L184.3 475.64 L184.3 476.04 L184.3 476.44 L184.3 476.84 L184.3 477.24 L184.3 477.64 L184.3 478.05 L184.3 478.45 L184.3 478.85 L184.3 479.25 L184.3 479.65 L184.3 480.06 L184.3 480.46 L184.3 480.86 L184.3 481.26 L184.3 481.66 L184.3 482.06 L184.3 482.47 L184.3 482.87 L184.3 483.27 L184.3 483.67 L184.3 484.07 L184.3 484.48 L184.3 484.88 L184.3 485.28 L184.3 485.68 L184.3 486.08 L184.3 486.49 L184.3 486.89 L184.3 487.29 L184.3 487.69 L184.3 488.09 L184.3 488.49 L184.3 488.9 L184.3 489.3 L184.3 489.7 L184.3 490.1 L184.3 490.5 L184.3 490.91 L184.3 491.31 L184.3 491.71 L184.3 492.11 L184.3 492.51 L184.3 492.91 L184.32 493.32 L184.37 493.72 L184.51 494.12 L184.88 494.52 L185.74 494.92 L187.52 495.33 L190.73 495.73 L195.76 496.13 L202.56 496.53 L210.3 496.93 L217.41 497.34 L221.98 497.74 L222.64 498.14 L219.17 498.54 L212.65 498.94 L204.91 499.34 L197.69 499.75 L192.08 500.15 L188.34 500.55 L186.17 500.95 L185.08 501.35 L184.59 501.76 L184.4 502.16 L184.33 502.56 L184.31 502.96 L184.3 503.36 L184.3 503.76 L184.3 504.17 L184.3 504.57 L184.3 504.97 L184.3 505.37 L184.3 505.77 L184.3 506.18 L184.3 506.58 L184.3 506.98 L184.3 507.38 L184.3 507.78 L184.3 508.19 L184.3 508.59 L184.3 508.99 L184.3 509.39 L184.3 509.79 L184.3 510.19 L184.3 510.6 L184.3 511 L184.3 511.4 L184.3 511.8 L184.3 512.2 L184.3 512.61 L184.3 513.01 L184.3 513.41 L184.3 513.81 L184.3 514.21 L184.3 514.61 L184.3 515.02 L184.3 515.42 L184.3 515.82 L184.3 516.22 L184.3 516.62 L184.3 517.03 L184.3 517.43 L184.3 517.83 L184.3 518.23 L184.3 518.63 L184.3 519.04 L184.3 519.44 L184.3 519.84 L184.3 520.24 L184.3 520.64 L184.3 521.04 L184.3 521.45 L184.3 521.85 L184.3 522.25 L184.3 522.65 L184.3 523.05 L184.3 523.46 L184.3 523.86 L184.3 524.26 L184.3 524.66 L184.3 525.06 L184.3 525.46 L184.3 525.87 L184.3 526.27 L184.3 526.67 L184.3 527.07 L184.3 527.47 L184.3 527.88 L184.3 528.28 L184.3 528.68 L184.3 529.08 L184.3 529.48 L184.3 529.89 L184.3 530.29 L184.3 530.69 L184.3 531.09 L184.3 531.49 L184.3 531.89 L184.3 532.3 L184.3 532.7 L184.3 533.1" fill="none" stroke="#2c8a1e" stroke-width="1.85" stroke-linejoin="round"/>
<ellipse cx="126.2" cy="500.5" rx="34.8" ry="15.22" transform="rotate(52 126.2 500.5)" fill="none" stroke="#9e9ea5" stroke-width="1.45" stroke-dasharray="5 3.1"/>
<ellipse cx="145" cy="506.8" rx="32.62" ry="15.8" transform="rotate(27 145 506.8)" fill="none" stroke="#9e9ea5" stroke-width="1.45" stroke-dasharray="5 3.1"/>
<ellipse cx="126.2" cy="500.5" rx="8.78" ry="3.65" transform="rotate(52 126.2 500.5)" fill="none" stroke="#ecedbd" stroke-width="1.75"/>
<ellipse cx="126.2" cy="500.5" rx="13.17" ry="5.47" transform="rotate(52 126.2 500.5)" fill="none" stroke="#dcde92" stroke-width="1.75"/>
<ellipse cx="126.2" cy="500.5" rx="17.79" ry="7.39" transform="rotate(52 126.2 500.5)" fill="none" stroke="#c9cc62" stroke-width="1.75"/>
<ellipse cx="126.2" cy="500.5" rx="23.1" ry="9.6" transform="rotate(52 126.2 500.5)" fill="none" stroke="#b7ba2e" stroke-width="2.05"/>
<ellipse cx="145" cy="506.8" rx="8.21" ry="3.8" transform="rotate(27 145 506.8)" fill="none" stroke="#bcdcb8" stroke-width="1.75"/>
<ellipse cx="145" cy="506.8" rx="12.31" ry="5.7" transform="rotate(27 145 506.8)" fill="none" stroke="#8fc489" stroke-width="1.75"/>
<ellipse cx="145" cy="506.8" rx="16.63" ry="7.7" transform="rotate(27 145 506.8)" fill="none" stroke="#5fa757" stroke-width="1.75"/>
<ellipse cx="145" cy="506.8" rx="21.6" ry="10" transform="rotate(27 145 506.8)" fill="none" stroke="#338f29" stroke-width="2.05"/>
<path d="M97.6 429.4H182.4V465H224.4V535.6H97.6V429.4H97.6Z" fill="none" stroke="#000" stroke-width="1.35"/>
<path d="M97.6 465H182.4M182.4 465V535.6" fill="none" stroke="#000" stroke-width="1.35"/>
<text x="112" y="555.7" font-size="10.4" text-anchor="middle" fill="#111111" stroke="#111111" stroke-width="0.14" textLength="12.59" lengthAdjust="spacingAndGlyphs">22</text>
<text x="140" y="555.7" font-size="10.4" text-anchor="middle" fill="#111111" stroke="#111111" stroke-width="0.14" textLength="12.59" lengthAdjust="spacingAndGlyphs">24</text>
<text x="168.6" y="555.7" font-size="10.4" text-anchor="middle" fill="#111111" stroke="#111111" stroke-width="0.14" textLength="12.59" lengthAdjust="spacingAndGlyphs">26</text>
<text x="86" y="469.4" font-size="10.4" text-anchor="end" fill="#111111" stroke="#111111" stroke-width="0.14" textLength="15.74" lengthAdjust="spacingAndGlyphs">3.0</text>
<text x="86" y="486.8" font-size="10.4" text-anchor="end" fill="#111111" stroke="#111111" stroke-width="0.14" textLength="15.74" lengthAdjust="spacingAndGlyphs">2.5</text>
<text x="86" y="504.8" font-size="10.4" text-anchor="end" fill="#111111" stroke="#111111" stroke-width="0.14" textLength="15.74" lengthAdjust="spacingAndGlyphs">2.0</text>
<text x="86" y="522.4" font-size="10.4" text-anchor="end" fill="#111111" stroke="#111111" stroke-width="0.14" textLength="15.74" lengthAdjust="spacingAndGlyphs">1.5</text>
<text x="113" y="416.4" font-size="10.4" text-anchor="middle" fill="#111111" stroke="#111111" stroke-width="0.14" textLength="14.59" lengthAdjust="spacingAndGlyphs">−1</text>
<text x="140" y="416.4" font-size="10.4" text-anchor="middle" fill="#111111" stroke="#111111" stroke-width="0.14" textLength="6.3" lengthAdjust="spacingAndGlyphs">0</text>
<text x="165.4" y="416.4" font-size="10.4" text-anchor="middle" fill="#111111" stroke="#111111" stroke-width="0.14" textLength="6.3" lengthAdjust="spacingAndGlyphs">1</text>
<text x="236.2" y="482.8" font-size="10.4" text-anchor="start" fill="#111111" stroke="#111111" stroke-width="0.14" textLength="6.3" lengthAdjust="spacingAndGlyphs">1</text>
<text x="236.2" y="504.2" font-size="10.4" text-anchor="start" fill="#111111" stroke="#111111" stroke-width="0.14" textLength="6.3" lengthAdjust="spacingAndGlyphs">0</text>
<text x="236.2" y="525.6" font-size="10.4" text-anchor="start" fill="#111111" stroke="#111111" stroke-width="0.14" textLength="14.59" lengthAdjust="spacingAndGlyphs">−1</text>
<path d="M112.5 535.6v5.5M140.5 535.6v5.5M168.5 535.6v5.5M97.6 465.5h-5.5M97.6 483.5h-5.5M97.6 501.5h-5.5M97.6 518.5h-5.5M114.5 429.4v-5.6M140.5 429.4v-5.6M165.5 429.4v-5.6M224.4 479.5h5.3M224.4 500.5h5.3M224.4 521.5h5.3" fill="none" stroke="#000" stroke-width="1.25"/>
<text x="54.7" y="500.3" font-size="10.6" text-anchor="middle" fill="#111111" stroke="#111111" stroke-width="0.1" textLength="107.6" lengthAdjust="spacingAndGlyphs" transform="rotate(-90 54.7 500.3)">Accum. precip. (mm)</text>
</g>
<g>
<path d="M280.6 462.9 L280.6 462.9 L281.2 462.9 L281.81 462.9 L282.41 462.9 L283.01 462.9 L283.62 462.9 L284.22 462.9 L284.82 462.9 L285.42 462.9 L286.03 462.9 L286.63 462.9 L287.23 462.9 L287.84 462.9 L288.44 462.9 L289.04 462.9 L289.65 462.9 L290.25 462.9 L290.85 462.9 L291.46 462.9 L292.06 462.9 L292.66 462.9 L293.26 462.9 L293.87 462.9 L294.47 462.9 L295.07 462.9 L295.68 462.9 L296.28 462.9 L296.88 462.9 L297.49 462.9 L298.09 462.89 L298.69 462.88 L299.3 462.86 L299.9 462.8 L300.5 462.68 L301.1 462.45 L301.71 462.01 L302.31 461.25 L302.91 460.05 L303.52 458.27 L304.12 455.82 L304.72 452.68 L305.33 448.98 L305.93 444.92 L306.53 440.86 L307.14 437.17 L307.74 434.19 L308.34 432.17 L308.94 431.17 L309.55 431.01 L310.15 431.54 L310.75 433.03 L311.36 435.54 L311.96 438.9 L312.56 442.83 L313.17 446.93 L313.77 450.85 L314.37 454.3 L314.98 457.11 L315.58 459.22 L316.18 460.71 L316.78 461.67 L317.39 462.25 L317.99 462.58 L318.59 462.75 L319.2 462.84 L319.8 462.88 L320.4 462.89 L321.01 462.9 L321.61 462.9 L322.21 462.9 L322.82 462.9 L323.42 462.9 L324.02 462.9 L324.62 462.9 L325.23 462.9 L325.83 462.9 L326.43 462.9 L327.04 462.9 L327.64 462.9 L328.24 462.9 L328.85 462.9 L329.45 462.9 L330.05 462.9 L330.66 462.9 L331.26 462.9 L331.86 462.9 L332.46 462.9 L333.07 462.9 L333.67 462.9 L334.27 462.9 L334.88 462.9 L335.48 462.9 L336.08 462.9 L336.69 462.9 L337.29 462.9 L337.89 462.9 L338.5 462.9 L339.1 462.9 L339.7 462.9 L340.3 462.9 L340.91 462.9 L341.51 462.9 L342.11 462.9 L342.72 462.9 L343.32 462.9 L343.92 462.9 L344.53 462.9 L345.13 462.9 L345.73 462.9 L346.34 462.9 L346.94 462.9 L347.54 462.9 L348.14 462.9 L348.75 462.9 L349.35 462.9 L349.95 462.9 L350.56 462.9 L351.16 462.9 L351.76 462.9 L352.37 462.9 L352.97 462.9 L353.57 462.9 L354.18 462.9 L354.78 462.9 L355.38 462.9 L355.98 462.9 L356.59 462.9 L357.19 462.9 L357.79 462.9 L358.4 462.9 L359 462.9 L359 462.9Z" fill="#fdf7cf" fill-opacity="0.85" stroke="none"/>
<path d="M280.6 462.9 L280.6 462.9 L281.2 462.9 L281.81 462.9 L282.41 462.9 L283.01 462.9 L283.62 462.9 L284.22 462.9 L284.82 462.9 L285.42 462.9 L286.03 462.9 L286.63 462.9 L287.23 462.9 L287.84 462.9 L288.44 462.9 L289.04 462.9 L289.65 462.9 L290.25 462.9 L290.85 462.9 L291.46 462.9 L292.06 462.9 L292.66 462.9 L293.26 462.9 L293.87 462.9 L294.47 462.9 L295.07 462.9 L295.68 462.9 L296.28 462.9 L296.88 462.9 L297.49 462.9 L298.09 462.9 L298.69 462.9 L299.3 462.9 L299.9 462.9 L300.5 462.9 L301.1 462.9 L301.71 462.9 L302.31 462.9 L302.91 462.9 L303.52 462.9 L304.12 462.9 L304.72 462.9 L305.33 462.9 L305.93 462.9 L306.53 462.9 L307.14 462.9 L307.74 462.9 L308.34 462.9 L308.94 462.9 L309.55 462.9 L310.15 462.9 L310.75 462.9 L311.36 462.9 L311.96 462.9 L312.56 462.9 L313.17 462.9 L313.77 462.9 L314.37 462.9 L314.98 462.9 L315.58 462.9 L316.18 462.9 L316.78 462.9 L317.39 462.9 L317.99 462.9 L318.59 462.89 L319.2 462.87 L319.8 462.82 L320.4 462.71 L321.01 462.5 L321.61 462.1 L322.21 461.4 L322.82 460.28 L323.42 458.61 L324.02 456.27 L324.62 453.24 L325.23 449.61 L325.83 445.59 L326.43 441.51 L327.04 437.73 L327.64 434.62 L328.24 432.43 L328.85 431.27 L329.45 431 L330.05 431.39 L330.66 432.72 L331.26 435.07 L331.86 438.31 L332.46 442.16 L333.07 446.26 L333.67 450.24 L334.27 453.78 L334.88 456.7 L335.48 458.92 L336.08 460.5 L336.69 461.54 L337.29 462.18 L337.89 462.54 L338.5 462.73 L339.1 462.83 L339.7 462.87 L340.3 462.89 L340.91 462.9 L341.51 462.9 L342.11 462.9 L342.72 462.9 L343.32 462.9 L343.92 462.9 L344.53 462.9 L345.13 462.9 L345.73 462.9 L346.34 462.9 L346.94 462.9 L347.54 462.9 L348.14 462.9 L348.75 462.9 L349.35 462.9 L349.95 462.9 L350.56 462.9 L351.16 462.9 L351.76 462.9 L352.37 462.9 L352.97 462.9 L353.57 462.9 L354.18 462.9 L354.78 462.9 L355.38 462.9 L355.98 462.9 L356.59 462.9 L357.19 462.9 L357.79 462.9 L358.4 462.9 L359 462.9 L359 462.9Z" fill="#d9ead6" fill-opacity="0.85" stroke="none"/>
<path d="M280.6 462.55 L281.2 462.55 L281.81 462.55 L282.41 462.55 L283.01 462.55 L283.62 462.55 L284.22 462.55 L284.82 462.55 L285.42 462.55 L286.03 462.55 L286.63 462.55 L287.23 462.55 L287.84 462.55 L288.44 462.55 L289.04 462.55 L289.65 462.55 L290.25 462.55 L290.85 462.55 L291.46 462.55 L292.06 462.55 L292.66 462.55 L293.26 462.55 L293.87 462.55 L294.47 462.55 L295.07 462.55 L295.68 462.55 L296.28 462.55 L296.88 462.55 L297.49 462.55 L298.09 462.54 L298.69 462.54 L299.3 462.51 L299.9 462.46 L300.5 462.34 L301.1 462.1 L301.71 461.67 L302.31 460.92 L302.91 459.73 L303.52 457.97 L304.12 455.55 L304.72 452.45 L305.33 448.78 L305.93 444.77 L306.53 440.75 L307.14 437.1 L307.74 434.16 L308.34 432.16 L308.94 431.17 L309.55 431.01 L310.15 431.53 L310.75 433.01 L311.36 435.49 L311.96 438.82 L312.56 442.7 L313.17 446.76 L313.77 450.63 L314.37 454.05 L314.98 456.82 L315.58 458.91 L316.18 460.38 L316.78 461.33 L317.39 461.91 L317.99 462.24 L318.59 462.41 L319.2 462.49 L319.8 462.53 L320.4 462.54 L321.01 462.55 L321.61 462.55 L322.21 462.55 L322.82 462.55 L323.42 462.55 L324.02 462.55 L324.62 462.55 L325.23 462.55 L325.83 462.55 L326.43 462.55 L327.04 462.55 L327.64 462.55 L328.24 462.55 L328.85 462.55 L329.45 462.55 L330.05 462.55 L330.66 462.55 L331.26 462.55 L331.86 462.55 L332.46 462.55 L333.07 462.55 L333.67 462.55 L334.27 462.55 L334.88 462.55 L335.48 462.55 L336.08 462.55 L336.69 462.55 L337.29 462.55 L337.89 462.55 L338.5 462.55 L339.1 462.55 L339.7 462.55 L340.3 462.55 L340.91 462.55 L341.51 462.55 L342.11 462.55 L342.72 462.55 L343.32 462.55 L343.92 462.55 L344.53 462.55 L345.13 462.55 L345.73 462.55 L346.34 462.55 L346.94 462.55 L347.54 462.55 L348.14 462.55 L348.75 462.55 L349.35 462.55 L349.95 462.55 L350.56 462.55 L351.16 462.55 L351.76 462.55 L352.37 462.55 L352.97 462.55 L353.57 462.55 L354.18 462.55 L354.78 462.55 L355.38 462.55 L355.98 462.55 L356.59 462.55 L357.19 462.55 L357.79 462.55 L358.4 462.55 L359 462.55" fill="none" stroke="#b5b82a" stroke-width="2.2" stroke-linejoin="round"/>
<path d="M280.6 463 L281.2 463 L281.81 463 L282.41 463 L283.01 463 L283.62 463 L284.22 463 L284.82 463 L285.42 463 L286.03 463 L286.63 463 L287.23 463 L287.84 463 L288.44 463 L289.04 463 L289.65 463 L290.25 463 L290.85 463 L291.46 463 L292.06 463 L292.66 463 L293.26 463 L293.87 463 L294.47 463 L295.07 463 L295.68 463 L296.28 463 L296.88 463 L297.49 463 L298.09 463 L298.69 463 L299.3 463 L299.9 463 L300.5 463 L301.1 463 L301.71 463 L302.31 463 L302.91 463 L303.52 463 L304.12 463 L304.72 463 L305.33 463 L305.93 463 L306.53 463 L307.14 463 L307.74 463 L308.34 463 L308.94 463 L309.55 463 L310.15 463 L310.75 463 L311.36 463 L311.96 463 L312.56 463 L313.17 463 L313.77 463 L314.37 463 L314.98 463 L315.58 463 L316.18 463 L316.78 463 L317.39 463 L317.99 463 L318.59 462.99 L319.2 462.97 L319.8 462.92 L320.4 462.81 L321.01 462.6 L321.61 462.19 L322.21 461.5 L322.82 460.38 L323.42 458.69 L324.02 456.35 L324.62 453.31 L325.23 449.67 L325.83 445.64 L326.43 441.54 L327.04 437.75 L327.64 434.63 L328.24 432.43 L328.85 431.27 L329.45 431 L330.05 431.39 L330.66 432.72 L331.26 435.08 L331.86 438.33 L332.46 442.2 L333.07 446.31 L333.67 450.3 L334.27 453.85 L334.88 456.78 L335.48 459.01 L336.08 460.59 L336.69 461.64 L337.29 462.28 L337.89 462.64 L338.5 462.83 L339.1 462.93 L339.7 462.97 L340.3 462.99 L340.91 463 L341.51 463 L342.11 463 L342.72 463 L343.32 463 L343.92 463 L344.53 463 L345.13 463 L345.73 463 L346.34 463 L346.94 463 L347.54 463 L348.14 463 L348.75 463 L349.35 463 L349.95 463 L350.56 463 L351.16 463 L351.76 463 L352.37 463 L352.97 463 L353.57 463 L354.18 463 L354.78 463 L355.38 463 L355.98 463 L356.59 463 L357.19 463 L357.79 463 L358.4 463 L359 463" fill="none" stroke="#2c8a1e" stroke-width="2.2" stroke-linejoin="round"/>
<path d="M364 467.6 L364 467.6 L364 468 L364 468.4 L364 468.8 L364 469.2 L364 469.6 L364 470 L364 470.4 L364 470.8 L364 471.21 L364 471.61 L364 472.01 L364 472.41 L364 472.81 L364 473.21 L364 473.61 L364 474.01 L364 474.41 L364 474.81 L364 475.21 L364 475.61 L364 476.01 L364 476.41 L364 476.81 L364 477.21 L364 477.62 L364 478.02 L364 478.42 L364 478.82 L364 479.22 L364 479.62 L364 480.02 L364 480.42 L364 480.82 L364 481.22 L364 481.62 L364 482.02 L364 482.42 L364 482.82 L364 483.22 L364 483.62 L364 484.03 L364 484.43 L364 484.83 L364 485.23 L364 485.63 L364 486.03 L364 486.43 L364 486.83 L364 487.23 L364 487.63 L364 488.03 L364 488.43 L364 488.83 L364 489.23 L364 489.63 L364 490.03 L364 490.43 L364 490.84 L364 491.24 L364 491.64 L364 492.04 L364 492.44 L364 492.84 L364 493.24 L364 493.64 L364 494.04 L364 494.44 L364 494.84 L364 495.24 L364 495.64 L364 496.04 L364 496.44 L364 496.84 L364 497.25 L364.02 497.65 L364.05 498.05 L364.17 498.45 L364.48 498.85 L365.22 499.25 L366.78 499.65 L369.66 500.05 L374.29 500.45 L380.73 500.85 L388.35 501.25 L395.7 501.65 L400.92 502.05 L402.46 502.45 L399.84 502.85 L393.88 503.25 L386.28 503.66 L378.86 504.06 L372.87 504.46 L368.73 504.86 L366.26 505.26 L364.97 505.66 L364.37 506.06 L364.13 506.46 L364.04 506.86 L364.01 507.26 L364 507.66 L364 508.06 L364 508.46 L364 508.86 L364 509.26 L364 509.66 L364 510.07 L364 510.47 L364 510.87 L364 511.27 L364 511.67 L364 512.07 L364 512.47 L364 512.87 L364 513.27 L364 513.67 L364 514.07 L364 514.47 L364 514.87 L364 515.27 L364 515.67 L364 516.07 L364 516.47 L364 516.88 L364 517.28 L364 517.68 L364 518.08 L364 518.48 L364 518.88 L364 519.28 L364 519.68 L364 520.08 L364 520.48 L364 520.88 L364 521.28 L364 521.68 L364 522.08 L364 522.48 L364 522.88 L364 523.29 L364 523.69 L364 524.09 L364 524.49 L364 524.89 L364 525.29 L364 525.69 L364 526.09 L364 526.49 L364 526.89 L364 527.29 L364 527.69 L364 528.09 L364 528.49 L364 528.89 L364 529.29 L364 529.7 L364 530.1 L364 530.5 L364 530.9 L364 531.3 L364 531.7 L364 532.1 L364 532.5 L364 532.9 L364 532.9Z" fill="#fdf7cf" fill-opacity="0.85" stroke="none"/>
<path d="M364 467.6 L364 467.6 L364 468 L364 468.4 L364 468.8 L364 469.2 L364 469.6 L364 470 L364 470.4 L364 470.8 L364 471.21 L364 471.61 L364 472.01 L364 472.41 L364 472.81 L364 473.21 L364 473.61 L364 474.01 L364 474.41 L364 474.81 L364 475.21 L364 475.61 L364 476.01 L364 476.41 L364 476.81 L364 477.21 L364 477.62 L364 478.02 L364 478.42 L364 478.82 L364 479.22 L364 479.62 L364 480.02 L364 480.42 L364 480.82 L364 481.22 L364 481.62 L364 482.02 L364 482.42 L364 482.82 L364 483.22 L364 483.62 L364 484.03 L364 484.43 L364 484.83 L364 485.23 L364 485.63 L364 486.03 L364 486.43 L364 486.83 L364 487.23 L364 487.63 L364 488.03 L364 488.43 L364 488.83 L364 489.23 L364 489.63 L364 490.03 L364 490.43 L364 490.84 L364 491.24 L364 491.64 L364 492.04 L364 492.44 L364.01 492.84 L364.05 493.24 L364.17 493.64 L364.47 494.04 L365.2 494.44 L366.74 494.84 L369.59 495.24 L374.18 495.64 L380.6 496.04 L388.21 496.44 L395.58 496.84 L400.86 497.25 L402.47 497.65 L399.92 498.05 L394.01 498.45 L386.42 498.85 L378.99 499.25 L372.96 499.65 L368.79 500.05 L366.29 500.45 L364.98 500.85 L364.38 501.25 L364.13 501.65 L364.04 502.05 L364.01 502.45 L364 502.85 L364 503.25 L364 503.66 L364 504.06 L364 504.46 L364 504.86 L364 505.26 L364 505.66 L364 506.06 L364 506.46 L364 506.86 L364 507.26 L364 507.66 L364 508.06 L364 508.46 L364 508.86 L364 509.26 L364 509.66 L364 510.07 L364 510.47 L364 510.87 L364 511.27 L364 511.67 L364 512.07 L364 512.47 L364 512.87 L364 513.27 L364 513.67 L364 514.07 L364 514.47 L364 514.87 L364 515.27 L364 515.67 L364 516.07 L364 516.47 L364 516.88 L364 517.28 L364 517.68 L364 518.08 L364 518.48 L364 518.88 L364 519.28 L364 519.68 L364 520.08 L364 520.48 L364 520.88 L364 521.28 L364 521.68 L364 522.08 L364 522.48 L364 522.88 L364 523.29 L364 523.69 L364 524.09 L364 524.49 L364 524.89 L364 525.29 L364 525.69 L364 526.09 L364 526.49 L364 526.89 L364 527.29 L364 527.69 L364 528.09 L364 528.49 L364 528.89 L364 529.29 L364 529.7 L364 530.1 L364 530.5 L364 530.9 L364 531.3 L364 531.7 L364 532.1 L364 532.5 L364 532.9 L364 532.9Z" fill="#d9ead6" fill-opacity="0.85" stroke="none"/>
<path d="M364.3 467.6 L364.3 468 L364.3 468.4 L364.3 468.8 L364.3 469.2 L364.3 469.6 L364.3 470 L364.3 470.4 L364.3 470.8 L364.3 471.21 L364.3 471.61 L364.3 472.01 L364.3 472.41 L364.3 472.81 L364.3 473.21 L364.3 473.61 L364.3 474.01 L364.3 474.41 L364.3 474.81 L364.3 475.21 L364.3 475.61 L364.3 476.01 L364.3 476.41 L364.3 476.81 L364.3 477.21 L364.3 477.62 L364.3 478.02 L364.3 478.42 L364.3 478.82 L364.3 479.22 L364.3 479.62 L364.3 480.02 L364.3 480.42 L364.3 480.82 L364.3 481.22 L364.3 481.62 L364.3 482.02 L364.3 482.42 L364.3 482.82 L364.3 483.22 L364.3 483.62 L364.3 484.03 L364.3 484.43 L364.3 484.83 L364.3 485.23 L364.3 485.63 L364.3 486.03 L364.3 486.43 L364.3 486.83 L364.3 487.23 L364.3 487.63 L364.3 488.03 L364.3 488.43 L364.3 488.83 L364.3 489.23 L364.3 489.63 L364.3 490.03 L364.3 490.43 L364.3 490.84 L364.3 491.24 L364.3 491.64 L364.3 492.04 L364.3 492.44 L364.3 492.84 L364.3 493.24 L364.3 493.64 L364.3 494.04 L364.3 494.44 L364.3 494.84 L364.3 495.24 L364.3 495.64 L364.3 496.04 L364.3 496.44 L364.3 496.84 L364.3 497.25 L364.31 497.65 L364.35 498.05 L364.47 498.45 L364.78 498.85 L365.51 499.25 L367.06 499.65 L369.91 500.05 L374.51 500.45 L380.9 500.85 L388.46 501.25 L395.76 501.65 L400.93 502.05 L402.46 502.45 L399.86 502.85 L393.94 503.25 L386.4 503.66 L379.04 504.06 L373.1 504.46 L369 504.86 L366.54 505.26 L365.26 505.66 L364.67 506.06 L364.43 506.46 L364.34 506.86 L364.31 507.26 L364.3 507.66 L364.3 508.06 L364.3 508.46 L364.3 508.86 L364.3 509.26 L364.3 509.66 L364.3 510.07 L364.3 510.47 L364.3 510.87 L364.3 511.27 L364.3 511.67 L364.3 512.07 L364.3 512.47 L364.3 512.87 L364.3 513.27 L364.3 513.67 L364.3 514.07 L364.3 514.47 L364.3 514.87 L364.3 515.27 L364.3 515.67 L364.3 516.07 L364.3 516.47 L364.3 516.88 L364.3 517.28 L364.3 517.68 L364.3 518.08 L364.3 518.48 L364.3 518.88 L364.3 519.28 L364.3 519.68 L364.3 520.08 L364.3 520.48 L364.3 520.88 L364.3 521.28 L364.3 521.68 L364.3 522.08 L364.3 522.48 L364.3 522.88 L364.3 523.29 L364.3 523.69 L364.3 524.09 L364.3 524.49 L364.3 524.89 L364.3 525.29 L364.3 525.69 L364.3 526.09 L364.3 526.49 L364.3 526.89 L364.3 527.29 L364.3 527.69 L364.3 528.09 L364.3 528.49 L364.3 528.89 L364.3 529.29 L364.3 529.7 L364.3 530.1 L364.3 530.5 L364.3 530.9 L364.3 531.3 L364.3 531.7 L364.3 532.1 L364.3 532.5 L364.3 532.9" fill="none" stroke="#b5b82a" stroke-width="1.85" stroke-linejoin="round"/>
<path d="M363.9 467.6 L363.9 468 L363.9 468.4 L363.9 468.8 L363.9 469.2 L363.9 469.6 L363.9 470 L363.9 470.4 L363.9 470.8 L363.9 471.21 L363.9 471.61 L363.9 472.01 L363.9 472.41 L363.9 472.81 L363.9 473.21 L363.9 473.61 L363.9 474.01 L363.9 474.41 L363.9 474.81 L363.9 475.21 L363.9 475.61 L363.9 476.01 L363.9 476.41 L363.9 476.81 L363.9 477.21 L363.9 477.62 L363.9 478.02 L363.9 478.42 L363.9 478.82 L363.9 479.22 L363.9 479.62 L363.9 480.02 L363.9 480.42 L363.9 480.82 L363.9 481.22 L363.9 481.62 L363.9 482.02 L363.9 482.42 L363.9 482.82 L363.9 483.22 L363.9 483.62 L363.9 484.03 L363.9 484.43 L363.9 484.83 L363.9 485.23 L363.9 485.63 L363.9 486.03 L363.9 486.43 L363.9 486.83 L363.9 487.23 L363.9 487.63 L363.9 488.03 L363.9 488.43 L363.9 488.83 L363.9 489.23 L363.9 489.63 L363.9 490.03 L363.9 490.43 L363.9 490.84 L363.9 491.24 L363.9 491.64 L363.9 492.04 L363.9 492.44 L363.91 492.84 L363.95 493.24 L364.07 493.64 L364.37 494.04 L365.11 494.44 L366.65 494.84 L369.5 495.24 L374.11 495.64 L380.54 496.04 L388.17 496.44 L395.57 496.84 L400.85 497.25 L402.47 497.65 L399.92 498.05 L393.98 498.45 L386.38 498.85 L378.92 499.25 L372.88 499.65 L368.7 500.05 L366.2 500.45 L364.88 500.85 L364.28 501.25 L364.03 501.65 L363.94 502.05 L363.91 502.45 L363.9 502.85 L363.9 503.25 L363.9 503.66 L363.9 504.06 L363.9 504.46 L363.9 504.86 L363.9 505.26 L363.9 505.66 L363.9 506.06 L363.9 506.46 L363.9 506.86 L363.9 507.26 L363.9 507.66 L363.9 508.06 L363.9 508.46 L363.9 508.86 L363.9 509.26 L363.9 509.66 L363.9 510.07 L363.9 510.47 L363.9 510.87 L363.9 511.27 L363.9 511.67 L363.9 512.07 L363.9 512.47 L363.9 512.87 L363.9 513.27 L363.9 513.67 L363.9 514.07 L363.9 514.47 L363.9 514.87 L363.9 515.27 L363.9 515.67 L363.9 516.07 L363.9 516.47 L363.9 516.88 L363.9 517.28 L363.9 517.68 L363.9 518.08 L363.9 518.48 L363.9 518.88 L363.9 519.28 L363.9 519.68 L363.9 520.08 L363.9 520.48 L363.9 520.88 L363.9 521.28 L363.9 521.68 L363.9 522.08 L363.9 522.48 L363.9 522.88 L363.9 523.29 L363.9 523.69 L363.9 524.09 L363.9 524.49 L363.9 524.89 L363.9 525.29 L363.9 525.69 L363.9 526.09 L363.9 526.49 L363.9 526.89 L363.9 527.29 L363.9 527.69 L363.9 528.09 L363.9 528.49 L363.9 528.89 L363.9 529.29 L363.9 529.7 L363.9 530.1 L363.9 530.5 L363.9 530.9 L363.9 531.3 L363.9 531.7 L363.9 532.1 L363.9 532.5 L363.9 532.9" fill="none" stroke="#2c8a1e" stroke-width="1.85" stroke-linejoin="round"/>
<ellipse cx="309.3" cy="500.1" rx="30.8" ry="23.8" transform="rotate(60 309.3 500.1)" fill="none" stroke="#9e9ea5" stroke-width="1.45" stroke-dasharray="5 3.1"/>
<ellipse cx="329.5" cy="506.9" rx="29.72" ry="17.4" transform="rotate(30 329.5 506.9)" fill="none" stroke="#9e9ea5" stroke-width="1.45" stroke-dasharray="5 3.1"/>
<ellipse cx="309.3" cy="500.1" rx="9.71" ry="7.41" transform="rotate(60 309.3 500.1)" fill="none" stroke="#dcde92" stroke-width="1.75"/>
<ellipse cx="309.3" cy="500.1" rx="14.77" ry="11.27" transform="rotate(60 309.3 500.1)" fill="none" stroke="#c9cc62" stroke-width="1.75"/>
<ellipse cx="309.3" cy="500.1" rx="21.1" ry="16.1" transform="rotate(60 309.3 500.1)" fill="none" stroke="#b7ba2e" stroke-width="2.05"/>
<ellipse cx="329.5" cy="506.9" rx="7.45" ry="4.22" transform="rotate(30 329.5 506.9)" fill="none" stroke="#bcdcb8" stroke-width="1.75"/>
<ellipse cx="329.5" cy="506.9" rx="11.17" ry="6.33" transform="rotate(30 329.5 506.9)" fill="none" stroke="#8fc489" stroke-width="1.75"/>
<ellipse cx="329.5" cy="506.9" rx="15.09" ry="8.55" transform="rotate(30 329.5 506.9)" fill="none" stroke="#5fa757" stroke-width="1.75"/>
<ellipse cx="329.5" cy="506.9" rx="19.6" ry="11.1" transform="rotate(30 329.5 506.9)" fill="none" stroke="#338f29" stroke-width="2.05"/>
<path d="M277.6 429.4H362V464.6H404V535.4H277.6V429.4H277.6Z" fill="none" stroke="#000" stroke-width="1.35"/>
<path d="M277.6 464.6H362M362 464.6V535.4" fill="none" stroke="#000" stroke-width="1.35"/>
<text x="297" y="555.5" font-size="10.4" text-anchor="middle" fill="#111111" stroke="#111111" stroke-width="0.14" textLength="12.59" lengthAdjust="spacingAndGlyphs">20</text>
<text x="322.6" y="555.5" font-size="10.4" text-anchor="middle" fill="#111111" stroke="#111111" stroke-width="0.14" textLength="12.59" lengthAdjust="spacingAndGlyphs">21</text>
<text x="348.4" y="555.5" font-size="10.4" text-anchor="middle" fill="#111111" stroke="#111111" stroke-width="0.14" textLength="12.59" lengthAdjust="spacingAndGlyphs">22</text>
<text x="293" y="416.4" font-size="10.4" text-anchor="middle" fill="#111111" stroke="#111111" stroke-width="0.14" textLength="14.59" lengthAdjust="spacingAndGlyphs">−1</text>
<text x="319.6" y="416.4" font-size="10.4" text-anchor="middle" fill="#111111" stroke="#111111" stroke-width="0.14" textLength="6.3" lengthAdjust="spacingAndGlyphs">0</text>
<text x="345" y="416.4" font-size="10.4" text-anchor="middle" fill="#111111" stroke="#111111" stroke-width="0.14" textLength="6.3" lengthAdjust="spacingAndGlyphs">1</text>
<text x="415.8" y="482.4" font-size="10.4" text-anchor="start" fill="#111111" stroke="#111111" stroke-width="0.14" textLength="6.3" lengthAdjust="spacingAndGlyphs">1</text>
<text x="415.8" y="503.8" font-size="10.4" text-anchor="start" fill="#111111" stroke="#111111" stroke-width="0.14" textLength="6.3" lengthAdjust="spacingAndGlyphs">0</text>
<text x="415.8" y="525.2" font-size="10.4" text-anchor="start" fill="#111111" stroke="#111111" stroke-width="0.14" textLength="14.59" lengthAdjust="spacingAndGlyphs">−1</text>
<path d="M297.5 535.4v5.5M322.5 535.4v5.5M348.5 535.4v5.5M294.5 429.4v-5.6M319.5 429.4v-5.6M345.5 429.4v-5.6M404 478.5h5.3M404 500.5h5.3M404 521.5h5.3M277.6 483h-1.6M277.6 501h-1.6M277.6 519h-1.6" fill="none" stroke="#000" stroke-width="1.25"/>
</g>
<g>
<path d="M529.4 463 L529.4 463 L530 463 L530.6 463 L531.2 463 L531.8 463 L532.4 463 L533 463 L533.61 463 L534.21 463 L534.81 462.99 L535.41 462.99 L536.01 462.98 L536.61 462.96 L537.21 462.93 L537.81 462.87 L538.41 462.78 L539.01 462.64 L539.61 462.43 L540.21 462.12 L540.81 461.68 L541.42 461.07 L542.02 460.25 L542.62 459.19 L543.22 457.85 L543.82 456.22 L544.42 454.3 L545.02 452.1 L545.62 449.67 L546.22 447.07 L546.82 444.39 L547.42 441.72 L548.02 439.18 L548.62 436.87 L549.23 434.87 L549.83 433.27 L550.43 432.1 L551.03 431.37 L551.63 431.04 L552.23 431.01 L552.83 431.26 L553.43 431.89 L554.03 432.95 L554.63 434.46 L555.23 436.36 L555.83 438.61 L556.43 441.1 L557.04 443.75 L557.64 446.44 L558.24 449.06 L558.84 451.54 L559.44 453.8 L560.04 455.79 L560.64 457.49 L561.24 458.89 L561.84 460.02 L562.44 460.89 L563.04 461.55 L563.64 462.03 L564.24 462.37 L564.85 462.6 L565.45 462.75 L566.05 462.85 L566.65 462.91 L567.25 462.95 L567.85 462.97 L568.45 462.99 L569.05 462.99 L569.65 463 L570.25 463 L570.85 463 L571.45 463 L572.05 463 L572.66 463 L573.26 463 L573.86 463 L574.46 463 L575.06 463 L575.66 463 L576.26 463 L576.86 463 L577.46 463 L578.06 463 L578.66 463 L579.26 463 L579.86 463 L580.47 463 L581.07 463 L581.67 463 L582.27 463 L582.87 463 L583.47 463 L584.07 463 L584.67 463 L585.27 463 L585.87 463 L586.47 463 L587.07 463 L587.67 463 L588.28 463 L588.88 463 L589.48 463 L590.08 463 L590.68 463 L591.28 463 L591.88 463 L592.48 463 L593.08 463 L593.68 463 L594.28 463 L594.88 463 L595.48 463 L596.09 463 L596.69 463 L597.29 463 L597.89 463 L598.49 463 L599.09 463 L599.69 463 L600.29 463 L600.89 463 L601.49 463 L602.09 463 L602.69 463 L603.29 463 L603.9 463 L604.5 463 L605.1 463 L605.7 463 L606.3 463 L606.9 463 L607.5 463 L607.5 463Z" fill="#fdf7cf" fill-opacity="0.85" stroke="none"/>
<path d="M529.4 463 L529.4 463 L530 463 L530.6 463 L531.2 463 L531.8 463 L532.4 463 L533 463 L533.61 463 L534.21 463 L534.81 463 L535.41 463 L536.01 463 L536.61 463 L537.21 463 L537.81 463 L538.41 463 L539.01 463 L539.61 463 L540.21 463 L540.81 463 L541.42 463 L542.02 463 L542.62 463 L543.22 463 L543.82 463 L544.42 463 L545.02 463 L545.62 463 L546.22 463 L546.82 463 L547.42 463 L548.02 463 L548.62 463 L549.23 463 L549.83 463 L550.43 463 L551.03 463 L551.63 463 L552.23 463 L552.83 463 L553.43 463 L554.03 463 L554.63 463 L555.23 463 L555.83 463 L556.43 463 L557.04 463 L557.64 463 L558.24 463 L558.84 463 L559.44 463 L560.04 463 L560.64 463 L561.24 463 L561.84 463 L562.44 463 L563.04 463 L563.64 463 L564.24 463 L564.85 463 L565.45 463 L566.05 463 L566.65 463 L567.25 463 L567.85 462.99 L568.45 462.99 L569.05 462.98 L569.65 462.96 L570.25 462.92 L570.85 462.87 L571.45 462.77 L572.05 462.63 L572.66 462.41 L573.26 462.09 L573.86 461.64 L574.46 461.02 L575.06 460.18 L575.66 459.1 L576.26 457.74 L576.86 456.09 L577.46 454.15 L578.06 451.94 L578.66 449.49 L579.26 446.88 L579.86 444.2 L580.47 441.54 L581.07 439.01 L581.67 436.71 L582.27 434.75 L582.87 433.17 L583.47 432.03 L584.07 431.33 L584.67 431.03 L585.27 431.02 L585.87 431.29 L586.47 431.95 L587.07 433.05 L587.67 434.58 L588.28 436.51 L588.88 438.78 L589.48 441.29 L590.08 443.94 L590.68 446.63 L591.28 449.25 L591.88 451.71 L592.48 453.95 L593.08 455.92 L593.68 457.6 L594.28 458.98 L594.88 460.09 L595.48 460.94 L596.09 461.59 L596.69 462.06 L597.29 462.39 L597.89 462.61 L598.49 462.76 L599.09 462.86 L599.69 462.92 L600.29 462.95 L600.89 462.97 L601.49 462.99 L602.09 462.99 L602.69 463 L603.29 463 L603.9 463 L604.5 463 L605.1 463 L605.7 463 L606.3 463 L606.9 463 L607.5 463 L607.5 463Z" fill="#d9ead6" fill-opacity="0.85" stroke="none"/>
<path d="M529.4 462.65 L530 462.65 L530.6 462.65 L531.2 462.65 L531.8 462.65 L532.4 462.65 L533 462.65 L533.61 462.65 L534.21 462.65 L534.81 462.64 L535.41 462.64 L536.01 462.63 L536.61 462.61 L537.21 462.58 L537.81 462.52 L538.41 462.43 L539.01 462.3 L539.61 462.09 L540.21 461.78 L540.81 461.34 L541.42 460.74 L542.02 459.93 L542.62 458.88 L543.22 457.56 L543.82 455.95 L544.42 454.04 L545.02 451.87 L545.62 449.46 L546.22 446.89 L546.82 444.24 L547.42 441.6 L548.02 439.09 L548.62 436.8 L549.23 434.83 L549.83 433.25 L550.43 432.09 L551.03 431.36 L551.63 431.04 L552.23 431.01 L552.83 431.25 L553.43 431.88 L554.03 432.93 L554.63 434.42 L555.23 436.3 L555.83 438.52 L556.43 440.99 L557.04 443.61 L557.64 446.27 L558.24 448.87 L558.84 451.32 L559.44 453.55 L560.04 455.52 L560.64 457.2 L561.24 458.59 L561.84 459.7 L562.44 460.57 L563.04 461.21 L563.64 461.69 L564.24 462.02 L564.85 462.25 L565.45 462.41 L566.05 462.5 L566.65 462.57 L567.25 462.6 L567.85 462.62 L568.45 462.64 L569.05 462.64 L569.65 462.65 L570.25 462.65 L570.85 462.65 L571.45 462.65 L572.05 462.65 L572.66 462.65 L573.26 462.65 L573.86 462.65 L574.46 462.65 L575.06 462.65 L575.66 462.65 L576.26 462.65 L576.86 462.65 L577.46 462.65 L578.06 462.65 L578.66 462.65 L579.26 462.65 L579.86 462.65 L580.47 462.65 L581.07 462.65 L581.67 462.65 L582.27 462.65 L582.87 462.65 L583.47 462.65 L584.07 462.65 L584.67 462.65 L585.27 462.65 L585.87 462.65 L586.47 462.65 L587.07 462.65 L587.67 462.65 L588.28 462.65 L588.88 462.65 L589.48 462.65 L590.08 462.65 L590.68 462.65 L591.28 462.65 L591.88 462.65 L592.48 462.65 L593.08 462.65 L593.68 462.65 L594.28 462.65 L594.88 462.65 L595.48 462.65 L596.09 462.65 L596.69 462.65 L597.29 462.65 L597.89 462.65 L598.49 462.65 L599.09 462.65 L599.69 462.65 L600.29 462.65 L600.89 462.65 L601.49 462.65 L602.09 462.65 L602.69 462.65 L603.29 462.65 L603.9 462.65 L604.5 462.65 L605.1 462.65 L605.7 462.65 L606.3 462.65 L606.9 462.65 L607.5 462.65" fill="none" stroke="#b5b82a" stroke-width="2.2" stroke-linejoin="round"/>
<path d="M529.4 463.1 L530 463.1 L530.6 463.1 L531.2 463.1 L531.8 463.1 L532.4 463.1 L533 463.1 L533.61 463.1 L534.21 463.1 L534.81 463.1 L535.41 463.1 L536.01 463.1 L536.61 463.1 L537.21 463.1 L537.81 463.1 L538.41 463.1 L539.01 463.1 L539.61 463.1 L540.21 463.1 L540.81 463.1 L541.42 463.1 L542.02 463.1 L542.62 463.1 L543.22 463.1 L543.82 463.1 L544.42 463.1 L545.02 463.1 L545.62 463.1 L546.22 463.1 L546.82 463.1 L547.42 463.1 L548.02 463.1 L548.62 463.1 L549.23 463.1 L549.83 463.1 L550.43 463.1 L551.03 463.1 L551.63 463.1 L552.23 463.1 L552.83 463.1 L553.43 463.1 L554.03 463.1 L554.63 463.1 L555.23 463.1 L555.83 463.1 L556.43 463.1 L557.04 463.1 L557.64 463.1 L558.24 463.1 L558.84 463.1 L559.44 463.1 L560.04 463.1 L560.64 463.1 L561.24 463.1 L561.84 463.1 L562.44 463.1 L563.04 463.1 L563.64 463.1 L564.24 463.1 L564.85 463.1 L565.45 463.1 L566.05 463.1 L566.65 463.1 L567.25 463.1 L567.85 463.09 L568.45 463.09 L569.05 463.08 L569.65 463.06 L570.25 463.02 L570.85 462.96 L571.45 462.87 L572.05 462.73 L572.66 462.51 L573.26 462.19 L573.86 461.74 L574.46 461.11 L575.06 460.27 L575.66 459.19 L576.26 457.83 L576.86 456.17 L577.46 454.22 L578.06 452 L578.66 449.55 L579.26 446.93 L579.86 444.24 L580.47 441.57 L581.07 439.03 L581.67 436.73 L582.27 434.76 L582.87 433.18 L583.47 432.04 L584.07 431.33 L584.67 431.03 L585.27 431.02 L585.87 431.29 L586.47 431.95 L587.07 433.05 L587.67 434.59 L588.28 436.53 L588.88 438.8 L589.48 441.32 L590.08 443.98 L590.68 446.67 L591.28 449.3 L591.88 451.77 L592.48 454.02 L593.08 456 L593.68 457.68 L594.28 459.07 L594.88 460.18 L595.48 461.04 L596.09 461.68 L596.69 462.15 L597.29 462.48 L597.89 462.71 L598.49 462.86 L599.09 462.96 L599.69 463.02 L600.29 463.05 L600.89 463.07 L601.49 463.09 L602.09 463.09 L602.69 463.1 L603.29 463.1 L603.9 463.1 L604.5 463.1 L605.1 463.1 L605.7 463.1 L606.3 463.1 L606.9 463.1 L607.5 463.1" fill="none" stroke="#2c8a1e" stroke-width="2.2" stroke-linejoin="round"/>
<path d="M612.5 467.7 L612.5 467.7 L612.5 468.1 L612.5 468.5 L612.5 468.9 L612.5 469.3 L612.5 469.7 L612.5 470.1 L612.5 470.5 L612.5 470.9 L612.5 471.31 L612.5 471.71 L612.5 472.11 L612.5 472.51 L612.5 472.91 L612.5 473.31 L612.5 473.71 L612.5 474.11 L612.5 474.51 L612.5 474.91 L612.5 475.31 L612.5 475.71 L612.5 476.11 L612.5 476.51 L612.5 476.91 L612.5 477.31 L612.5 477.72 L612.5 478.12 L612.5 478.52 L612.5 478.92 L612.5 479.32 L612.5 479.72 L612.5 480.12 L612.5 480.52 L612.5 480.92 L612.5 481.32 L612.5 481.72 L612.5 482.12 L612.51 482.52 L612.51 482.92 L612.53 483.32 L612.55 483.72 L612.6 484.13 L612.69 484.53 L612.84 484.93 L613.09 485.33 L613.48 485.73 L614.08 486.13 L614.96 486.53 L616.22 486.93 L617.92 487.33 L620.16 487.73 L622.96 488.13 L626.33 488.53 L630.18 488.93 L634.36 489.33 L638.66 489.73 L642.78 490.13 L646.4 490.53 L649.22 490.94 L650.97 491.34 L651.49 491.74 L650.74 492.14 L648.77 492.54 L645.78 492.94 L642.05 493.34 L637.87 493.74 L633.58 494.14 L629.44 494.54 L625.67 494.94 L622.41 495.34 L619.71 495.74 L617.57 496.14 L615.95 496.54 L614.77 496.94 L613.95 497.35 L613.39 497.75 L613.03 498.15 L612.81 498.55 L612.67 498.95 L612.59 499.35 L612.55 499.75 L612.52 500.15 L612.51 500.55 L612.51 500.95 L612.5 501.35 L612.5 501.75 L612.5 502.15 L612.5 502.55 L612.5 502.95 L612.5 503.35 L612.5 503.76 L612.5 504.16 L612.5 504.56 L612.5 504.96 L612.5 505.36 L612.5 505.76 L612.5 506.16 L612.5 506.56 L612.5 506.96 L612.5 507.36 L612.5 507.76 L612.5 508.16 L612.5 508.56 L612.5 508.96 L612.5 509.36 L612.5 509.76 L612.5 510.17 L612.5 510.57 L612.5 510.97 L612.5 511.37 L612.5 511.77 L612.5 512.17 L612.5 512.57 L612.5 512.97 L612.5 513.37 L612.5 513.77 L612.5 514.17 L612.5 514.57 L612.5 514.97 L612.5 515.37 L612.5 515.77 L612.5 516.17 L612.5 516.57 L612.5 516.98 L612.5 517.38 L612.5 517.78 L612.5 518.18 L612.5 518.58 L612.5 518.98 L612.5 519.38 L612.5 519.78 L612.5 520.18 L612.5 520.58 L612.5 520.98 L612.5 521.38 L612.5 521.78 L612.5 522.18 L612.5 522.58 L612.5 522.98 L612.5 523.39 L612.5 523.79 L612.5 524.19 L612.5 524.59 L612.5 524.99 L612.5 525.39 L612.5 525.79 L612.5 526.19 L612.5 526.59 L612.5 526.99 L612.5 527.39 L612.5 527.79 L612.5 528.19 L612.5 528.59 L612.5 528.99 L612.5 529.39 L612.5 529.8 L612.5 530.2 L612.5 530.6 L612.5 531 L612.5 531.4 L612.5 531.8 L612.5 532.2 L612.5 532.6 L612.5 533 L612.5 533Z" fill="#fdf7cf" fill-opacity="0.85" stroke="none"/>
<path d="M612.5 467.7 L612.5 467.7 L612.5 468.1 L612.5 468.5 L612.5 468.9 L612.5 469.3 L612.5 469.7 L612.5 470.1 L612.5 470.5 L612.5 470.9 L612.5 471.31 L612.5 471.71 L612.5 472.11 L612.5 472.51 L612.5 472.91 L612.5 473.31 L612.5 473.71 L612.5 474.11 L612.5 474.51 L612.5 474.91 L612.5 475.31 L612.5 475.71 L612.5 476.11 L612.5 476.51 L612.5 476.91 L612.5 477.31 L612.5 477.72 L612.5 478.12 L612.5 478.52 L612.5 478.92 L612.5 479.32 L612.5 479.72 L612.5 480.12 L612.5 480.52 L612.5 480.92 L612.5 481.32 L612.5 481.72 L612.5 482.12 L612.5 482.52 L612.5 482.92 L612.5 483.32 L612.5 483.72 L612.5 484.13 L612.5 484.53 L612.5 484.93 L612.5 485.33 L612.5 485.73 L612.5 486.13 L612.5 486.53 L612.5 486.93 L612.5 487.33 L612.5 487.73 L612.5 488.13 L612.5 488.53 L612.5 488.93 L612.5 489.33 L612.5 489.73 L612.5 490.13 L612.5 490.53 L612.5 490.94 L612.5 491.34 L612.5 491.74 L612.5 492.14 L612.5 492.54 L612.5 492.94 L612.5 493.34 L612.5 493.74 L612.5 494.14 L612.5 494.54 L612.5 494.94 L612.5 495.34 L612.5 495.74 L612.5 496.14 L612.5 496.54 L612.5 496.94 L612.5 497.35 L612.5 497.75 L612.5 498.15 L612.5 498.55 L612.51 498.95 L612.51 499.35 L612.53 499.75 L612.55 500.15 L612.59 500.55 L612.66 500.95 L612.78 501.35 L612.96 501.75 L613.25 502.15 L613.68 502.55 L614.31 502.95 L615.2 503.35 L616.42 503.76 L618.03 504.16 L620.08 504.56 L622.61 504.96 L625.62 505.36 L629.06 505.76 L632.81 506.16 L636.74 506.56 L640.63 506.96 L644.25 507.36 L647.35 507.76 L649.7 508.16 L651.12 508.56 L651.49 508.96 L650.78 509.36 L649.05 509.76 L646.44 510.17 L643.15 510.57 L639.42 510.97 L635.5 511.37 L631.6 511.77 L627.93 512.17 L624.62 512.57 L621.76 512.97 L619.38 513.37 L617.47 513.77 L616 514.17 L614.89 514.57 L614.09 514.97 L613.53 515.37 L613.15 515.77 L612.89 516.17 L612.73 516.57 L612.64 516.98 L612.58 517.38 L612.54 517.78 L612.52 518.18 L612.51 518.58 L612.51 518.98 L612.5 519.38 L612.5 519.78 L612.5 520.18 L612.5 520.58 L612.5 520.98 L612.5 521.38 L612.5 521.78 L612.5 522.18 L612.5 522.58 L612.5 522.98 L612.5 523.39 L612.5 523.79 L612.5 524.19 L612.5 524.59 L612.5 524.99 L612.5 525.39 L612.5 525.79 L612.5 526.19 L612.5 526.59 L612.5 526.99 L612.5 527.39 L612.5 527.79 L612.5 528.19 L612.5 528.59 L612.5 528.99 L612.5 529.39 L612.5 529.8 L612.5 530.2 L612.5 530.6 L612.5 531 L612.5 531.4 L612.5 531.8 L612.5 532.2 L612.5 532.6 L612.5 533 L612.5 533Z" fill="#d9ead6" fill-opacity="0.85" stroke="none"/>
<path d="M612.8 467.7 L612.8 468.1 L612.8 468.5 L612.8 468.9 L612.8 469.3 L612.8 469.7 L612.8 470.1 L612.8 470.5 L612.8 470.9 L612.8 471.31 L612.8 471.71 L612.8 472.11 L612.8 472.51 L612.8 472.91 L612.8 473.31 L612.8 473.71 L612.8 474.11 L612.8 474.51 L612.8 474.91 L612.8 475.31 L612.8 475.71 L612.8 476.11 L612.8 476.51 L612.8 476.91 L612.8 477.31 L612.8 477.72 L612.8 478.12 L612.8 478.52 L612.8 478.92 L612.8 479.32 L612.8 479.72 L612.8 480.12 L612.8 480.52 L612.8 480.92 L612.8 481.32 L612.8 481.72 L612.8 482.12 L612.81 482.52 L612.81 482.92 L612.83 483.32 L612.85 483.72 L612.9 484.13 L612.99 484.53 L613.14 484.93 L613.38 485.33 L613.77 485.73 L614.37 486.13 L615.24 486.53 L616.49 486.93 L618.18 487.33 L620.4 487.73 L623.18 488.13 L626.52 488.53 L630.34 488.93 L634.5 489.33 L638.76 489.73 L642.84 490.13 L646.44 490.53 L649.23 490.94 L650.97 491.34 L651.49 491.74 L650.74 492.14 L648.79 492.54 L645.83 492.94 L642.12 493.34 L637.98 493.74 L633.72 494.14 L629.61 494.54 L625.87 494.94 L622.63 495.34 L619.95 495.74 L617.83 496.14 L616.23 496.54 L615.06 496.94 L614.24 497.35 L613.69 497.75 L613.33 498.15 L613.1 498.55 L612.97 498.95 L612.89 499.35 L612.85 499.75 L612.82 500.15 L612.81 500.55 L612.81 500.95 L612.8 501.35 L612.8 501.75 L612.8 502.15 L612.8 502.55 L612.8 502.95 L612.8 503.35 L612.8 503.76 L612.8 504.16 L612.8 504.56 L612.8 504.96 L612.8 505.36 L612.8 505.76 L612.8 506.16 L612.8 506.56 L612.8 506.96 L612.8 507.36 L612.8 507.76 L612.8 508.16 L612.8 508.56 L612.8 508.96 L612.8 509.36 L612.8 509.76 L612.8 510.17 L612.8 510.57 L612.8 510.97 L612.8 511.37 L612.8 511.77 L612.8 512.17 L612.8 512.57 L612.8 512.97 L612.8 513.37 L612.8 513.77 L612.8 514.17 L612.8 514.57 L612.8 514.97 L612.8 515.37 L612.8 515.77 L612.8 516.17 L612.8 516.57 L612.8 516.98 L612.8 517.38 L612.8 517.78 L612.8 518.18 L612.8 518.58 L612.8 518.98 L612.8 519.38 L612.8 519.78 L612.8 520.18 L612.8 520.58 L612.8 520.98 L612.8 521.38 L612.8 521.78 L612.8 522.18 L612.8 522.58 L612.8 522.98 L612.8 523.39 L612.8 523.79 L612.8 524.19 L612.8 524.59 L612.8 524.99 L612.8 525.39 L612.8 525.79 L612.8 526.19 L612.8 526.59 L612.8 526.99 L612.8 527.39 L612.8 527.79 L612.8 528.19 L612.8 528.59 L612.8 528.99 L612.8 529.39 L612.8 529.8 L612.8 530.2 L612.8 530.6 L612.8 531 L612.8 531.4 L612.8 531.8 L612.8 532.2 L612.8 532.6 L612.8 533" fill="none" stroke="#b5b82a" stroke-width="1.85" stroke-linejoin="round"/>
<path d="M612.4 467.7 L612.4 468.1 L612.4 468.5 L612.4 468.9 L612.4 469.3 L612.4 469.7 L612.4 470.1 L612.4 470.5 L612.4 470.9 L612.4 471.31 L612.4 471.71 L612.4 472.11 L612.4 472.51 L612.4 472.91 L612.4 473.31 L612.4 473.71 L612.4 474.11 L612.4 474.51 L612.4 474.91 L612.4 475.31 L612.4 475.71 L612.4 476.11 L612.4 476.51 L612.4 476.91 L612.4 477.31 L612.4 477.72 L612.4 478.12 L612.4 478.52 L612.4 478.92 L612.4 479.32 L612.4 479.72 L612.4 480.12 L612.4 480.52 L612.4 480.92 L612.4 481.32 L612.4 481.72 L612.4 482.12 L612.4 482.52 L612.4 482.92 L612.4 483.32 L612.4 483.72 L612.4 484.13 L612.4 484.53 L612.4 484.93 L612.4 485.33 L612.4 485.73 L612.4 486.13 L612.4 486.53 L612.4 486.93 L612.4 487.33 L612.4 487.73 L612.4 488.13 L612.4 488.53 L612.4 488.93 L612.4 489.33 L612.4 489.73 L612.4 490.13 L612.4 490.53 L612.4 490.94 L612.4 491.34 L612.4 491.74 L612.4 492.14 L612.4 492.54 L612.4 492.94 L612.4 493.34 L612.4 493.74 L612.4 494.14 L612.4 494.54 L612.4 494.94 L612.4 495.34 L612.4 495.74 L612.4 496.14 L612.4 496.54 L612.4 496.94 L612.4 497.35 L612.4 497.75 L612.4 498.15 L612.4 498.55 L612.41 498.95 L612.41 499.35 L612.43 499.75 L612.45 500.15 L612.49 500.55 L612.56 500.95 L612.68 501.35 L612.86 501.75 L613.15 502.15 L613.58 502.55 L614.22 502.95 L615.11 503.35 L616.33 503.76 L617.94 504.16 L620 504.56 L622.54 504.96 L625.56 505.36 L629 505.76 L632.77 506.16 L636.7 506.56 L640.6 506.96 L644.23 507.36 L647.34 507.76 L649.69 508.16 L651.12 508.56 L651.49 508.96 L650.78 509.36 L649.04 509.76 L646.43 510.17 L643.13 510.57 L639.39 510.97 L635.45 511.37 L631.55 511.77 L627.87 512.17 L624.56 512.57 L621.69 512.97 L619.3 513.37 L617.39 513.77 L615.91 514.17 L614.8 514.57 L613.99 514.97 L613.43 515.37 L613.05 515.77 L612.8 516.17 L612.64 516.57 L612.54 516.98 L612.48 517.38 L612.44 517.78 L612.42 518.18 L612.41 518.58 L612.41 518.98 L612.4 519.38 L612.4 519.78 L612.4 520.18 L612.4 520.58 L612.4 520.98 L612.4 521.38 L612.4 521.78 L612.4 522.18 L612.4 522.58 L612.4 522.98 L612.4 523.39 L612.4 523.79 L612.4 524.19 L612.4 524.59 L612.4 524.99 L612.4 525.39 L612.4 525.79 L612.4 526.19 L612.4 526.59 L612.4 526.99 L612.4 527.39 L612.4 527.79 L612.4 528.19 L612.4 528.59 L612.4 528.99 L612.4 529.39 L612.4 529.8 L612.4 530.2 L612.4 530.6 L612.4 531 L612.4 531.4 L612.4 531.8 L612.4 532.2 L612.4 532.6 L612.4 533" fill="none" stroke="#2c8a1e" stroke-width="1.85" stroke-linejoin="round"/>
<ellipse cx="555.1" cy="508.6" rx="30.64" ry="12.39" transform="rotate(-42 555.1 508.6)" fill="none" stroke="#9e9ea5" stroke-width="1.45" stroke-dasharray="5 3.1"/>
<ellipse cx="573.7" cy="491.8" rx="36.84" ry="11.74" transform="rotate(-36 573.7 491.8)" fill="none" stroke="#9e9ea5" stroke-width="1.45" stroke-dasharray="5 3.1"/>
<ellipse cx="555.1" cy="508.6" rx="11.81" ry="4.42" transform="rotate(-42 555.1 508.6)" fill="none" stroke="#d8da80" stroke-width="1.75"/>
<ellipse cx="555.1" cy="508.6" rx="17.9" ry="6.7" transform="rotate(-42 555.1 508.6)" fill="none" stroke="#c0c343" stroke-width="2.05"/>
<ellipse cx="573.7" cy="491.8" rx="9.11" ry="2.65" transform="rotate(-36 573.7 491.8)" fill="none" stroke="#a3cf9d" stroke-width="1.75"/>
<ellipse cx="573.7" cy="491.8" rx="14.54" ry="4.22" transform="rotate(-36 573.7 491.8)" fill="none" stroke="#72b46a" stroke-width="1.75"/>
<ellipse cx="573.7" cy="491.8" rx="21.7" ry="6.3" transform="rotate(-36 573.7 491.8)" fill="none" stroke="#38912e" stroke-width="2.05"/>
<path d="M526.4 429.4H610.5V464.7H653V535.5H526.4V429.4H526.4Z" fill="none" stroke="#000" stroke-width="1.35"/>
<path d="M526.4 464.7H610.5M610.5 464.7V535.5" fill="none" stroke="#000" stroke-width="1.35"/>
<text x="540.6" y="555.6" font-size="10.4" text-anchor="middle" fill="#111111" stroke="#111111" stroke-width="0.14" textLength="12.59" lengthAdjust="spacingAndGlyphs">22</text>
<text x="568.6" y="555.6" font-size="10.4" text-anchor="middle" fill="#111111" stroke="#111111" stroke-width="0.14" textLength="12.59" lengthAdjust="spacingAndGlyphs">24</text>
<text x="597" y="555.6" font-size="10.4" text-anchor="middle" fill="#111111" stroke="#111111" stroke-width="0.14" textLength="12.59" lengthAdjust="spacingAndGlyphs">26</text>
<text x="514.8" y="479.8" font-size="10.4" text-anchor="end" fill="#111111" stroke="#111111" stroke-width="0.14" textLength="12.59" lengthAdjust="spacingAndGlyphs">22</text>
<text x="514.8" y="501.4" font-size="10.4" text-anchor="end" fill="#111111" stroke="#111111" stroke-width="0.14" textLength="12.59" lengthAdjust="spacingAndGlyphs">21</text>
<text x="514.8" y="523.4" font-size="10.4" text-anchor="end" fill="#111111" stroke="#111111" stroke-width="0.14" textLength="12.59" lengthAdjust="spacingAndGlyphs">20</text>
<text x="541" y="416.4" font-size="10.4" text-anchor="middle" fill="#111111" stroke="#111111" stroke-width="0.14" textLength="14.59" lengthAdjust="spacingAndGlyphs">−1</text>
<text x="568.4" y="416.4" font-size="10.4" text-anchor="middle" fill="#111111" stroke="#111111" stroke-width="0.14" textLength="6.3" lengthAdjust="spacingAndGlyphs">0</text>
<text x="594" y="416.4" font-size="10.4" text-anchor="middle" fill="#111111" stroke="#111111" stroke-width="0.14" textLength="6.3" lengthAdjust="spacingAndGlyphs">1</text>
<text x="664.8" y="482.6" font-size="10.4" text-anchor="start" fill="#111111" stroke="#111111" stroke-width="0.14" textLength="6.3" lengthAdjust="spacingAndGlyphs">1</text>
<text x="664.8" y="504.4" font-size="10.4" text-anchor="start" fill="#111111" stroke="#111111" stroke-width="0.14" textLength="6.3" lengthAdjust="spacingAndGlyphs">0</text>
<text x="664.8" y="525.7" font-size="10.4" text-anchor="start" fill="#111111" stroke="#111111" stroke-width="0.14" textLength="14.59" lengthAdjust="spacingAndGlyphs">−1</text>
<path d="M540.5 535.5v5.5M568.5 535.5v5.5M597.5 535.5v5.5M526.4 476.5h-5.5M526.4 497.5h-5.5M526.4 519.5h-5.5M542.5 429.4v-5.6M568.5 429.4v-5.6M594.5 429.4v-5.6M653 478.5h5.3M653 500.5h5.3M653 521.5h5.3" fill="none" stroke="#000" stroke-width="1.25"/>
<text x="487.8" y="500.7" font-size="11.2" text-anchor="middle" fill="#111111" stroke="#111111" stroke-width="0.1" textLength="42.8" lengthAdjust="spacingAndGlyphs" transform="rotate(-90 487.8 500.7)">SST (°C)</text>
</g>
<g>
<path d="M100.4 649.3 L100.4 649.3 L101 649.3 L101.6 649.3 L102.2 649.3 L102.8 649.3 L103.4 649.3 L104 649.3 L104.6 649.3 L105.2 649.3 L105.8 649.3 L106.4 649.3 L107 649.3 L107.6 649.3 L108.2 649.3 L108.8 649.3 L109.4 649.3 L110 649.3 L110.6 649.3 L111.2 649.3 L111.8 649.3 L112.4 649.3 L113 649.3 L113.6 649.29 L114.2 649.28 L114.8 649.25 L115.4 649.19 L116 649.07 L116.6 648.84 L117.2 648.44 L117.8 647.78 L118.4 646.76 L119 645.27 L119.6 643.23 L120.2 640.6 L120.8 637.43 L121.4 633.83 L122 630.03 L122.6 626.3 L123.2 622.94 L123.8 620.22 L124.4 618.31 L125 617.27 L125.6 617 L126.2 617.27 L126.8 618.31 L127.4 620.22 L128 622.94 L128.6 626.3 L129.2 630.03 L129.8 633.83 L130.4 637.43 L131 640.6 L131.6 643.23 L132.2 645.27 L132.8 646.76 L133.4 647.78 L134 648.44 L134.6 648.84 L135.2 649.07 L135.8 649.19 L136.4 649.25 L137 649.28 L137.6 649.29 L138.2 649.3 L138.8 649.3 L139.4 649.3 L140 649.3 L140.6 649.3 L141.2 649.3 L141.8 649.3 L142.4 649.3 L143 649.3 L143.6 649.3 L144.2 649.3 L144.8 649.3 L145.4 649.3 L146 649.3 L146.6 649.3 L147.2 649.3 L147.8 649.3 L148.4 649.3 L149 649.3 L149.6 649.3 L150.2 649.3 L150.8 649.3 L151.4 649.3 L152 649.3 L152.6 649.3 L153.2 649.3 L153.8 649.3 L154.4 649.3 L155 649.3 L155.6 649.3 L156.2 649.3 L156.8 649.3 L157.4 649.3 L158 649.3 L158.6 649.3 L159.2 649.3 L159.8 649.3 L160.4 649.3 L161 649.3 L161.6 649.3 L162.2 649.3 L162.8 649.3 L163.4 649.3 L164 649.3 L164.6 649.3 L165.2 649.3 L165.8 649.3 L166.4 649.3 L167 649.3 L167.6 649.3 L168.2 649.3 L168.8 649.3 L169.4 649.3 L170 649.3 L170.6 649.3 L171.2 649.3 L171.8 649.3 L172.4 649.3 L173 649.3 L173.6 649.3 L174.2 649.3 L174.8 649.3 L175.4 649.3 L176 649.3 L176.6 649.3 L177.2 649.3 L177.8 649.3 L178.4 649.3 L179 649.3 L179 649.3Z" fill="#fdf7cf" fill-opacity="0.85" stroke="none"/>
<path d="M100.4 649.3 L100.4 649.3 L101 649.3 L101.6 649.3 L102.2 649.3 L102.8 649.3 L103.4 649.3 L104 649.3 L104.6 649.3 L105.2 649.3 L105.8 649.3 L106.4 649.3 L107 649.3 L107.6 649.3 L108.2 649.3 L108.8 649.3 L109.4 649.3 L110 649.3 L110.6 649.3 L111.2 649.3 L111.8 649.3 L112.4 649.3 L113 649.3 L113.6 649.3 L114.2 649.3 L114.8 649.3 L115.4 649.3 L116 649.3 L116.6 649.3 L117.2 649.3 L117.8 649.3 L118.4 649.3 L119 649.3 L119.6 649.3 L120.2 649.3 L120.8 649.3 L121.4 649.3 L122 649.3 L122.6 649.3 L123.2 649.3 L123.8 649.3 L124.4 649.3 L125 649.3 L125.6 649.3 L126.2 649.3 L126.8 649.3 L127.4 649.3 L128 649.3 L128.6 649.3 L129.2 649.3 L129.8 649.3 L130.4 649.3 L131 649.3 L131.6 649.3 L132.2 649.3 L132.8 649.3 L133.4 649.3 L134 649.3 L134.6 649.3 L135.2 649.3 L135.8 649.3 L136.4 649.3 L137 649.3 L137.6 649.3 L138.2 649.3 L138.8 649.3 L139.4 649.3 L140 649.3 L140.6 649.3 L141.2 649.29 L141.8 649.28 L142.4 649.26 L143 649.21 L143.6 649.12 L144.2 648.93 L144.8 648.6 L145.4 648.04 L146 647.15 L146.6 645.83 L147.2 643.98 L147.8 641.54 L148.4 638.54 L149 635.06 L149.6 631.3 L150.2 627.51 L150.8 624 L151.4 621.04 L152 618.85 L152.6 617.52 L153.2 617.02 L153.8 617.11 L154.4 617.86 L155 619.48 L155.6 621.95 L156.2 625.12 L156.8 628.76 L157.4 632.57 L158 636.26 L158.6 639.6 L159.2 642.42 L159.8 644.66 L160.4 646.32 L161 647.49 L161.6 648.25 L162.2 648.73 L162.8 649 L163.4 649.16 L164 649.23 L164.6 649.27 L165.2 649.29 L165.8 649.3 L166.4 649.3 L167 649.3 L167.6 649.3 L168.2 649.3 L168.8 649.3 L169.4 649.3 L170 649.3 L170.6 649.3 L171.2 649.3 L171.8 649.3 L172.4 649.3 L173 649.3 L173.6 649.3 L174.2 649.3 L174.8 649.3 L175.4 649.3 L176 649.3 L176.6 649.3 L177.2 649.3 L177.8 649.3 L178.4 649.3 L179 649.3 L179 649.3Z" fill="#d9ead6" fill-opacity="0.85" stroke="none"/>
<path d="M100.4 648.95 L101 648.95 L101.6 648.95 L102.2 648.95 L102.8 648.95 L103.4 648.95 L104 648.95 L104.6 648.95 L105.2 648.95 L105.8 648.95 L106.4 648.95 L107 648.95 L107.6 648.95 L108.2 648.95 L108.8 648.95 L109.4 648.95 L110 648.95 L110.6 648.95 L111.2 648.95 L111.8 648.95 L112.4 648.95 L113 648.95 L113.6 648.94 L114.2 648.93 L114.8 648.9 L115.4 648.84 L116 648.72 L116.6 648.49 L117.2 648.1 L117.8 647.45 L118.4 646.44 L119 644.96 L119.6 642.95 L120.2 640.35 L120.8 637.2 L121.4 633.65 L122 629.89 L122.6 626.2 L123.2 622.88 L123.8 620.18 L124.4 618.29 L125 617.27 L125.6 617 L126.2 617.27 L126.8 618.29 L127.4 620.18 L128 622.88 L128.6 626.2 L129.2 629.89 L129.8 633.65 L130.4 637.2 L131 640.35 L131.6 642.95 L132.2 644.96 L132.8 646.44 L133.4 647.45 L134 648.1 L134.6 648.49 L135.2 648.72 L135.8 648.84 L136.4 648.9 L137 648.93 L137.6 648.94 L138.2 648.95 L138.8 648.95 L139.4 648.95 L140 648.95 L140.6 648.95 L141.2 648.95 L141.8 648.95 L142.4 648.95 L143 648.95 L143.6 648.95 L144.2 648.95 L144.8 648.95 L145.4 648.95 L146 648.95 L146.6 648.95 L147.2 648.95 L147.8 648.95 L148.4 648.95 L149 648.95 L149.6 648.95 L150.2 648.95 L150.8 648.95 L151.4 648.95 L152 648.95 L152.6 648.95 L153.2 648.95 L153.8 648.95 L154.4 648.95 L155 648.95 L155.6 648.95 L156.2 648.95 L156.8 648.95 L157.4 648.95 L158 648.95 L158.6 648.95 L159.2 648.95 L159.8 648.95 L160.4 648.95 L161 648.95 L161.6 648.95 L162.2 648.95 L162.8 648.95 L163.4 648.95 L164 648.95 L164.6 648.95 L165.2 648.95 L165.8 648.95 L166.4 648.95 L167 648.95 L167.6 648.95 L168.2 648.95 L168.8 648.95 L169.4 648.95 L170 648.95 L170.6 648.95 L171.2 648.95 L171.8 648.95 L172.4 648.95 L173 648.95 L173.6 648.95 L174.2 648.95 L174.8 648.95 L175.4 648.95 L176 648.95 L176.6 648.95 L177.2 648.95 L177.8 648.95 L178.4 648.95 L179 648.95" fill="none" stroke="#b5b82a" stroke-width="2.2" stroke-linejoin="round"/>
<path d="M100.4 649.4 L101 649.4 L101.6 649.4 L102.2 649.4 L102.8 649.4 L103.4 649.4 L104 649.4 L104.6 649.4 L105.2 649.4 L105.8 649.4 L106.4 649.4 L107 649.4 L107.6 649.4 L108.2 649.4 L108.8 649.4 L109.4 649.4 L110 649.4 L110.6 649.4 L111.2 649.4 L111.8 649.4 L112.4 649.4 L113 649.4 L113.6 649.4 L114.2 649.4 L114.8 649.4 L115.4 649.4 L116 649.4 L116.6 649.4 L117.2 649.4 L117.8 649.4 L118.4 649.4 L119 649.4 L119.6 649.4 L120.2 649.4 L120.8 649.4 L121.4 649.4 L122 649.4 L122.6 649.4 L123.2 649.4 L123.8 649.4 L124.4 649.4 L125 649.4 L125.6 649.4 L126.2 649.4 L126.8 649.4 L127.4 649.4 L128 649.4 L128.6 649.4 L129.2 649.4 L129.8 649.4 L130.4 649.4 L131 649.4 L131.6 649.4 L132.2 649.4 L132.8 649.4 L133.4 649.4 L134 649.4 L134.6 649.4 L135.2 649.4 L135.8 649.4 L136.4 649.4 L137 649.4 L137.6 649.4 L138.2 649.4 L138.8 649.4 L139.4 649.4 L140 649.4 L140.6 649.4 L141.2 649.39 L141.8 649.38 L142.4 649.36 L143 649.31 L143.6 649.22 L144.2 649.03 L144.8 648.69 L145.4 648.13 L146 647.24 L146.6 645.91 L147.2 644.06 L147.8 641.62 L148.4 638.61 L149 635.12 L149.6 631.34 L150.2 627.55 L150.8 624.02 L151.4 621.05 L152 618.85 L152.6 617.52 L153.2 617.02 L153.8 617.11 L154.4 617.87 L155 619.49 L155.6 621.97 L156.2 625.15 L156.8 628.8 L157.4 632.62 L158 636.32 L158.6 639.67 L159.2 642.5 L159.8 644.74 L160.4 646.41 L161 647.58 L161.6 648.35 L162.2 648.83 L162.8 649.1 L163.4 649.26 L164 649.33 L164.6 649.37 L165.2 649.39 L165.8 649.4 L166.4 649.4 L167 649.4 L167.6 649.4 L168.2 649.4 L168.8 649.4 L169.4 649.4 L170 649.4 L170.6 649.4 L171.2 649.4 L171.8 649.4 L172.4 649.4 L173 649.4 L173.6 649.4 L174.2 649.4 L174.8 649.4 L175.4 649.4 L176 649.4 L176.6 649.4 L177.2 649.4 L177.8 649.4 L178.4 649.4 L179 649.4" fill="none" stroke="#2c8a1e" stroke-width="2.2" stroke-linejoin="round"/>
<path d="M184 654 L184 654 L184 654.4 L184 654.8 L184 655.21 L184 655.61 L184 656.01 L184 656.41 L184 656.81 L184 657.21 L184 657.62 L184 658.02 L184 658.42 L184 658.82 L184 659.22 L184 659.63 L184 660.03 L184 660.43 L184 660.83 L184 661.23 L184 661.64 L184 662.04 L184 662.44 L184 662.84 L184 663.24 L184 663.64 L184 664.05 L184 664.45 L184 664.85 L184 665.25 L184 665.65 L184 666.06 L184 666.46 L184 666.86 L184 667.26 L184 667.66 L184 668.06 L184 668.47 L184 668.87 L184 669.27 L184 669.67 L184 670.07 L184 670.48 L184 670.88 L184 671.28 L184 671.68 L184 672.08 L184 672.49 L184 672.89 L184 673.29 L184 673.69 L184 674.09 L184 674.49 L184 674.9 L184 675.3 L184 675.7 L184 676.1 L184 676.5 L184 676.91 L184 677.31 L184.01 677.71 L184.01 678.11 L184.02 678.51 L184.04 678.91 L184.08 679.32 L184.15 679.72 L184.26 680.12 L184.44 680.52 L184.73 680.92 L185.18 681.33 L185.84 681.73 L186.79 682.13 L188.1 682.53 L189.84 682.93 L192.08 683.34 L194.83 683.74 L198.09 684.14 L201.78 684.54 L205.76 684.94 L209.82 685.34 L213.73 685.75 L217.2 686.15 L219.96 686.55 L221.78 686.95 L222.49 687.35 L222.04 687.76 L220.47 688.16 L217.91 688.56 L214.58 688.96 L210.75 689.36 L206.69 689.76 L202.67 690.17 L198.91 690.57 L195.54 690.97 L192.67 691.37 L190.31 691.77 L188.46 692.18 L187.05 692.58 L186.03 692.98 L185.31 693.38 L184.82 693.78 L184.5 694.19 L184.29 694.59 L184.17 694.99 L184.09 695.39 L184.05 695.79 L184.03 696.19 L184.01 696.6 L184.01 697 L184 697.4 L184 697.8 L184 698.2 L184 698.61 L184 699.01 L184 699.41 L184 699.81 L184 700.21 L184 700.61 L184 701.02 L184 701.42 L184 701.82 L184 702.22 L184 702.62 L184 703.03 L184 703.43 L184 703.83 L184 704.23 L184 704.63 L184 705.04 L184 705.44 L184 705.84 L184 706.24 L184 706.64 L184 707.04 L184 707.45 L184 707.85 L184 708.25 L184 708.65 L184 709.05 L184 709.46 L184 709.86 L184 710.26 L184 710.66 L184 711.06 L184 711.46 L184 711.87 L184 712.27 L184 712.67 L184 713.07 L184 713.47 L184 713.88 L184 714.28 L184 714.68 L184 715.08 L184 715.48 L184 715.89 L184 716.29 L184 716.69 L184 717.09 L184 717.49 L184 717.89 L184 718.3 L184 718.7 L184 719.1 L184 719.1Z" fill="#fdf7cf" fill-opacity="0.85" stroke="none"/>
<path d="M184 654 L184 654 L184 654.4 L184 654.8 L184 655.21 L184 655.61 L184 656.01 L184 656.41 L184 656.81 L184 657.21 L184 657.62 L184 658.02 L184 658.42 L184 658.82 L184 659.22 L184 659.63 L184 660.03 L184 660.43 L184 660.83 L184 661.23 L184 661.64 L184 662.04 L184 662.44 L184 662.84 L184 663.24 L184 663.64 L184 664.05 L184 664.45 L184 664.85 L184 665.25 L184 665.65 L184 666.06 L184 666.46 L184 666.86 L184 667.26 L184 667.66 L184 668.06 L184 668.47 L184 668.87 L184 669.27 L184 669.67 L184 670.07 L184 670.48 L184 670.88 L184 671.28 L184 671.68 L184 672.08 L184 672.49 L184 672.89 L184 673.29 L184 673.69 L184 674.09 L184 674.49 L184 674.9 L184 675.3 L184 675.7 L184 676.1 L184 676.5 L184 676.91 L184 677.31 L184 677.71 L184 678.11 L184 678.51 L184 678.91 L184.01 679.32 L184.02 679.72 L184.05 680.12 L184.12 680.52 L184.23 680.92 L184.45 681.33 L184.82 681.73 L185.44 682.13 L186.42 682.53 L187.9 682.93 L189.99 683.34 L192.81 683.74 L196.39 684.14 L200.66 684.54 L205.42 684.94 L210.34 685.34 L214.97 685.75 L218.82 686.15 L221.44 686.55 L222.49 686.95 L221.84 687.35 L219.57 687.76 L215.98 688.16 L211.49 688.56 L206.6 688.96 L201.77 689.36 L197.36 689.76 L193.6 690.17 L190.6 690.57 L188.34 690.97 L186.73 691.37 L185.64 691.77 L184.94 692.18 L184.52 692.58 L184.27 692.98 L184.14 693.38 L184.07 693.78 L184.03 694.19 L184.01 694.59 L184.01 694.99 L184 695.39 L184 695.79 L184 696.19 L184 696.6 L184 697 L184 697.4 L184 697.8 L184 698.2 L184 698.61 L184 699.01 L184 699.41 L184 699.81 L184 700.21 L184 700.61 L184 701.02 L184 701.42 L184 701.82 L184 702.22 L184 702.62 L184 703.03 L184 703.43 L184 703.83 L184 704.23 L184 704.63 L184 705.04 L184 705.44 L184 705.84 L184 706.24 L184 706.64 L184 707.04 L184 707.45 L184 707.85 L184 708.25 L184 708.65 L184 709.05 L184 709.46 L184 709.86 L184 710.26 L184 710.66 L184 711.06 L184 711.46 L184 711.87 L184 712.27 L184 712.67 L184 713.07 L184 713.47 L184 713.88 L184 714.28 L184 714.68 L184 715.08 L184 715.48 L184 715.89 L184 716.29 L184 716.69 L184 717.09 L184 717.49 L184 717.89 L184 718.3 L184 718.7 L184 719.1 L184 719.1Z" fill="#d9ead6" fill-opacity="0.85" stroke="none"/>
<path d="M184.3 654 L184.3 654.4 L184.3 654.8 L184.3 655.21 L184.3 655.61 L184.3 656.01 L184.3 656.41 L184.3 656.81 L184.3 657.21 L184.3 657.62 L184.3 658.02 L184.3 658.42 L184.3 658.82 L184.3 659.22 L184.3 659.63 L184.3 660.03 L184.3 660.43 L184.3 660.83 L184.3 661.23 L184.3 661.64 L184.3 662.04 L184.3 662.44 L184.3 662.84 L184.3 663.24 L184.3 663.64 L184.3 664.05 L184.3 664.45 L184.3 664.85 L184.3 665.25 L184.3 665.65 L184.3 666.06 L184.3 666.46 L184.3 666.86 L184.3 667.26 L184.3 667.66 L184.3 668.06 L184.3 668.47 L184.3 668.87 L184.3 669.27 L184.3 669.67 L184.3 670.07 L184.3 670.48 L184.3 670.88 L184.3 671.28 L184.3 671.68 L184.3 672.08 L184.3 672.49 L184.3 672.89 L184.3 673.29 L184.3 673.69 L184.3 674.09 L184.3 674.49 L184.3 674.9 L184.3 675.3 L184.3 675.7 L184.3 676.1 L184.3 676.5 L184.3 676.91 L184.3 677.31 L184.31 677.71 L184.31 678.11 L184.32 678.51 L184.34 678.91 L184.38 679.32 L184.44 679.72 L184.56 680.12 L184.74 680.52 L185.03 680.92 L185.47 681.33 L186.13 681.73 L187.07 682.13 L188.37 682.53 L190.1 682.93 L192.31 683.34 L195.05 683.74 L198.28 684.14 L201.94 684.54 L205.89 684.94 L209.92 685.34 L213.8 685.75 L217.24 686.15 L219.98 686.55 L221.78 686.95 L222.49 687.35 L222.05 687.76 L220.48 688.16 L217.94 688.56 L214.64 688.96 L210.84 689.36 L206.82 689.76 L202.83 690.17 L199.09 690.57 L195.75 690.97 L192.9 691.37 L190.56 691.77 L188.72 692.18 L187.33 692.58 L186.31 692.98 L185.6 693.38 L185.11 693.78 L184.79 694.19 L184.59 694.59 L184.47 694.99 L184.39 695.39 L184.35 695.79 L184.33 696.19 L184.31 696.6 L184.31 697 L184.3 697.4 L184.3 697.8 L184.3 698.2 L184.3 698.61 L184.3 699.01 L184.3 699.41 L184.3 699.81 L184.3 700.21 L184.3 700.61 L184.3 701.02 L184.3 701.42 L184.3 701.82 L184.3 702.22 L184.3 702.62 L184.3 703.03 L184.3 703.43 L184.3 703.83 L184.3 704.23 L184.3 704.63 L184.3 705.04 L184.3 705.44 L184.3 705.84 L184.3 706.24 L184.3 706.64 L184.3 707.04 L184.3 707.45 L184.3 707.85 L184.3 708.25 L184.3 708.65 L184.3 709.05 L184.3 709.46 L184.3 709.86 L184.3 710.26 L184.3 710.66 L184.3 711.06 L184.3 711.46 L184.3 711.87 L184.3 712.27 L184.3 712.67 L184.3 713.07 L184.3 713.47 L184.3 713.88 L184.3 714.28 L184.3 714.68 L184.3 715.08 L184.3 715.48 L184.3 715.89 L184.3 716.29 L184.3 716.69 L184.3 717.09 L184.3 717.49 L184.3 717.89 L184.3 718.3 L184.3 718.7 L184.3 719.1" fill="none" stroke="#b5b82a" stroke-width="1.85" stroke-linejoin="round"/>
<path d="M183.9 654 L183.9 654.4 L183.9 654.8 L183.9 655.21 L183.9 655.61 L183.9 656.01 L183.9 656.41 L183.9 656.81 L183.9 657.21 L183.9 657.62 L183.9 658.02 L183.9 658.42 L183.9 658.82 L183.9 659.22 L183.9 659.63 L183.9 660.03 L183.9 660.43 L183.9 660.83 L183.9 661.23 L183.9 661.64 L183.9 662.04 L183.9 662.44 L183.9 662.84 L183.9 663.24 L183.9 663.64 L183.9 664.05 L183.9 664.45 L183.9 664.85 L183.9 665.25 L183.9 665.65 L183.9 666.06 L183.9 666.46 L183.9 666.86 L183.9 667.26 L183.9 667.66 L183.9 668.06 L183.9 668.47 L183.9 668.87 L183.9 669.27 L183.9 669.67 L183.9 670.07 L183.9 670.48 L183.9 670.88 L183.9 671.28 L183.9 671.68 L183.9 672.08 L183.9 672.49 L183.9 672.89 L183.9 673.29 L183.9 673.69 L183.9 674.09 L183.9 674.49 L183.9 674.9 L183.9 675.3 L183.9 675.7 L183.9 676.1 L183.9 676.5 L183.9 676.91 L183.9 677.31 L183.9 677.71 L183.9 678.11 L183.9 678.51 L183.9 678.91 L183.91 679.32 L183.92 679.72 L183.95 680.12 L184.02 680.52 L184.13 680.92 L184.35 681.33 L184.72 681.73 L185.34 682.13 L186.33 682.53 L187.81 682.93 L189.91 683.34 L192.73 683.74 L196.32 684.14 L200.6 684.54 L205.38 684.94 L210.31 685.34 L214.95 685.75 L218.81 686.15 L221.43 686.55 L222.49 686.95 L221.84 687.35 L219.57 687.76 L215.96 688.16 L211.46 688.56 L206.56 688.96 L201.71 689.36 L197.29 689.76 L193.52 690.17 L190.52 690.57 L188.25 690.97 L186.63 691.37 L185.54 691.77 L184.84 692.18 L184.42 692.58 L184.17 692.98 L184.04 693.38 L183.97 693.78 L183.93 694.19 L183.91 694.59 L183.91 694.99 L183.9 695.39 L183.9 695.79 L183.9 696.19 L183.9 696.6 L183.9 697 L183.9 697.4 L183.9 697.8 L183.9 698.2 L183.9 698.61 L183.9 699.01 L183.9 699.41 L183.9 699.81 L183.9 700.21 L183.9 700.61 L183.9 701.02 L183.9 701.42 L183.9 701.82 L183.9 702.22 L183.9 702.62 L183.9 703.03 L183.9 703.43 L183.9 703.83 L183.9 704.23 L183.9 704.63 L183.9 705.04 L183.9 705.44 L183.9 705.84 L183.9 706.24 L183.9 706.64 L183.9 707.04 L183.9 707.45 L183.9 707.85 L183.9 708.25 L183.9 708.65 L183.9 709.05 L183.9 709.46 L183.9 709.86 L183.9 710.26 L183.9 710.66 L183.9 711.06 L183.9 711.46 L183.9 711.87 L183.9 712.27 L183.9 712.67 L183.9 713.07 L183.9 713.47 L183.9 713.88 L183.9 714.28 L183.9 714.68 L183.9 715.08 L183.9 715.48 L183.9 715.89 L183.9 716.29 L183.9 716.69 L183.9 717.09 L183.9 717.49 L183.9 717.89 L183.9 718.3 L183.9 718.7 L183.9 719.1" fill="none" stroke="#2c8a1e" stroke-width="1.85" stroke-linejoin="round"/>
<ellipse cx="128.7" cy="688.9" rx="30.6" ry="14.01" transform="rotate(40 128.7 688.9)" fill="none" stroke="#9e9ea5" stroke-width="1.45" stroke-dasharray="5 3.1"/>
<ellipse cx="146.6" cy="685.2" rx="35.75" ry="18.59" transform="rotate(45 146.6 685.2)" fill="none" stroke="#9e9ea5" stroke-width="1.45" stroke-dasharray="5 3.1"/>
<ellipse cx="128.7" cy="688.9" rx="8.21" ry="3.57" transform="rotate(40 128.7 688.9)" fill="none" stroke="#ecedbd" stroke-width="1.75"/>
<ellipse cx="128.7" cy="688.9" rx="12.31" ry="5.36" transform="rotate(40 128.7 688.9)" fill="none" stroke="#dcde92" stroke-width="1.75"/>
<ellipse cx="128.7" cy="688.9" rx="16.63" ry="7.24" transform="rotate(40 128.7 688.9)" fill="none" stroke="#c9cc62" stroke-width="1.75"/>
<ellipse cx="128.7" cy="688.9" rx="21.6" ry="9.4" transform="rotate(40 128.7 688.9)" fill="none" stroke="#b7ba2e" stroke-width="2.05"/>
<ellipse cx="146.6" cy="685.2" rx="11.09" ry="5.57" transform="rotate(45 146.6 685.2)" fill="none" stroke="#8fc489" stroke-width="1.75"/>
<ellipse cx="146.6" cy="685.2" rx="16.87" ry="8.47" transform="rotate(45 146.6 685.2)" fill="none" stroke="#5fa757" stroke-width="1.75"/>
<ellipse cx="146.6" cy="685.2" rx="24.1" ry="12.1" transform="rotate(45 146.6 685.2)" fill="none" stroke="#338f29" stroke-width="2.05"/>
<path d="M97.4 615.4H182V651H224V721.6H97.4V615.4H97.4Z" fill="none" stroke="#000" stroke-width="1.35"/>
<path d="M97.4 651H182M182 651V721.6" fill="none" stroke="#000" stroke-width="1.35"/>
<text x="111.6" y="741.7" font-size="10.4" text-anchor="middle" fill="#111111" stroke="#111111" stroke-width="0.14" textLength="12.59" lengthAdjust="spacingAndGlyphs">21</text>
<text x="143.4" y="741.7" font-size="10.4" text-anchor="middle" fill="#111111" stroke="#111111" stroke-width="0.14" textLength="12.59" lengthAdjust="spacingAndGlyphs">23</text>
<text x="175" y="741.7" font-size="10.4" text-anchor="middle" fill="#111111" stroke="#111111" stroke-width="0.14" textLength="12.59" lengthAdjust="spacingAndGlyphs">25</text>
<text x="85.8" y="675.2" font-size="10.4" text-anchor="end" fill="#111111" stroke="#111111" stroke-width="0.14" textLength="15.74" lengthAdjust="spacingAndGlyphs">3.0</text>
<text x="85.8" y="692.2" font-size="10.4" text-anchor="end" fill="#111111" stroke="#111111" stroke-width="0.14" textLength="15.74" lengthAdjust="spacingAndGlyphs">2.5</text>
<text x="85.8" y="708.8" font-size="10.4" text-anchor="end" fill="#111111" stroke="#111111" stroke-width="0.14" textLength="15.74" lengthAdjust="spacingAndGlyphs">2.0</text>
<text x="85.8" y="725.4" font-size="10.4" text-anchor="end" fill="#111111" stroke="#111111" stroke-width="0.14" textLength="15.74" lengthAdjust="spacingAndGlyphs">1.5</text>
<text x="112.8" y="602.4" font-size="10.4" text-anchor="middle" fill="#111111" stroke="#111111" stroke-width="0.14" textLength="14.59" lengthAdjust="spacingAndGlyphs">−1</text>
<text x="139.6" y="602.4" font-size="10.4" text-anchor="middle" fill="#111111" stroke="#111111" stroke-width="0.14" textLength="6.3" lengthAdjust="spacingAndGlyphs">0</text>
<text x="165" y="602.4" font-size="10.4" text-anchor="middle" fill="#111111" stroke="#111111" stroke-width="0.14" textLength="6.3" lengthAdjust="spacingAndGlyphs">1</text>
<text x="235.8" y="669.4" font-size="10.4" text-anchor="start" fill="#111111" stroke="#111111" stroke-width="0.14" textLength="6.3" lengthAdjust="spacingAndGlyphs">1</text>
<text x="235.8" y="690.8" font-size="10.4" text-anchor="start" fill="#111111" stroke="#111111" stroke-width="0.14" textLength="6.3" lengthAdjust="spacingAndGlyphs">0</text>
<text x="235.8" y="712.2" font-size="10.4" text-anchor="start" fill="#111111" stroke="#111111" stroke-width="0.14" textLength="14.59" lengthAdjust="spacingAndGlyphs">−1</text>
<path d="M111.5 721.6v5.5M143.5 721.6v5.5M175.5 721.6v5.5M97.4 671.5h-5.5M97.4 688.5h-5.5M97.4 705.5h-5.5M97.4 721.5h-5.5M114.5 615.4v-5.6M139.5 615.4v-5.6M165.5 615.4v-5.6M224 665.5h5.3M224 687.5h5.3M224 708.5h5.3" fill="none" stroke="#000" stroke-width="1.25"/>
<text x="139" y="764.5" font-size="10.8" text-anchor="middle" fill="#111111" stroke="#111111" stroke-width="0.14" textLength="44.5" lengthAdjust="spacingAndGlyphs">T2M (°C)</text>
<text x="54.5" y="686.3" font-size="10.6" text-anchor="middle" fill="#111111" stroke="#111111" stroke-width="0.1" textLength="107.6" lengthAdjust="spacingAndGlyphs" transform="rotate(-90 54.5 686.3)">Accum. precip. (mm)</text>
</g>
<g>
<path d="M280.4 650.3 L280.4 650.3 L281 650.3 L281.6 650.3 L282.2 650.3 L282.8 650.3 L283.4 650.3 L284 650.3 L284.6 650.3 L285.2 650.3 L285.8 650.3 L286.4 650.3 L287 650.3 L287.6 650.3 L288.2 650.3 L288.8 650.3 L289.4 650.3 L290 650.3 L290.6 650.3 L291.2 650.3 L291.8 650.3 L292.4 650.3 L293 650.3 L293.6 650.3 L294.2 650.3 L294.8 650.3 L295.4 650.3 L296 650.3 L296.6 650.3 L297.2 650.3 L297.8 650.3 L298.4 650.3 L299 650.3 L299.6 650.29 L300.2 650.25 L300.8 650.15 L301.4 649.86 L302 649.2 L302.6 647.83 L303.2 645.41 L303.8 641.68 L304.4 636.69 L305 630.95 L305.6 625.36 L306.2 620.91 L306.8 618.3 L307.4 617.6 L308 618.3 L308.6 620.91 L309.2 625.36 L309.8 630.95 L310.4 636.69 L311 641.68 L311.6 645.41 L312.2 647.83 L312.8 649.2 L313.4 649.86 L314 650.15 L314.6 650.25 L315.2 650.29 L315.8 650.3 L316.4 650.3 L317 650.3 L317.6 650.3 L318.2 650.3 L318.8 650.3 L319.4 650.3 L320 650.3 L320.6 650.3 L321.2 650.3 L321.8 650.3 L322.4 650.3 L323 650.3 L323.6 650.3 L324.2 650.3 L324.8 650.3 L325.4 650.3 L326 650.3 L326.6 650.3 L327.2 650.3 L327.8 650.3 L328.4 650.3 L329 650.3 L329.6 650.3 L330.2 650.3 L330.8 650.3 L331.4 650.3 L332 650.3 L332.6 650.3 L333.2 650.3 L333.8 650.3 L334.4 650.3 L335 650.3 L335.6 650.3 L336.2 650.3 L336.8 650.3 L337.4 650.3 L338 650.3 L338.6 650.3 L339.2 650.3 L339.8 650.3 L340.4 650.3 L341 650.3 L341.6 650.3 L342.2 650.3 L342.8 650.3 L343.4 650.3 L344 650.3 L344.6 650.3 L345.2 650.3 L345.8 650.3 L346.4 650.3 L347 650.3 L347.6 650.3 L348.2 650.3 L348.8 650.3 L349.4 650.3 L350 650.3 L350.6 650.3 L351.2 650.3 L351.8 650.3 L352.4 650.3 L353 650.3 L353.6 650.3 L354.2 650.3 L354.8 650.3 L355.4 650.3 L356 650.3 L356.6 650.3 L357.2 650.3 L357.8 650.3 L358.4 650.3 L359 650.3 L359 650.3Z" fill="#fdf7cf" fill-opacity="0.85" stroke="none"/>
<path d="M280.4 650.3 L280.4 650.3 L281 650.3 L281.6 650.3 L282.2 650.3 L282.8 650.3 L283.4 650.3 L284 650.3 L284.6 650.3 L285.2 650.3 L285.8 650.3 L286.4 650.3 L287 650.3 L287.6 650.3 L288.2 650.3 L288.8 650.3 L289.4 650.3 L290 650.3 L290.6 650.3 L291.2 650.3 L291.8 650.3 L292.4 650.3 L293 650.3 L293.6 650.3 L294.2 650.3 L294.8 650.3 L295.4 650.3 L296 650.3 L296.6 650.3 L297.2 650.3 L297.8 650.3 L298.4 650.3 L299 650.3 L299.6 650.3 L300.2 650.3 L300.8 650.3 L301.4 650.3 L302 650.3 L302.6 650.3 L303.2 650.3 L303.8 650.3 L304.4 650.3 L305 650.3 L305.6 650.3 L306.2 650.3 L306.8 650.3 L307.4 650.3 L308 650.3 L308.6 650.3 L309.2 650.3 L309.8 650.3 L310.4 650.3 L311 650.3 L311.6 650.3 L312.2 650.3 L312.8 650.3 L313.4 650.3 L314 650.3 L314.6 650.3 L315.2 650.3 L315.8 650.3 L316.4 650.3 L317 650.3 L317.6 650.3 L318.2 650.3 L318.8 650.3 L319.4 650.3 L320 650.3 L320.6 650.3 L321.2 650.3 L321.8 650.3 L322.4 650.3 L323 650.3 L323.6 650.29 L324.2 650.25 L324.8 650.15 L325.4 649.86 L326 649.2 L326.6 647.83 L327.2 645.41 L327.8 641.68 L328.4 636.69 L329 630.95 L329.6 625.36 L330.2 620.91 L330.8 618.3 L331.4 617.6 L332 618.3 L332.6 620.91 L333.2 625.36 L333.8 630.95 L334.4 636.69 L335 641.68 L335.6 645.41 L336.2 647.83 L336.8 649.2 L337.4 649.86 L338 650.15 L338.6 650.25 L339.2 650.29 L339.8 650.3 L340.4 650.3 L341 650.3 L341.6 650.3 L342.2 650.3 L342.8 650.3 L343.4 650.3 L344 650.3 L344.6 650.3 L345.2 650.3 L345.8 650.3 L346.4 650.3 L347 650.3 L347.6 650.3 L348.2 650.3 L348.8 650.3 L349.4 650.3 L350 650.3 L350.6 650.3 L351.2 650.3 L351.8 650.3 L352.4 650.3 L353 650.3 L353.6 650.3 L354.2 650.3 L354.8 650.3 L355.4 650.3 L356 650.3 L356.6 650.3 L357.2 650.3 L357.8 650.3 L358.4 650.3 L359 650.3 L359 650.3Z" fill="#d9ead6" fill-opacity="0.85" stroke="none"/>
<path d="M280.4 649.95 L281 649.95 L281.6 649.95 L282.2 649.95 L282.8 649.95 L283.4 649.95 L284 649.95 L284.6 649.95 L285.2 649.95 L285.8 649.95 L286.4 649.95 L287 649.95 L287.6 649.95 L288.2 649.95 L288.8 649.95 L289.4 649.95 L290 649.95 L290.6 649.95 L291.2 649.95 L291.8 649.95 L292.4 649.95 L293 649.95 L293.6 649.95 L294.2 649.95 L294.8 649.95 L295.4 649.95 L296 649.95 L296.6 649.95 L297.2 649.95 L297.8 649.95 L298.4 649.95 L299 649.95 L299.6 649.94 L300.2 649.9 L300.8 649.8 L301.4 649.52 L302 648.86 L302.6 647.51 L303.2 645.12 L303.8 641.42 L304.4 636.49 L305 630.81 L305.6 625.27 L306.2 620.87 L306.8 618.29 L307.4 617.6 L308 618.29 L308.6 620.87 L309.2 625.27 L309.8 630.81 L310.4 636.49 L311 641.42 L311.6 645.12 L312.2 647.51 L312.8 648.86 L313.4 649.52 L314 649.8 L314.6 649.9 L315.2 649.94 L315.8 649.95 L316.4 649.95 L317 649.95 L317.6 649.95 L318.2 649.95 L318.8 649.95 L319.4 649.95 L320 649.95 L320.6 649.95 L321.2 649.95 L321.8 649.95 L322.4 649.95 L323 649.95 L323.6 649.95 L324.2 649.95 L324.8 649.95 L325.4 649.95 L326 649.95 L326.6 649.95 L327.2 649.95 L327.8 649.95 L328.4 649.95 L329 649.95 L329.6 649.95 L330.2 649.95 L330.8 649.95 L331.4 649.95 L332 649.95 L332.6 649.95 L333.2 649.95 L333.8 649.95 L334.4 649.95 L335 649.95 L335.6 649.95 L336.2 649.95 L336.8 649.95 L337.4 649.95 L338 649.95 L338.6 649.95 L339.2 649.95 L339.8 649.95 L340.4 649.95 L341 649.95 L341.6 649.95 L342.2 649.95 L342.8 649.95 L343.4 649.95 L344 649.95 L344.6 649.95 L345.2 649.95 L345.8 649.95 L346.4 649.95 L347 649.95 L347.6 649.95 L348.2 649.95 L348.8 649.95 L349.4 649.95 L350 649.95 L350.6 649.95 L351.2 649.95 L351.8 649.95 L352.4 649.95 L353 649.95 L353.6 649.95 L354.2 649.95 L354.8 649.95 L355.4 649.95 L356 649.95 L356.6 649.95 L357.2 649.95 L357.8 649.95 L358.4 649.95 L359 649.95" fill="none" stroke="#b5b82a" stroke-width="2.2" stroke-linejoin="round"/>
<path d="M280.4 650.4 L281 650.4 L281.6 650.4 L282.2 650.4 L282.8 650.4 L283.4 650.4 L284 650.4 L284.6 650.4 L285.2 650.4 L285.8 650.4 L286.4 650.4 L287 650.4 L287.6 650.4 L288.2 650.4 L288.8 650.4 L289.4 650.4 L290 650.4 L290.6 650.4 L291.2 650.4 L291.8 650.4 L292.4 650.4 L293 650.4 L293.6 650.4 L294.2 650.4 L294.8 650.4 L295.4 650.4 L296 650.4 L296.6 650.4 L297.2 650.4 L297.8 650.4 L298.4 650.4 L299 650.4 L299.6 650.4 L300.2 650.4 L300.8 650.4 L301.4 650.4 L302 650.4 L302.6 650.4 L303.2 650.4 L303.8 650.4 L304.4 650.4 L305 650.4 L305.6 650.4 L306.2 650.4 L306.8 650.4 L307.4 650.4 L308 650.4 L308.6 650.4 L309.2 650.4 L309.8 650.4 L310.4 650.4 L311 650.4 L311.6 650.4 L312.2 650.4 L312.8 650.4 L313.4 650.4 L314 650.4 L314.6 650.4 L315.2 650.4 L315.8 650.4 L316.4 650.4 L317 650.4 L317.6 650.4 L318.2 650.4 L318.8 650.4 L319.4 650.4 L320 650.4 L320.6 650.4 L321.2 650.4 L321.8 650.4 L322.4 650.4 L323 650.4 L323.6 650.39 L324.2 650.35 L324.8 650.25 L325.4 649.96 L326 649.29 L326.6 647.93 L327.2 645.5 L327.8 641.76 L328.4 636.75 L329 630.99 L329.6 625.38 L330.2 620.92 L330.8 618.3 L331.4 617.6 L332 618.3 L332.6 620.92 L333.2 625.38 L333.8 630.99 L334.4 636.75 L335 641.76 L335.6 645.5 L336.2 647.93 L336.8 649.29 L337.4 649.96 L338 650.25 L338.6 650.35 L339.2 650.39 L339.8 650.4 L340.4 650.4 L341 650.4 L341.6 650.4 L342.2 650.4 L342.8 650.4 L343.4 650.4 L344 650.4 L344.6 650.4 L345.2 650.4 L345.8 650.4 L346.4 650.4 L347 650.4 L347.6 650.4 L348.2 650.4 L348.8 650.4 L349.4 650.4 L350 650.4 L350.6 650.4 L351.2 650.4 L351.8 650.4 L352.4 650.4 L353 650.4 L353.6 650.4 L354.2 650.4 L354.8 650.4 L355.4 650.4 L356 650.4 L356.6 650.4 L357.2 650.4 L357.8 650.4 L358.4 650.4 L359 650.4" fill="none" stroke="#2c8a1e" stroke-width="2.2" stroke-linejoin="round"/>
<path d="M364 655 L364 655 L364 655.4 L364 655.8 L364 656.2 L364 656.6 L364 657 L364 657.4 L364 657.8 L364 658.2 L364 658.61 L364 659.01 L364 659.41 L364 659.81 L364 660.21 L364 660.61 L364 661.01 L364 661.41 L364 661.81 L364 662.21 L364 662.61 L364 663.01 L364 663.41 L364 663.81 L364 664.21 L364 664.61 L364 665.02 L364 665.42 L364 665.82 L364 666.22 L364 666.62 L364 667.02 L364 667.42 L364 667.82 L364 668.22 L364 668.62 L364 669.02 L364 669.42 L364 669.82 L364 670.22 L364 670.62 L364 671.02 L364 671.43 L364 671.83 L364 672.23 L364 672.63 L364 673.03 L364 673.43 L364 673.83 L364 674.23 L364 674.63 L364 675.03 L364 675.43 L364 675.83 L364 676.23 L364 676.63 L364 677.03 L364 677.43 L364 677.84 L364 678.24 L364.01 678.64 L364.02 679.04 L364.04 679.44 L364.07 679.84 L364.13 680.24 L364.23 680.64 L364.4 681.04 L364.66 681.44 L365.07 681.84 L365.68 682.24 L366.55 682.64 L367.77 683.04 L369.41 683.44 L371.53 683.84 L374.16 684.25 L377.29 684.65 L380.88 685.05 L384.79 685.45 L388.85 685.85 L392.81 686.25 L396.4 686.65 L399.35 687.05 L401.41 687.45 L402.42 687.85 L402.27 688.25 L400.98 688.65 L398.67 689.05 L395.53 689.45 L391.82 689.85 L387.82 690.25 L383.78 690.65 L379.93 691.06 L376.45 691.46 L373.44 691.86 L370.94 692.26 L368.95 692.66 L367.43 693.06 L366.3 693.46 L365.5 693.86 L364.95 694.26 L364.58 694.66 L364.35 695.06 L364.2 695.46 L364.11 695.86 L364.06 696.26 L364.03 696.66 L364.02 697.06 L364.01 697.47 L364 697.87 L364 698.27 L364 698.67 L364 699.07 L364 699.47 L364 699.87 L364 700.27 L364 700.67 L364 701.07 L364 701.47 L364 701.87 L364 702.27 L364 702.67 L364 703.07 L364 703.47 L364 703.88 L364 704.28 L364 704.68 L364 705.08 L364 705.48 L364 705.88 L364 706.28 L364 706.68 L364 707.08 L364 707.48 L364 707.88 L364 708.28 L364 708.68 L364 709.08 L364 709.48 L364 709.88 L364 710.29 L364 710.69 L364 711.09 L364 711.49 L364 711.89 L364 712.29 L364 712.69 L364 713.09 L364 713.49 L364 713.89 L364 714.29 L364 714.69 L364 715.09 L364 715.49 L364 715.89 L364 716.29 L364 716.7 L364 717.1 L364 717.5 L364 717.9 L364 718.3 L364 718.7 L364 719.1 L364 719.5 L364 719.9 L364 719.9Z" fill="#fdf7cf" fill-opacity="0.85" stroke="none"/>
<path d="M364 655 L364 655 L364 655.4 L364 655.8 L364 656.2 L364 656.6 L364 657 L364 657.4 L364 657.8 L364 658.2 L364 658.61 L364 659.01 L364 659.41 L364 659.81 L364 660.21 L364 660.61 L364 661.01 L364 661.41 L364 661.81 L364 662.21 L364 662.61 L364 663.01 L364 663.41 L364 663.81 L364 664.21 L364 664.61 L364 665.02 L364 665.42 L364 665.82 L364 666.22 L364 666.62 L364 667.02 L364 667.42 L364 667.82 L364 668.22 L364 668.62 L364 669.02 L364 669.42 L364 669.82 L364 670.22 L364 670.62 L364 671.02 L364 671.43 L364 671.83 L364 672.23 L364 672.63 L364 673.03 L364 673.43 L364 673.83 L364 674.23 L364 674.63 L364 675.03 L364 675.43 L364 675.83 L364 676.23 L364 676.63 L364 677.03 L364 677.43 L364 677.84 L364 678.24 L364 678.64 L364 679.04 L364 679.44 L364.01 679.84 L364.02 680.24 L364.05 680.64 L364.1 681.04 L364.2 681.44 L364.39 681.84 L364.72 682.24 L365.28 682.64 L366.17 683.04 L367.52 683.44 L369.46 683.84 L372.1 684.25 L375.49 684.65 L379.6 685.05 L384.26 685.45 L389.16 685.85 L393.89 686.25 L397.97 686.65 L400.92 687.05 L402.38 687.45 L402.17 687.85 L400.3 688.25 L397.03 688.65 L392.74 689.05 L387.93 689.45 L383.05 689.85 L378.51 690.25 L374.57 690.65 L371.37 691.06 L368.91 691.46 L367.13 691.86 L365.91 692.26 L365.11 692.66 L364.62 693.06 L364.33 693.46 L364.17 693.86 L364.08 694.26 L364.04 694.66 L364.02 695.06 L364.01 695.46 L364 695.86 L364 696.26 L364 696.66 L364 697.06 L364 697.47 L364 697.87 L364 698.27 L364 698.67 L364 699.07 L364 699.47 L364 699.87 L364 700.27 L364 700.67 L364 701.07 L364 701.47 L364 701.87 L364 702.27 L364 702.67 L364 703.07 L364 703.47 L364 703.88 L364 704.28 L364 704.68 L364 705.08 L364 705.48 L364 705.88 L364 706.28 L364 706.68 L364 707.08 L364 707.48 L364 707.88 L364 708.28 L364 708.68 L364 709.08 L364 709.48 L364 709.88 L364 710.29 L364 710.69 L364 711.09 L364 711.49 L364 711.89 L364 712.29 L364 712.69 L364 713.09 L364 713.49 L364 713.89 L364 714.29 L364 714.69 L364 715.09 L364 715.49 L364 715.89 L364 716.29 L364 716.7 L364 717.1 L364 717.5 L364 717.9 L364 718.3 L364 718.7 L364 719.1 L364 719.5 L364 719.9 L364 719.9Z" fill="#d9ead6" fill-opacity="0.85" stroke="none"/>
<path d="M364.3 655 L364.3 655.4 L364.3 655.8 L364.3 656.2 L364.3 656.6 L364.3 657 L364.3 657.4 L364.3 657.8 L364.3 658.2 L364.3 658.61 L364.3 659.01 L364.3 659.41 L364.3 659.81 L364.3 660.21 L364.3 660.61 L364.3 661.01 L364.3 661.41 L364.3 661.81 L364.3 662.21 L364.3 662.61 L364.3 663.01 L364.3 663.41 L364.3 663.81 L364.3 664.21 L364.3 664.61 L364.3 665.02 L364.3 665.42 L364.3 665.82 L364.3 666.22 L364.3 666.62 L364.3 667.02 L364.3 667.42 L364.3 667.82 L364.3 668.22 L364.3 668.62 L364.3 669.02 L364.3 669.42 L364.3 669.82 L364.3 670.22 L364.3 670.62 L364.3 671.02 L364.3 671.43 L364.3 671.83 L364.3 672.23 L364.3 672.63 L364.3 673.03 L364.3 673.43 L364.3 673.83 L364.3 674.23 L364.3 674.63 L364.3 675.03 L364.3 675.43 L364.3 675.83 L364.3 676.23 L364.3 676.63 L364.3 677.03 L364.3 677.43 L364.3 677.84 L364.3 678.24 L364.31 678.64 L364.32 679.04 L364.34 679.44 L364.37 679.84 L364.43 680.24 L364.53 680.64 L364.69 681.04 L364.95 681.44 L365.36 681.84 L365.96 682.24 L366.83 682.64 L368.05 683.04 L369.67 683.44 L371.77 683.84 L374.38 684.25 L377.49 684.65 L381.05 685.05 L384.93 685.45 L388.95 685.85 L392.88 686.25 L396.45 686.65 L399.37 687.05 L401.42 687.45 L402.42 687.85 L402.27 688.25 L401 688.65 L398.7 689.05 L395.59 689.45 L391.91 689.85 L387.93 690.25 L383.92 690.65 L380.11 691.06 L376.65 691.46 L373.66 691.86 L371.19 692.26 L369.21 692.66 L367.7 693.06 L366.58 693.46 L365.79 693.86 L365.24 694.26 L364.88 694.66 L364.64 695.06 L364.5 695.46 L364.41 695.86 L364.36 696.26 L364.33 696.66 L364.32 697.06 L364.31 697.47 L364.3 697.87 L364.3 698.27 L364.3 698.67 L364.3 699.07 L364.3 699.47 L364.3 699.87 L364.3 700.27 L364.3 700.67 L364.3 701.07 L364.3 701.47 L364.3 701.87 L364.3 702.27 L364.3 702.67 L364.3 703.07 L364.3 703.47 L364.3 703.88 L364.3 704.28 L364.3 704.68 L364.3 705.08 L364.3 705.48 L364.3 705.88 L364.3 706.28 L364.3 706.68 L364.3 707.08 L364.3 707.48 L364.3 707.88 L364.3 708.28 L364.3 708.68 L364.3 709.08 L364.3 709.48 L364.3 709.88 L364.3 710.29 L364.3 710.69 L364.3 711.09 L364.3 711.49 L364.3 711.89 L364.3 712.29 L364.3 712.69 L364.3 713.09 L364.3 713.49 L364.3 713.89 L364.3 714.29 L364.3 714.69 L364.3 715.09 L364.3 715.49 L364.3 715.89 L364.3 716.29 L364.3 716.7 L364.3 717.1 L364.3 717.5 L364.3 717.9 L364.3 718.3 L364.3 718.7 L364.3 719.1 L364.3 719.5 L364.3 719.9" fill="none" stroke="#b5b82a" stroke-width="1.85" stroke-linejoin="round"/>
<path d="M363.9 655 L363.9 655.4 L363.9 655.8 L363.9 656.2 L363.9 656.6 L363.9 657 L363.9 657.4 L363.9 657.8 L363.9 658.2 L363.9 658.61 L363.9 659.01 L363.9 659.41 L363.9 659.81 L363.9 660.21 L363.9 660.61 L363.9 661.01 L363.9 661.41 L363.9 661.81 L363.9 662.21 L363.9 662.61 L363.9 663.01 L363.9 663.41 L363.9 663.81 L363.9 664.21 L363.9 664.61 L363.9 665.02 L363.9 665.42 L363.9 665.82 L363.9 666.22 L363.9 666.62 L363.9 667.02 L363.9 667.42 L363.9 667.82 L363.9 668.22 L363.9 668.62 L363.9 669.02 L363.9 669.42 L363.9 669.82 L363.9 670.22 L363.9 670.62 L363.9 671.02 L363.9 671.43 L363.9 671.83 L363.9 672.23 L363.9 672.63 L363.9 673.03 L363.9 673.43 L363.9 673.83 L363.9 674.23 L363.9 674.63 L363.9 675.03 L363.9 675.43 L363.9 675.83 L363.9 676.23 L363.9 676.63 L363.9 677.03 L363.9 677.43 L363.9 677.84 L363.9 678.24 L363.9 678.64 L363.9 679.04 L363.9 679.44 L363.91 679.84 L363.92 680.24 L363.95 680.64 L364 681.04 L364.1 681.44 L364.29 681.84 L364.62 682.24 L365.18 682.64 L366.08 683.04 L367.43 683.44 L369.37 683.84 L372.02 684.25 L375.42 684.65 L379.54 685.05 L384.21 685.45 L389.13 685.85 L393.87 686.25 L397.95 686.65 L400.91 687.05 L402.38 687.45 L402.17 687.85 L400.3 688.25 L397.02 688.65 L392.72 689.05 L387.89 689.45 L383 689.85 L378.45 690.25 L374.5 690.65 L371.28 691.06 L368.82 691.46 L367.04 691.86 L365.81 692.26 L365.02 692.66 L364.52 693.06 L364.23 693.46 L364.07 693.86 L363.98 694.26 L363.94 694.66 L363.92 695.06 L363.91 695.46 L363.9 695.86 L363.9 696.26 L363.9 696.66 L363.9 697.06 L363.9 697.47 L363.9 697.87 L363.9 698.27 L363.9 698.67 L363.9 699.07 L363.9 699.47 L363.9 699.87 L363.9 700.27 L363.9 700.67 L363.9 701.07 L363.9 701.47 L363.9 701.87 L363.9 702.27 L363.9 702.67 L363.9 703.07 L363.9 703.47 L363.9 703.88 L363.9 704.28 L363.9 704.68 L363.9 705.08 L363.9 705.48 L363.9 705.88 L363.9 706.28 L363.9 706.68 L363.9 707.08 L363.9 707.48 L363.9 707.88 L363.9 708.28 L363.9 708.68 L363.9 709.08 L363.9 709.48 L363.9 709.88 L363.9 710.29 L363.9 710.69 L363.9 711.09 L363.9 711.49 L363.9 711.89 L363.9 712.29 L363.9 712.69 L363.9 713.09 L363.9 713.49 L363.9 713.89 L363.9 714.29 L363.9 714.69 L363.9 715.09 L363.9 715.49 L363.9 715.89 L363.9 716.29 L363.9 716.7 L363.9 717.1 L363.9 717.5 L363.9 717.9 L363.9 718.3 L363.9 718.7 L363.9 719.1 L363.9 719.5 L363.9 719.9" fill="none" stroke="#2c8a1e" stroke-width="1.85" stroke-linejoin="round"/>
<ellipse cx="307.8" cy="689.5" rx="29.52" ry="17.28" transform="rotate(38 307.8 689.5)" fill="none" stroke="#9e9ea5" stroke-width="1.45" stroke-dasharray="5 3.1"/>
<ellipse cx="331.6" cy="686" rx="30.67" ry="21.6" transform="rotate(58 331.6 686)" fill="none" stroke="#9e9ea5" stroke-width="1.45" stroke-dasharray="5 3.1"/>
<ellipse cx="307.8" cy="689.5" rx="7.45" ry="4.22" transform="rotate(38 307.8 689.5)" fill="none" stroke="#ecedbd" stroke-width="1.75"/>
<ellipse cx="307.8" cy="689.5" rx="11.17" ry="6.33" transform="rotate(38 307.8 689.5)" fill="none" stroke="#dcde92" stroke-width="1.75"/>
<ellipse cx="307.8" cy="689.5" rx="15.09" ry="8.55" transform="rotate(38 307.8 689.5)" fill="none" stroke="#c9cc62" stroke-width="1.75"/>
<ellipse cx="307.8" cy="689.5" rx="19.6" ry="11.1" transform="rotate(38 307.8 689.5)" fill="none" stroke="#b7ba2e" stroke-width="2.05"/>
<ellipse cx="331.6" cy="686" rx="9.38" ry="6.49" transform="rotate(58 331.6 686)" fill="none" stroke="#8fc489" stroke-width="1.75"/>
<ellipse cx="331.6" cy="686" rx="14.28" ry="9.87" transform="rotate(58 331.6 686)" fill="none" stroke="#5fa757" stroke-width="1.75"/>
<ellipse cx="331.6" cy="686" rx="20.4" ry="14.1" transform="rotate(58 331.6 686)" fill="none" stroke="#338f29" stroke-width="2.05"/>
<path d="M277.4 616H362V652H404V722.4H277.4V616H277.4Z" fill="none" stroke="#000" stroke-width="1.35"/>
<path d="M277.4 652H362M362 652V722.4" fill="none" stroke="#000" stroke-width="1.35"/>
<text x="291" y="742.5" font-size="10.4" text-anchor="middle" fill="#111111" stroke="#111111" stroke-width="0.14" textLength="12.59" lengthAdjust="spacingAndGlyphs">22</text>
<text x="316.6" y="742.5" font-size="10.4" text-anchor="middle" fill="#111111" stroke="#111111" stroke-width="0.14" textLength="12.59" lengthAdjust="spacingAndGlyphs">23</text>
<text x="342" y="742.5" font-size="10.4" text-anchor="middle" fill="#111111" stroke="#111111" stroke-width="0.14" textLength="12.59" lengthAdjust="spacingAndGlyphs">24</text>
<text x="291.8" y="603" font-size="10.4" text-anchor="middle" fill="#111111" stroke="#111111" stroke-width="0.14" textLength="14.59" lengthAdjust="spacingAndGlyphs">−1</text>
<text x="319.4" y="603" font-size="10.4" text-anchor="middle" fill="#111111" stroke="#111111" stroke-width="0.14" textLength="6.3" lengthAdjust="spacingAndGlyphs">0</text>
<text x="344.9" y="603" font-size="10.4" text-anchor="middle" fill="#111111" stroke="#111111" stroke-width="0.14" textLength="6.3" lengthAdjust="spacingAndGlyphs">1</text>
<text x="415.8" y="670" font-size="10.4" text-anchor="start" fill="#111111" stroke="#111111" stroke-width="0.14" textLength="6.3" lengthAdjust="spacingAndGlyphs">1</text>
<text x="415.8" y="691.4" font-size="10.4" text-anchor="start" fill="#111111" stroke="#111111" stroke-width="0.14" textLength="6.3" lengthAdjust="spacingAndGlyphs">0</text>
<text x="415.8" y="712.8" font-size="10.4" text-anchor="start" fill="#111111" stroke="#111111" stroke-width="0.14" textLength="14.59" lengthAdjust="spacingAndGlyphs">−1</text>
<path d="M291.5 722.4v5.5M316.5 722.4v5.5M342.5 722.4v5.5M293.5 616v-5.6M319.5 616v-5.6M344.5 616v-5.6M404 666.5h5.3M404 687.5h5.3M404 709.5h5.3M277.4 671h-1.6M277.4 688h-1.6M277.4 705h-1.6" fill="none" stroke="#000" stroke-width="1.25"/>
<text x="319.3" y="765.5" font-size="10.8" text-anchor="middle" fill="#111111" stroke="#111111" stroke-width="0.14" textLength="42.19" lengthAdjust="spacingAndGlyphs">SST (°C)</text>
</g>
<g>
<path d="M531 648.1 L531 648.1 L531.6 648.1 L532.2 648.1 L532.8 648.1 L533.4 648.1 L534 648.1 L534.6 648.1 L535.2 648.1 L535.8 648.1 L536.4 648.1 L537 648.1 L537.6 648.1 L538.2 648.1 L538.8 648.1 L539.4 648.1 L540 648.1 L540.6 648.1 L541.2 648.1 L541.8 648.1 L542.4 648.1 L543 648.1 L543.6 648.1 L544.2 648.1 L544.8 648.09 L545.4 648.07 L546 648.03 L546.6 647.95 L547.2 647.78 L547.8 647.45 L548.4 646.89 L549 645.97 L549.6 644.56 L550.2 642.55 L550.8 639.88 L551.4 636.58 L552 632.78 L552.6 628.73 L553.2 624.76 L553.8 621.23 L554.4 618.44 L555 616.59 L555.6 615.72 L556.2 615.62 L556.8 616.2 L557.4 617.71 L558 620.2 L558.6 623.52 L559.2 627.38 L559.8 631.44 L560.4 635.35 L561 638.84 L561.6 641.73 L562.2 643.96 L562.8 645.56 L563.4 646.63 L564 647.3 L564.6 647.69 L565.2 647.9 L565.8 648.01 L566.4 648.06 L567 648.09 L567.6 648.09 L568.2 648.1 L568.8 648.1 L569.4 648.1 L570 648.1 L570.6 648.1 L571.2 648.1 L571.8 648.1 L572.4 648.1 L573 648.1 L573.6 648.1 L574.2 648.1 L574.8 648.1 L575.4 648.1 L576 648.1 L576.6 648.1 L577.2 648.1 L577.8 648.1 L578.4 648.1 L579 648.1 L579.6 648.1 L580.2 648.1 L580.8 648.1 L581.4 648.1 L582 648.1 L582.6 648.1 L583.2 648.1 L583.8 648.1 L584.4 648.1 L585 648.1 L585.6 648.1 L586.2 648.1 L586.8 648.1 L587.4 648.1 L588 648.1 L588.6 648.1 L589.2 648.1 L589.8 648.1 L590.4 648.1 L591 648.1 L591.6 648.1 L592.2 648.1 L592.8 648.1 L593.4 648.1 L594 648.1 L594.6 648.1 L595.2 648.1 L595.8 648.1 L596.4 648.1 L597 648.1 L597.6 648.1 L598.2 648.1 L598.8 648.1 L599.4 648.1 L600 648.1 L600.6 648.1 L601.2 648.1 L601.8 648.1 L602.4 648.1 L603 648.1 L603.6 648.1 L604.2 648.1 L604.8 648.1 L605.4 648.1 L606 648.1 L606.6 648.1 L607.2 648.1 L607.8 648.1 L608.4 648.1 L609 648.1 L609 648.1Z" fill="#fdf7cf" fill-opacity="0.85" stroke="none"/>
<path d="M531 648.1 L531 648.1 L531.6 648.1 L532.2 648.1 L532.8 648.1 L533.4 648.1 L534 648.1 L534.6 648.1 L535.2 648.1 L535.8 648.1 L536.4 648.1 L537 648.1 L537.6 648.1 L538.2 648.1 L538.8 648.1 L539.4 648.1 L540 648.1 L540.6 648.1 L541.2 648.1 L541.8 648.1 L542.4 648.1 L543 648.1 L543.6 648.1 L544.2 648.1 L544.8 648.1 L545.4 648.1 L546 648.1 L546.6 648.1 L547.2 648.1 L547.8 648.1 L548.4 648.1 L549 648.1 L549.6 648.1 L550.2 648.1 L550.8 648.1 L551.4 648.1 L552 648.1 L552.6 648.1 L553.2 648.1 L553.8 648.1 L554.4 648.1 L555 648.1 L555.6 648.1 L556.2 648.1 L556.8 648.1 L557.4 648.1 L558 648.1 L558.6 648.1 L559.2 648.1 L559.8 648.1 L560.4 648.1 L561 648.1 L561.6 648.1 L562.2 648.1 L562.8 648.1 L563.4 648.1 L564 648.1 L564.6 648.1 L565.2 648.1 L565.8 648.1 L566.4 648.1 L567 648.1 L567.6 648.1 L568.2 648.1 L568.8 648.1 L569.4 648.1 L570 648.1 L570.6 648.1 L571.2 648.1 L571.8 648.1 L572.4 648.09 L573 648.09 L573.6 648.06 L574.2 648.01 L574.8 647.9 L575.4 647.69 L576 647.3 L576.6 646.63 L577.2 645.56 L577.8 643.96 L578.4 641.73 L579 638.84 L579.6 635.35 L580.2 631.44 L580.8 627.38 L581.4 623.52 L582 620.2 L582.6 617.71 L583.2 616.2 L583.8 615.62 L584.4 615.72 L585 616.59 L585.6 618.44 L586.2 621.23 L586.8 624.76 L587.4 628.73 L588 632.78 L588.6 636.58 L589.2 639.88 L589.8 642.55 L590.4 644.56 L591 645.97 L591.6 646.89 L592.2 647.45 L592.8 647.78 L593.4 647.95 L594 648.03 L594.6 648.07 L595.2 648.09 L595.8 648.1 L596.4 648.1 L597 648.1 L597.6 648.1 L598.2 648.1 L598.8 648.1 L599.4 648.1 L600 648.1 L600.6 648.1 L601.2 648.1 L601.8 648.1 L602.4 648.1 L603 648.1 L603.6 648.1 L604.2 648.1 L604.8 648.1 L605.4 648.1 L606 648.1 L606.6 648.1 L607.2 648.1 L607.8 648.1 L608.4 648.1 L609 648.1 L609 648.1Z" fill="#d9ead6" fill-opacity="0.85" stroke="none"/>
<path d="M531 647.75 L531.6 647.75 L532.2 647.75 L532.8 647.75 L533.4 647.75 L534 647.75 L534.6 647.75 L535.2 647.75 L535.8 647.75 L536.4 647.75 L537 647.75 L537.6 647.75 L538.2 647.75 L538.8 647.75 L539.4 647.75 L540 647.75 L540.6 647.75 L541.2 647.75 L541.8 647.75 L542.4 647.75 L543 647.75 L543.6 647.75 L544.2 647.75 L544.8 647.74 L545.4 647.72 L546 647.68 L546.6 647.6 L547.2 647.43 L547.8 647.11 L548.4 646.55 L549 645.64 L549.6 644.24 L550.2 642.26 L550.8 639.62 L551.4 636.35 L552 632.59 L552.6 628.59 L553.2 624.66 L553.8 621.17 L554.4 618.41 L555 616.58 L555.6 615.72 L556.2 615.62 L556.8 616.19 L557.4 617.69 L558 620.15 L558.6 623.43 L559.2 627.25 L559.8 631.27 L560.4 635.14 L561 638.59 L561.6 641.45 L562.2 643.65 L562.8 645.23 L563.4 646.29 L564 646.96 L564.6 647.34 L565.2 647.56 L565.8 647.66 L566.4 647.71 L567 647.74 L567.6 647.74 L568.2 647.75 L568.8 647.75 L569.4 647.75 L570 647.75 L570.6 647.75 L571.2 647.75 L571.8 647.75 L572.4 647.75 L573 647.75 L573.6 647.75 L574.2 647.75 L574.8 647.75 L575.4 647.75 L576 647.75 L576.6 647.75 L577.2 647.75 L577.8 647.75 L578.4 647.75 L579 647.75 L579.6 647.75 L580.2 647.75 L580.8 647.75 L581.4 647.75 L582 647.75 L582.6 647.75 L583.2 647.75 L583.8 647.75 L584.4 647.75 L585 647.75 L585.6 647.75 L586.2 647.75 L586.8 647.75 L587.4 647.75 L588 647.75 L588.6 647.75 L589.2 647.75 L589.8 647.75 L590.4 647.75 L591 647.75 L591.6 647.75 L592.2 647.75 L592.8 647.75 L593.4 647.75 L594 647.75 L594.6 647.75 L595.2 647.75 L595.8 647.75 L596.4 647.75 L597 647.75 L597.6 647.75 L598.2 647.75 L598.8 647.75 L599.4 647.75 L600 647.75 L600.6 647.75 L601.2 647.75 L601.8 647.75 L602.4 647.75 L603 647.75 L603.6 647.75 L604.2 647.75 L604.8 647.75 L605.4 647.75 L606 647.75 L606.6 647.75 L607.2 647.75 L607.8 647.75 L608.4 647.75 L609 647.75" fill="none" stroke="#b5b82a" stroke-width="2.2" stroke-linejoin="round"/>
<path d="M531 648.2 L531.6 648.2 L532.2 648.2 L532.8 648.2 L533.4 648.2 L534 648.2 L534.6 648.2 L535.2 648.2 L535.8 648.2 L536.4 648.2 L537 648.2 L537.6 648.2 L538.2 648.2 L538.8 648.2 L539.4 648.2 L540 648.2 L540.6 648.2 L541.2 648.2 L541.8 648.2 L542.4 648.2 L543 648.2 L543.6 648.2 L544.2 648.2 L544.8 648.2 L545.4 648.2 L546 648.2 L546.6 648.2 L547.2 648.2 L547.8 648.2 L548.4 648.2 L549 648.2 L549.6 648.2 L550.2 648.2 L550.8 648.2 L551.4 648.2 L552 648.2 L552.6 648.2 L553.2 648.2 L553.8 648.2 L554.4 648.2 L555 648.2 L555.6 648.2 L556.2 648.2 L556.8 648.2 L557.4 648.2 L558 648.2 L558.6 648.2 L559.2 648.2 L559.8 648.2 L560.4 648.2 L561 648.2 L561.6 648.2 L562.2 648.2 L562.8 648.2 L563.4 648.2 L564 648.2 L564.6 648.2 L565.2 648.2 L565.8 648.2 L566.4 648.2 L567 648.2 L567.6 648.2 L568.2 648.2 L568.8 648.2 L569.4 648.2 L570 648.2 L570.6 648.2 L571.2 648.2 L571.8 648.2 L572.4 648.19 L573 648.19 L573.6 648.16 L574.2 648.11 L574.8 648 L575.4 647.79 L576 647.4 L576.6 646.72 L577.2 645.65 L577.8 644.05 L578.4 641.81 L579 638.92 L579.6 635.42 L580.2 631.49 L580.8 627.41 L581.4 623.54 L582 620.22 L582.6 617.72 L583.2 616.2 L583.8 615.62 L584.4 615.72 L585 616.6 L585.6 618.45 L586.2 621.24 L586.8 624.79 L587.4 628.77 L588 632.83 L588.6 636.64 L589.2 639.95 L589.8 642.63 L590.4 644.65 L591 646.06 L591.6 646.99 L592.2 647.55 L592.8 647.88 L593.4 648.05 L594 648.13 L594.6 648.17 L595.2 648.19 L595.8 648.2 L596.4 648.2 L597 648.2 L597.6 648.2 L598.2 648.2 L598.8 648.2 L599.4 648.2 L600 648.2 L600.6 648.2 L601.2 648.2 L601.8 648.2 L602.4 648.2 L603 648.2 L603.6 648.2 L604.2 648.2 L604.8 648.2 L605.4 648.2 L606 648.2 L606.6 648.2 L607.2 648.2 L607.8 648.2 L608.4 648.2 L609 648.2" fill="none" stroke="#2c8a1e" stroke-width="2.2" stroke-linejoin="round"/>
<path d="M614 652.8 L614 652.8 L614 653.2 L614 653.6 L614 654 L614 654.4 L614 654.8 L614 655.2 L614 655.6 L614 656 L614 656.4 L614 656.8 L614 657.2 L614 657.6 L614 658 L614 658.4 L614 658.8 L614 659.2 L614 659.6 L614 660 L614 660.4 L614 660.8 L614 661.2 L614 661.6 L614 662 L614 662.4 L614 662.8 L614 663.2 L614 663.6 L614 664 L614 664.4 L614 664.8 L614 665.2 L614 665.6 L614 666 L614 666.4 L614 666.8 L614 667.2 L614 667.6 L614.01 668 L614.01 668.4 L614.03 668.8 L614.08 669.2 L614.17 669.6 L614.36 670 L614.71 670.4 L615.33 670.8 L616.36 671.2 L617.97 671.6 L620.34 672 L623.59 672.4 L627.76 672.8 L632.72 673.2 L638.13 673.6 L643.48 674 L648.15 674.4 L651.5 674.8 L653.03 675.2 L652.52 675.6 L650.03 676 L645.94 676.4 L640.85 676.8 L635.39 677.2 L630.16 677.6 L625.57 678 L621.85 678.4 L619.05 678.8 L617.08 679.2 L615.78 679.6 L614.98 680 L614.51 680.4 L614.25 680.8 L614.12 681.2 L614.05 681.6 L614.02 682 L614.01 682.4 L614 682.8 L614 683.2 L614 683.6 L614 684 L614 684.4 L614 684.8 L614 685.2 L614 685.6 L614 686 L614 686.4 L614 686.8 L614 687.2 L614 687.6 L614 688 L614 688.4 L614 688.8 L614 689.2 L614 689.6 L614 690 L614 690.4 L614 690.8 L614 691.2 L614 691.6 L614 692 L614 692.4 L614 692.8 L614 693.2 L614 693.6 L614 694 L614 694.4 L614 694.8 L614 695.2 L614 695.6 L614 696 L614 696.4 L614 696.8 L614 697.2 L614 697.6 L614 698 L614 698.4 L614 698.8 L614 699.2 L614 699.6 L614 700 L614 700.4 L614 700.8 L614 701.2 L614 701.6 L614 702 L614 702.4 L614 702.8 L614 703.2 L614 703.6 L614 704 L614 704.4 L614 704.8 L614 705.2 L614 705.6 L614 706 L614 706.4 L614 706.8 L614 707.2 L614 707.6 L614 708 L614 708.4 L614 708.8 L614 709.2 L614 709.6 L614 710 L614 710.4 L614 710.8 L614 711.2 L614 711.6 L614 712 L614 712.4 L614 712.8 L614 713.2 L614 713.6 L614 714 L614 714.4 L614 714.8 L614 715.2 L614 715.6 L614 716 L614 716.4 L614 716.8 L614 717.2 L614 717.6 L614 718 L614 718Z" fill="#fdf7cf" fill-opacity="0.85" stroke="none"/>
<path d="M614 652.8 L614 652.8 L614 653.2 L614 653.6 L614 654 L614 654.4 L614 654.8 L614 655.2 L614 655.6 L614 656 L614 656.4 L614 656.8 L614 657.2 L614 657.6 L614 658 L614 658.4 L614 658.8 L614 659.2 L614 659.6 L614 660 L614 660.4 L614 660.8 L614 661.2 L614 661.6 L614 662 L614 662.4 L614 662.8 L614 663.2 L614 663.6 L614 664 L614 664.4 L614 664.8 L614 665.2 L614 665.6 L614 666 L614 666.4 L614 666.8 L614 667.2 L614 667.6 L614 668 L614 668.4 L614 668.8 L614 669.2 L614 669.6 L614 670 L614 670.4 L614 670.8 L614 671.2 L614 671.6 L614 672 L614 672.4 L614 672.8 L614 673.2 L614 673.6 L614 674 L614 674.4 L614 674.8 L614 675.2 L614 675.6 L614 676 L614 676.4 L614 676.8 L614 677.2 L614 677.6 L614 678 L614 678.4 L614 678.8 L614 679.2 L614 679.6 L614 680 L614 680.4 L614 680.8 L614 681.2 L614 681.6 L614 682 L614 682.4 L614 682.8 L614 683.2 L614 683.6 L614 684 L614 684.4 L614 684.8 L614 685.2 L614 685.6 L614 686 L614 686.4 L614 686.8 L614 687.2 L614 687.6 L614.01 688 L614.02 688.4 L614.05 688.8 L614.1 689.2 L614.2 689.6 L614.39 690 L614.74 690.4 L615.31 690.8 L616.23 691.2 L617.63 691.6 L619.64 692 L622.38 692.4 L625.9 692.8 L630.15 693.2 L634.95 693.6 L639.98 694 L644.79 694.4 L648.87 694.8 L651.74 695.2 L653.04 695.6 L652.61 696 L650.48 696.4 L646.95 696.8 L642.44 697.2 L637.46 697.6 L632.5 698 L627.94 698.4 L624.04 698.8 L620.91 699.2 L618.55 699.6 L616.86 700 L615.72 700.4 L614.99 700.8 L614.54 701.2 L614.28 701.6 L614.14 702 L614.07 702.4 L614.03 702.8 L614.01 703.2 L614.01 703.6 L614 704 L614 704.4 L614 704.8 L614 705.2 L614 705.6 L614 706 L614 706.4 L614 706.8 L614 707.2 L614 707.6 L614 708 L614 708.4 L614 708.8 L614 709.2 L614 709.6 L614 710 L614 710.4 L614 710.8 L614 711.2 L614 711.6 L614 712 L614 712.4 L614 712.8 L614 713.2 L614 713.6 L614 714 L614 714.4 L614 714.8 L614 715.2 L614 715.6 L614 716 L614 716.4 L614 716.8 L614 717.2 L614 717.6 L614 718 L614 718Z" fill="#d9ead6" fill-opacity="0.85" stroke="none"/>
<path d="M614.3 652.8 L614.3 653.2 L614.3 653.6 L614.3 654 L614.3 654.4 L614.3 654.8 L614.3 655.2 L614.3 655.6 L614.3 656 L614.3 656.4 L614.3 656.8 L614.3 657.2 L614.3 657.6 L614.3 658 L614.3 658.4 L614.3 658.8 L614.3 659.2 L614.3 659.6 L614.3 660 L614.3 660.4 L614.3 660.8 L614.3 661.2 L614.3 661.6 L614.3 662 L614.3 662.4 L614.3 662.8 L614.3 663.2 L614.3 663.6 L614.3 664 L614.3 664.4 L614.3 664.8 L614.3 665.2 L614.3 665.6 L614.3 666 L614.3 666.4 L614.3 666.8 L614.3 667.2 L614.3 667.6 L614.31 668 L614.31 668.4 L614.33 668.8 L614.38 669.2 L614.47 669.6 L614.66 670 L615 670.4 L615.62 670.8 L616.64 671.2 L618.24 671.6 L620.59 672 L623.82 672.4 L627.96 672.8 L632.87 673.2 L638.24 673.6 L643.56 674 L648.19 674.4 L651.51 674.8 L653.04 675.2 L652.52 675.6 L650.05 676 L646 676.4 L640.94 676.8 L635.53 677.2 L630.33 677.6 L625.78 678 L622.09 678.4 L619.31 678.8 L617.36 679.2 L616.07 679.6 L615.27 680 L614.8 680.4 L614.55 680.8 L614.42 681.2 L614.35 681.6 L614.32 682 L614.31 682.4 L614.3 682.8 L614.3 683.2 L614.3 683.6 L614.3 684 L614.3 684.4 L614.3 684.8 L614.3 685.2 L614.3 685.6 L614.3 686 L614.3 686.4 L614.3 686.8 L614.3 687.2 L614.3 687.6 L614.3 688 L614.3 688.4 L614.3 688.8 L614.3 689.2 L614.3 689.6 L614.3 690 L614.3 690.4 L614.3 690.8 L614.3 691.2 L614.3 691.6 L614.3 692 L614.3 692.4 L614.3 692.8 L614.3 693.2 L614.3 693.6 L614.3 694 L614.3 694.4 L614.3 694.8 L614.3 695.2 L614.3 695.6 L614.3 696 L614.3 696.4 L614.3 696.8 L614.3 697.2 L614.3 697.6 L614.3 698 L614.3 698.4 L614.3 698.8 L614.3 699.2 L614.3 699.6 L614.3 700 L614.3 700.4 L614.3 700.8 L614.3 701.2 L614.3 701.6 L614.3 702 L614.3 702.4 L614.3 702.8 L614.3 703.2 L614.3 703.6 L614.3 704 L614.3 704.4 L614.3 704.8 L614.3 705.2 L614.3 705.6 L614.3 706 L614.3 706.4 L614.3 706.8 L614.3 707.2 L614.3 707.6 L614.3 708 L614.3 708.4 L614.3 708.8 L614.3 709.2 L614.3 709.6 L614.3 710 L614.3 710.4 L614.3 710.8 L614.3 711.2 L614.3 711.6 L614.3 712 L614.3 712.4 L614.3 712.8 L614.3 713.2 L614.3 713.6 L614.3 714 L614.3 714.4 L614.3 714.8 L614.3 715.2 L614.3 715.6 L614.3 716 L614.3 716.4 L614.3 716.8 L614.3 717.2 L614.3 717.6 L614.3 718" fill="none" stroke="#b5b82a" stroke-width="1.85" stroke-linejoin="round"/>
<path d="M613.9 652.8 L613.9 653.2 L613.9 653.6 L613.9 654 L613.9 654.4 L613.9 654.8 L613.9 655.2 L613.9 655.6 L613.9 656 L613.9 656.4 L613.9 656.8 L613.9 657.2 L613.9 657.6 L613.9 658 L613.9 658.4 L613.9 658.8 L613.9 659.2 L613.9 659.6 L613.9 660 L613.9 660.4 L613.9 660.8 L613.9 661.2 L613.9 661.6 L613.9 662 L613.9 662.4 L613.9 662.8 L613.9 663.2 L613.9 663.6 L613.9 664 L613.9 664.4 L613.9 664.8 L613.9 665.2 L613.9 665.6 L613.9 666 L613.9 666.4 L613.9 666.8 L613.9 667.2 L613.9 667.6 L613.9 668 L613.9 668.4 L613.9 668.8 L613.9 669.2 L613.9 669.6 L613.9 670 L613.9 670.4 L613.9 670.8 L613.9 671.2 L613.9 671.6 L613.9 672 L613.9 672.4 L613.9 672.8 L613.9 673.2 L613.9 673.6 L613.9 674 L613.9 674.4 L613.9 674.8 L613.9 675.2 L613.9 675.6 L613.9 676 L613.9 676.4 L613.9 676.8 L613.9 677.2 L613.9 677.6 L613.9 678 L613.9 678.4 L613.9 678.8 L613.9 679.2 L613.9 679.6 L613.9 680 L613.9 680.4 L613.9 680.8 L613.9 681.2 L613.9 681.6 L613.9 682 L613.9 682.4 L613.9 682.8 L613.9 683.2 L613.9 683.6 L613.9 684 L613.9 684.4 L613.9 684.8 L613.9 685.2 L613.9 685.6 L613.9 686 L613.9 686.4 L613.9 686.8 L613.9 687.2 L613.9 687.6 L613.91 688 L613.92 688.4 L613.95 688.8 L614 689.2 L614.1 689.6 L614.3 690 L614.64 690.4 L615.21 690.8 L616.13 691.2 L617.54 691.6 L619.55 692 L622.3 692.4 L625.83 692.8 L630.09 693.2 L634.91 693.6 L639.95 694 L644.76 694.4 L648.86 694.8 L651.74 695.2 L653.04 695.6 L652.6 696 L650.47 696.4 L646.93 696.8 L642.41 697.2 L637.42 697.6 L632.45 698 L627.88 698.4 L623.97 698.8 L620.83 699.2 L618.46 699.6 L616.77 700 L615.62 700.4 L614.89 700.8 L614.44 701.2 L614.18 701.6 L614.04 702 L613.97 702.4 L613.93 702.8 L613.91 703.2 L613.91 703.6 L613.9 704 L613.9 704.4 L613.9 704.8 L613.9 705.2 L613.9 705.6 L613.9 706 L613.9 706.4 L613.9 706.8 L613.9 707.2 L613.9 707.6 L613.9 708 L613.9 708.4 L613.9 708.8 L613.9 709.2 L613.9 709.6 L613.9 710 L613.9 710.4 L613.9 710.8 L613.9 711.2 L613.9 711.6 L613.9 712 L613.9 712.4 L613.9 712.8 L613.9 713.2 L613.9 713.6 L613.9 714 L613.9 714.4 L613.9 714.8 L613.9 715.2 L613.9 715.6 L613.9 716 L613.9 716.4 L613.9 716.8 L613.9 717.2 L613.9 717.6 L613.9 718" fill="none" stroke="#2c8a1e" stroke-width="1.85" stroke-linejoin="round"/>
<ellipse cx="559.5" cy="695.1" rx="32.93" ry="10.11" transform="rotate(-34 559.5 695.1)" fill="none" stroke="#9e9ea5" stroke-width="1.45" stroke-dasharray="5 3.1"/>
<ellipse cx="577" cy="675" rx="35.37" ry="10.11" transform="rotate(-35 577 675)" fill="none" stroke="#9e9ea5" stroke-width="1.45" stroke-dasharray="5 3.1"/>
<ellipse cx="559.5" cy="695.1" rx="12.74" ry="3.5" transform="rotate(-34 559.5 695.1)" fill="none" stroke="#d8da80" stroke-width="1.75"/>
<ellipse cx="559.5" cy="695.1" rx="19.3" ry="5.3" transform="rotate(-34 559.5 695.1)" fill="none" stroke="#c0c343" stroke-width="2.05"/>
<ellipse cx="577" cy="675" rx="8.74" ry="2.23" transform="rotate(-35 577 675)" fill="none" stroke="#a3cf9d" stroke-width="1.75"/>
<ellipse cx="577" cy="675" rx="13.94" ry="3.55" transform="rotate(-35 577 675)" fill="none" stroke="#72b46a" stroke-width="1.75"/>
<ellipse cx="577" cy="675" rx="20.8" ry="5.3" transform="rotate(-35 577 675)" fill="none" stroke="#38912e" stroke-width="2.05"/>
<path d="M528 614H612V649.8H654.6V720.5H528V614H528Z" fill="none" stroke="#000" stroke-width="1.35"/>
<path d="M528 649.8H612M612 649.8V720.5" fill="none" stroke="#000" stroke-width="1.35"/>
<text x="542" y="740.6" font-size="10.4" text-anchor="middle" fill="#111111" stroke="#111111" stroke-width="0.14" textLength="12.59" lengthAdjust="spacingAndGlyphs">21</text>
<text x="573.6" y="740.6" font-size="10.4" text-anchor="middle" fill="#111111" stroke="#111111" stroke-width="0.14" textLength="12.59" lengthAdjust="spacingAndGlyphs">23</text>
<text x="605.4" y="740.6" font-size="10.4" text-anchor="middle" fill="#111111" stroke="#111111" stroke-width="0.14" textLength="12.59" lengthAdjust="spacingAndGlyphs">25</text>
<text x="516.4" y="669.8" font-size="10.4" text-anchor="end" fill="#111111" stroke="#111111" stroke-width="0.14" textLength="12.59" lengthAdjust="spacingAndGlyphs">24</text>
<text x="516.4" y="691.4" font-size="10.4" text-anchor="end" fill="#111111" stroke="#111111" stroke-width="0.14" textLength="12.59" lengthAdjust="spacingAndGlyphs">23</text>
<text x="516.4" y="713.2" font-size="10.4" text-anchor="end" fill="#111111" stroke="#111111" stroke-width="0.14" textLength="12.59" lengthAdjust="spacingAndGlyphs">22</text>
<text x="542.8" y="601" font-size="10.4" text-anchor="middle" fill="#111111" stroke="#111111" stroke-width="0.14" textLength="14.59" lengthAdjust="spacingAndGlyphs">−1</text>
<text x="569.6" y="601" font-size="10.4" text-anchor="middle" fill="#111111" stroke="#111111" stroke-width="0.14" textLength="6.3" lengthAdjust="spacingAndGlyphs">0</text>
<text x="595.4" y="601" font-size="10.4" text-anchor="middle" fill="#111111" stroke="#111111" stroke-width="0.14" textLength="6.3" lengthAdjust="spacingAndGlyphs">1</text>
<text x="666.4" y="667.6" font-size="10.4" text-anchor="start" fill="#111111" stroke="#111111" stroke-width="0.14" textLength="6.3" lengthAdjust="spacingAndGlyphs">1</text>
<text x="666.4" y="689.4" font-size="10.4" text-anchor="start" fill="#111111" stroke="#111111" stroke-width="0.14" textLength="6.3" lengthAdjust="spacingAndGlyphs">0</text>
<text x="666.4" y="710.7" font-size="10.4" text-anchor="start" fill="#111111" stroke="#111111" stroke-width="0.14" textLength="14.59" lengthAdjust="spacingAndGlyphs">−1</text>
<path d="M542.5 720.5v5.5M573.5 720.5v5.5M605.5 720.5v5.5M528 666.5h-5.5M528 687.5h-5.5M528 709.5h-5.5M544.5 614v-5.6M569.5 614v-5.6M595.5 614v-5.6M654.6 663.5h5.3M654.6 685.5h5.3M654.6 706.5h5.3" fill="none" stroke="#000" stroke-width="1.25"/>
<text x="569" y="762.5" font-size="10.8" text-anchor="middle" fill="#111111" stroke="#111111" stroke-width="0.14" textLength="44.5" lengthAdjust="spacingAndGlyphs">T2M (°C)</text>
<text x="489.4" y="685.75" font-size="11.2" text-anchor="middle" fill="#111111" stroke="#111111" stroke-width="0.1" textLength="42.8" lengthAdjust="spacingAndGlyphs" transform="rotate(-90 489.4 685.75)">SST (°C)</text>
</g>
<circle cx="220.7" cy="821.3" r="6.3" fill="#b3b31c"/>
<text x="243.5" y="825.9" font-size="14.6" text-anchor="start" fill="#111" font-weight="bold" stroke="#111" stroke-width="0.35" textLength="83.5" lengthAdjust="spacingAndGlyphs">1979-2000</text>
<circle cx="384.5" cy="819.8" r="6.3" fill="#2e8a1c"/>
<text x="409.3" y="823.9" font-size="14.6" text-anchor="start" fill="#111" font-weight="bold" stroke="#111" stroke-width="0.35" textLength="81.4" lengthAdjust="spacingAndGlyphs">2001-2022</text>
</svg>
</body></html>
